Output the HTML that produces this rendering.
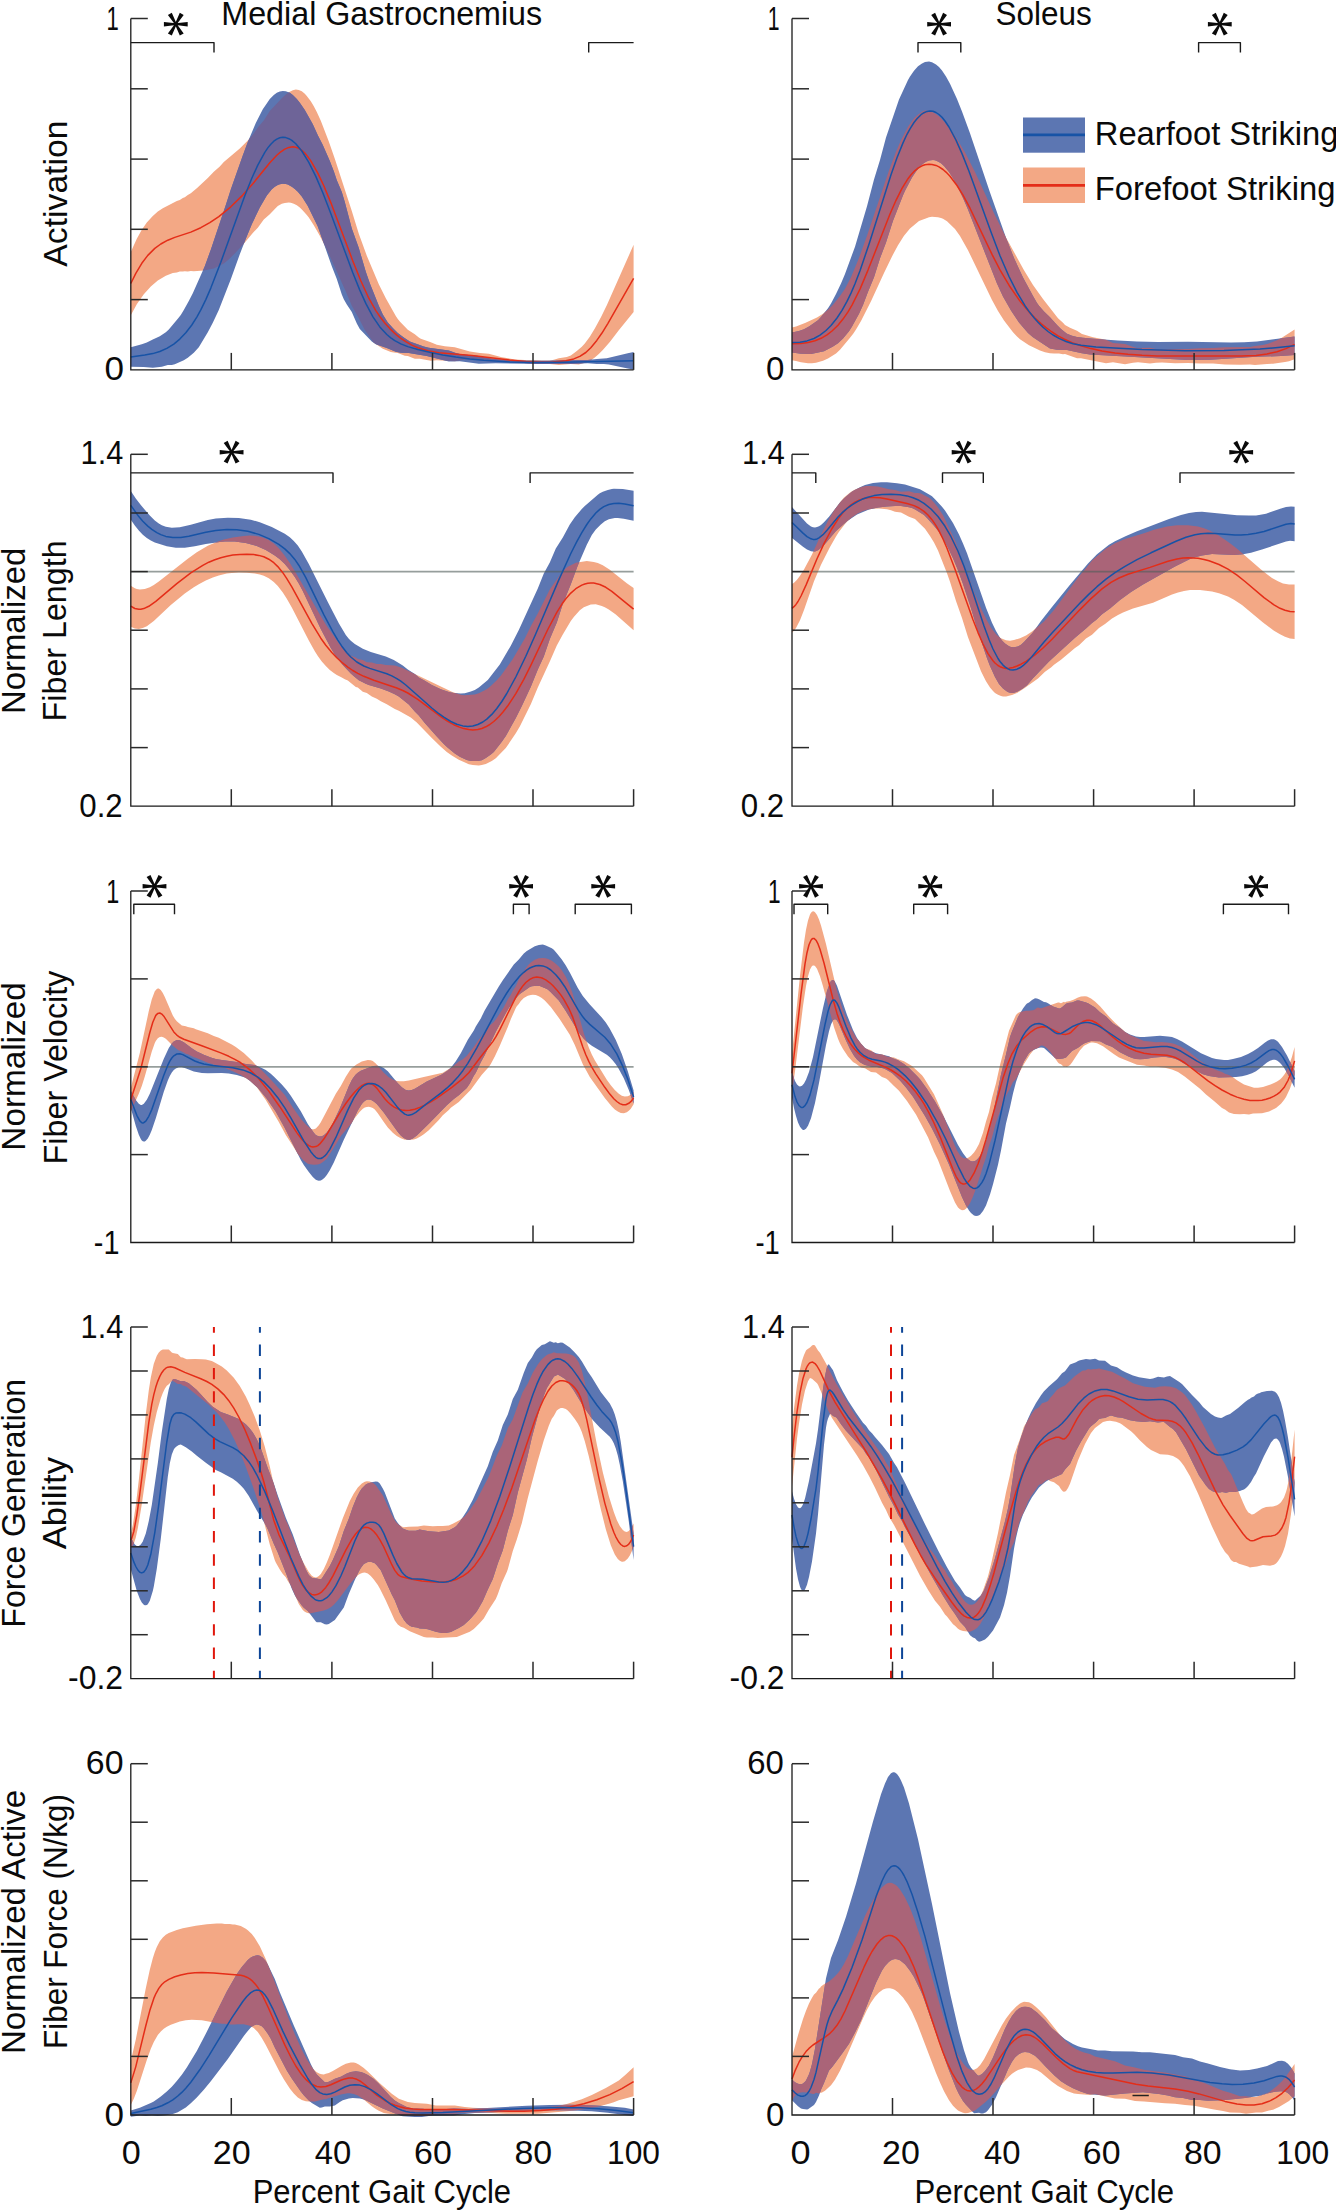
<!DOCTYPE html>
<html><head><meta charset="utf-8"><style>
html,body{margin:0;padding:0;background:#fff;}
svg{display:block;}
text{font-family:"Liberation Sans",sans-serif;fill:#0a0a0a;}
</style></head><body>
<svg width="1336" height="2211" viewBox="0 0 1336 2211">
<defs><clipPath id="c1"><path d="M130.8 251.9L136.8 238.7L141.8 229.8L146.8 222.5L152.8 215.9L157.8 211.6L162.8 208.3L176.8 201.1L179.8 200L182.8 198.1L184.8 197.2L187.8 195L190.8 193.3L196.8 188.2L207.8 178.1L213.8 171.8L219.8 166.4L223.8 162L239.8 148.5L247.8 140.4L252.8 134.7L258.8 126.3L263.8 120.5L269.8 111.1L281.8 98.2L285.8 94.4L288.8 92.2L292.8 90.3L295.8 89.5L298.8 89.9L301.8 91.2L304.8 93.7L306.8 95.9L310.8 101.3L313.8 106.3L316.8 111.9L320.8 120.8L328.8 141.6L334.8 158.8L351.8 210.9L358.8 233.7L366.8 255.7L378.8 284.3L385.8 298.3L395.8 315.9L397.8 319.1L399.8 321.6L407.8 329.8L414.8 334.3L418.8 337.6L420.8 338.8L430.8 342.3L436.8 344.8L444.8 346.2L454.8 347.3L469.8 351.6L479.8 353L488.8 353.8L501.8 357.2L514.8 359.4L524.8 360.1L531.8 360L541.8 360.6L549.8 360.4L553.8 359.7L558.8 358.2L566.8 357L570.8 355.5L576.8 351.1L581.8 346.7L584.8 343.5L589.8 336.7L594.8 328.6L600.8 317.5L606.8 305.2L633.6 244.8L633.6 312L618.8 330.2L609.8 341.9L602.8 349.9L598.8 354L594.8 357.5L589.8 360.9L586.8 362.3L578.8 364.6L570.8 364L558.8 364.9L549.8 363.9L531.8 363.9L519.8 362.4L506.8 361.4L497.8 361.1L488.8 361.4L479.8 360L470.8 359.3L463.8 359.8L454.8 361.3L436.8 360.3L430.8 360.8L419.8 358.7L414.8 358.7L407.8 356.1L404.8 355.8L397.8 352.9L393.8 352.6L390.8 352L382.8 348.8L373.8 342.7L364.8 330L358.8 318.3L351.8 305.7L345.8 291.6L326.8 249.4L319.8 235.7L313.8 225.2L308.8 217.4L306.8 214.9L302.8 210.4L299.8 207.6L296.8 205.3L293.8 203.7L290.8 202.8L288.8 202.6L284.8 202.9L281.8 203.8L277.8 206.1L275.8 207.9L269.8 214.3L263.8 219.6L257.8 227.7L252.8 233L243.8 243.7L234.8 253.5L227.8 260.2L223.8 263.5L213.8 268.4L203.8 270.6L193.8 271.2L190.8 270.9L187.8 271.4L184.8 271.2L182.8 271.6L179.8 271.6L176.8 272.5L172.8 273.1L165.8 275.7L157.8 280.5L150.8 286.4L143.8 294.3L136.8 304.3L130.8 315.2Z"/></clipPath><clipPath id="c2"><path d="M792 327.5L796 326.5L805 323.1L817 317.5L823 313.8L829 308.8L833 304.7L840 296L845 288.8L851 277.2L859 258L867 235.7L889 170.4L896 151.8L901 140.2L908 126.8L914 118.3L917 115.4L922 111.8L924 110.8L926 110.5L929 111L934 112.7L939 116.3L945 122.4L950 128.4L957 139.1L965 152.6L975 172L994 213.2L1006 237.6L1024 270.2L1033 284.9L1043 299L1058 318.2L1063 322.8L1065 325.1L1070 327.8L1077 330.8L1082 333.9L1093 337.2L1106 339.8L1113 342.9L1125 343.9L1132 346.5L1137 347.9L1150 347.8L1156 348.9L1162 349.5L1175 348.9L1188 349L1200 348.2L1213 348L1225 347.2L1250 346.9L1255 345.9L1263 344.9L1268 343.7L1277 340.2L1281 338.3L1294.6 329.6L1294.6 359.3L1289 361.2L1285 362.1L1273 363.8L1267 363.9L1255 365L1250 364.5L1240 364.8L1225 364.5L1213 363.6L1200 363.6L1188 363.1L1175 363.3L1162 362.5L1156 362.8L1150 363.6L1138 362.2L1133 362.7L1125 364.2L1113 362.3L1106 363.3L1081 358.3L1077 358.2L1065 353.9L1063 354.2L1059 353.4L1054 353.5L1050 353.2L1045 352.2L1040 350.6L1029 345.2L1020 339.2L1017 336.5L1013 332.2L1004 320.4L998 311.1L992 299.9L968 250.2L960 236.1L955 229.1L947 221.3L943 218.8L941 217.9L938 217.2L932 216.7L929 217.3L919 220.9L910 228.5L904 235.7L898 245.3L892 256.4L884 273L871 301.3L861 321L856 329.5L853 333.9L849 339.1L840 349.8L836 353.5L828 358.5L823 360.7L816 362.8L812 363.3L808 363.3L801 362.3L796 360.9L792 360.2Z"/></clipPath><clipPath id="c3"><path d="M130.8 585.7L134.8 588.3L136.8 589.1L139.8 589.6L144.8 589.1L149.8 587.2L153.8 585L158.8 581.5L187.8 558.7L196.8 552.3L207.8 545.8L217.8 541.5L223.8 539.5L232.8 537.4L243.8 535.9L249.8 535.6L253.8 535.8L258.8 536.4L262.8 537.5L268.8 540L273.8 543.4L278.8 548.2L284.8 555.7L289.8 563L295.8 572.7L318.8 612.8L326.8 626L340.8 646.1L347.8 653.8L350.8 655.7L355.8 657.6L357.8 659.1L362.8 660L366.8 662.3L371.8 662.5L376.8 664L380.8 664.1L385.8 664.9L394.8 665.6L401.8 667.7L451.8 691.8L456.8 693.6L461.8 694.9L464.8 695.3L474.8 694.6L478.8 693.2L484.8 690.3L487.8 688.5L490.8 686L496.8 680.2L500.8 675.8L512.8 659.1L524.8 638.5L530.8 626.2L537.8 613.5L549.8 589.4L560.8 573.7L564.8 569.2L567.8 566.8L575.8 562.8L586.8 560.9L593.8 561.9L597.8 563L602.8 565.2L609.8 569.7L626.8 583.3L633.6 588.1L633.6 630.3L615.8 614.5L608.8 609.4L604.8 607.2L601.8 605.9L595.8 604.3L590.8 604.5L583.8 607.2L579.8 610.3L573.8 617L570.8 621.1L562.8 634.4L556.8 645.4L549.8 661.5L537.8 687.4L530.8 704.3L519.8 726.6L515.8 733.3L505.8 748.1L495.8 758.3L491.8 761.1L485.8 763.9L481.8 765.1L478.8 765.4L472.8 764.9L468.8 764.2L458.8 759.7L451.8 755.5L446.8 752L440.8 746.8L431.8 738L416.8 722.5L410.8 717.4L398.8 710.8L394.8 709L386.8 704.3L380.8 701.3L376.8 698.7L371.8 696.6L366.8 692.9L362.8 691.7L357.8 687.6L355.8 686.9L347.8 680.4L344.8 679.2L341.8 677.4L336.8 675.1L333.8 673.1L329.8 669.9L325.8 666L321.8 661.4L317.8 656L314.8 651.2L308.8 640.5L291.8 607.4L286.8 598.7L282.8 592.5L277.8 586L273.8 582L268.8 578.3L263.8 575.8L259.8 574.5L254.8 573.6L246.8 572.8L238.8 572.5L231.8 572.9L226.8 573.6L218.8 575.5L212.8 577.6L205.8 580.5L198.8 584.2L193.8 587.2L184.8 593.5L170.8 605.1L153.8 621L146.8 626.2L142.8 628.1L138.8 629L134.8 628.6L130.8 626.7Z"/></clipPath><clipPath id="c4"><path d="M792 584L794 582.7L797 579.8L800 575.8L804 569.4L812 554.5L819 538.9L828 520.7L834 510.4L841 501L844 497.6L847 494.9L851 491.8L855 489.4L862 486.8L866 486.1L870 485.9L878 486.6L889 489.2L895 489.9L901 491.8L909 491.3L915 493L918 493L921 493.4L929 497.7L931 499.3L934 502.5L938 507.5L943 515.3L954 538.6L956 543.1L962 560L968 574.8L974 592.1L982 610.6L986 618.7L991 627.7L996 634.2L998 636.1L1001 638.3L1006 640.3L1010 640.7L1014 640L1020 638.2L1026 635.5L1032 631.6L1044 621.6L1054 609.9L1079 576.2L1086 568.3L1092 560.6L1106 548.4L1115 543.2L1125 539L1144 533.3L1154 529.7L1167 526.6L1177 525.2L1188 525.2L1198 526.6L1204 528.3L1209 530.3L1218 535.1L1225 539.7L1231 544.1L1238 549.6L1261 569.6L1267 574.3L1272 577.9L1278 581.3L1283 583.4L1289 584.6L1294.6 584.5L1294.6 639.1L1290 638.4L1285 636.7L1280 634.3L1274 630.7L1263 622.5L1242 605.1L1234 599.7L1228 596.5L1219 593.2L1212 591.5L1206 590.7L1200 590L1194 589.9L1190 590.1L1184 590.9L1178 592.4L1172 594.5L1153 602.8L1133 608.5L1123 612.6L1118 615L1112 618.6L1105 623.9L1099 628L1092 634.7L1086 638.6L1079 645.2L1075 648L1061 659.7L1054 664.7L1051 667.4L1045 671.7L1038 678.4L1024 688.6L1017 692.9L1012 695.1L1006 696.4L1003 696.4L1001 696L998 694.8L995 692.9L993 691.1L990 687.5L986 681.3L981 671.2L968 637.3L962 618L956 600.9L950 581.7L947 573.2L938 550.6L934 542.6L930 536L925 528.8L915 519.1L909 516.8L901 512.5L895 511.7L891 510.2L887 509.2L879 508.6L873 508.8L868 509.5L863 510.9L858 513.2L852 517.2L848 520.7L845 524.1L839 531.8L836 536.4L830 547L821 564.8L814 581.2L804 610L800 620.2L796 628L794 630.7L792 632.6Z"/></clipPath><clipPath id="c5"><path d="M130.8 1088.1L139.8 1053L148.8 1011.1L151.8 999.3L154.8 991.3L156.8 988.9L157.8 988.5L158.8 988.6L160.8 990.1L162.8 993.1L164.8 997.1L172.8 1015.4L174.8 1018.8L176.8 1021.3L181.8 1025.4L185.8 1026.3L187.8 1027.1L193.8 1028.2L195.8 1029.2L207.8 1033.3L213.8 1036L218.8 1037.8L231.8 1044.6L235.8 1047.1L243.8 1053L251.8 1060.6L255.8 1065L261.8 1070.3L269.8 1078.4L284.8 1095L292.8 1107.5L300.8 1118.7L305.8 1124.6L310.8 1128.7L311.8 1129.2L313.8 1129.2L315.8 1128.4L316.8 1127.6L318.8 1125.3L320.8 1122.3L335.8 1093.8L340.8 1086.1L345.8 1076.7L349.8 1070.6L351.8 1068L356.8 1064.2L361.8 1061.5L367.8 1059.9L370.8 1060.2L372.8 1061.1L375.8 1063.4L383.8 1072.8L388.8 1077.3L393.8 1080L396.8 1080.9L399.8 1081.3L403.8 1081.2L408.8 1080.6L423.8 1076.9L442.8 1072.7L448.8 1069.1L450.8 1068.3L458.8 1061.5L462.8 1059.2L466.8 1055.7L472.8 1048.3L478.8 1039.6L481.8 1036.1L489.8 1025.6L493.8 1021.9L496.8 1018L503.8 1007.3L507.8 999.5L510.8 994.8L512.8 990.8L515.8 986.2L518.8 979.6L522.8 972.8L525.8 968.2L527.8 965.6L530.8 962.6L534.8 959.8L538.8 958.3L542.8 957.9L545.8 958.3L548.8 959.3L551.8 960.8L554.8 962.9L558.8 966.6L561.8 970.3L565.8 976.8L568.8 983.2L572.8 994L575.8 1003.9L583.8 1033.2L588.8 1047.6L591.8 1054.4L594.8 1060.3L606.8 1079.7L610.8 1085.3L614.8 1090.1L618.8 1093.8L621.8 1095.7L624.8 1096.6L627.8 1096.3L630.8 1094.7L633.6 1091.7L633.6 1104.3L630.8 1108.7L628.8 1110.8L626.8 1112.2L623.8 1113.2L620.8 1112.9L617.8 1111.6L614.8 1109.4L611.8 1106.5L604.8 1097.9L589.8 1077.1L582.8 1064.2L574.8 1045.1L569.8 1034.8L559.8 1019.2L550.8 1007L544.8 1000.5L541.8 998L538.8 996.2L535.8 995.1L532.8 994.7L530.8 994.9L527.8 995.7L523.8 998.1L520.8 1000.9L518.8 1004L516.8 1006.3L515.8 1008L510.8 1019.2L507.8 1027.1L499.8 1045.8L494.8 1056.6L490.8 1064L488.8 1066.9L481.8 1074.8L470.8 1089.7L458.8 1102.1L450.8 1107.7L448.8 1110L442.8 1115.2L438.8 1120.1L428.8 1130.2L423.8 1134.3L420.8 1136.3L416.8 1138.4L413.8 1139.4L408.8 1140.1L404.8 1139.7L400.8 1138.3L396.8 1136L392.8 1132.8L387.8 1127.5L383.8 1122.1L377.8 1113.2L374.8 1109.6L372.8 1108.1L370.8 1107.2L368.8 1106.8L366.8 1106.9L364.8 1107.6L362.8 1108.8L359.8 1111.7L354.8 1118.1L351.8 1122.9L340.8 1136L335.8 1144.6L329.8 1154.1L326.8 1158.4L324.8 1160.6L320.8 1163.5L317.8 1164.6L313.8 1164.7L309.8 1164.3L307.8 1163.8L303.8 1160.8L297.8 1153.9L292.8 1145.7L285.8 1135.1L278.8 1121.9L265.8 1100.1L256.8 1087.3L249.8 1080.8L240.8 1074.9L232.8 1071.3L224.8 1068.1L218.8 1066.5L213.8 1064.5L207.8 1062.7L195.8 1057.8L193.8 1057.3L187.8 1054.2L185.8 1053.7L180.8 1050.9L178.8 1050.6L172.8 1045.7L165.8 1038.8L163.8 1037.4L161.8 1036.7L159.8 1036.9L157.8 1038.3L155.8 1041.1L154.8 1043.1L151.8 1051.4L144.8 1076.6L141.8 1086.1L138.8 1093.7L130.8 1111.4Z"/></clipPath><clipPath id="c6"><path d="M792 1054L800 975.8L804 942.5L806 929.8L808 920.4L810 914.6L811 912.8L812 911.8L813 911.3L814 911.5L815 912.2L817 915L819 919.5L821 925.4L826 944.1L836 986.9L839 997.9L843 1010.5L848 1022.7L856 1037.5L865 1047.9L866 1048.4L871 1050.3L876 1053.9L882 1054.3L887 1056.6L894 1057.4L898 1059.2L904 1061.3L912 1065.9L922 1075.2L924 1078L934 1094.2L943 1114.3L950 1132.4L953 1141L957 1150.4L960 1155.3L962 1157.2L964 1158.2L967 1158.2L969 1157.3L971 1155.8L974 1152.5L976 1149.5L979 1143.9L983 1132.8L986 1121.4L989 1111.9L992 1098.1L996 1083.2L1000 1065L1009 1030.7L1016 1014.9L1018 1012.9L1020 1012L1026 1010.8L1029 1010.8L1033 1010.2L1034 1010L1037 1007.8L1038 1007.5L1041 1008.2L1042 1008L1058 1002.6L1059 1002.4L1061 1003.3L1064 1001.8L1065 1002.4L1066 1001.7L1070 1001L1074 999.6L1078 997.4L1081 996.5L1085 996.2L1087 996.4L1091 998.5L1095 1001.6L1100 1006.3L1108 1015.6L1115 1022.8L1125 1031.7L1130 1035L1144 1041L1150 1041.5L1156 1042.3L1162 1042.1L1169 1042.7L1174 1043.8L1177 1044.9L1181 1046.8L1187 1050.5L1193 1055L1200 1060.8L1212 1068.1L1216 1070L1222 1072.1L1225 1073.7L1229 1074.9L1233 1077.2L1237 1080.2L1244 1084.5L1254 1087.8L1258 1087.7L1263 1086.9L1269 1085.1L1274 1083.1L1277 1081.5L1280 1079.5L1282 1077.6L1284 1075.1L1286 1072L1289 1065.5L1292 1056.8L1294.6 1047L1294.6 1074.7L1290 1088.6L1286 1096.9L1284 1100L1281 1103.8L1276 1108.1L1269 1111.6L1262 1113.3L1253 1113.6L1249 1114.4L1244 1114L1240 1114.3L1234 1114L1229 1112.5L1225 1109.6L1222 1108L1214 1101L1206 1094.5L1200 1088.7L1185 1076.8L1178 1072.1L1172 1069.4L1165 1067.8L1156 1066.7L1150 1066.8L1144 1065.4L1137 1064.8L1119 1057.4L1114 1054.2L1103 1046.2L1097 1043.2L1093 1042.5L1091 1042.6L1089 1043.2L1084 1045.8L1080 1050.2L1072 1062.5L1070 1064.9L1067 1067L1066 1067.1L1065 1066.6L1064 1067L1061 1064.3L1059 1063.5L1058 1062.5L1050 1051.6L1047 1048.2L1044 1046.1L1042 1045.4L1041 1045.5L1038 1047.9L1034 1049.5L1030 1054.4L1024 1064.1L1016 1078.9L1013 1082L1009 1090.5L1006 1095.9L1003 1102.9L996 1122.6L992 1137.6L989 1145.9L986 1157.6L983 1166L981 1173.1L975 1191.3L973 1196.6L970 1203.2L967 1207.7L965 1209.5L964 1209.9L962 1210.2L960 1209.2L958 1207.4L955 1202.4L950 1191L938 1160.1L934 1151.7L928 1137.2L916 1114.6L907 1101.1L899 1090.8L894 1086.1L888 1079.9L886 1078.6L882 1076.9L876 1072.5L871 1072L865 1068.2L861 1067.5L856 1063.8L853 1062.1L848 1056.6L843 1049L840 1043.4L838 1038.7L834 1027.3L823 986.2L820 976.2L817 968.8L815 966L814 965.4L813 965.4L812 966.1L810 969.6L808 976.2L806 986L803 1006L795 1071.2L792 1092.7Z"/></clipPath><clipPath id="c7"><path d="M130.8 1533.6L132.8 1525L135.8 1505.4L138.8 1479.9L145.8 1414.2L148.8 1390.2L150.8 1377.4L153.8 1363.8L156.8 1355.8L158.8 1352.6L160.8 1350.6L162.8 1349.6L164.8 1349.4L168.8 1349.4L171.8 1352.4L172.8 1353L177.8 1354.1L180.8 1357.2L182.8 1357.4L184.8 1358.6L186.8 1359.3L194.8 1358.9L201.8 1359.2L205.8 1359.6L211.8 1361.1L213.8 1361.9L221.8 1366.5L226.8 1370.5L233.8 1377.8L239.8 1386.1L245.8 1396.6L249.8 1404.9L254.8 1416.8L259.8 1430.4L264.8 1446.8L269.8 1466.5L272.8 1480.1L277.8 1497.7L285.8 1520.2L287.8 1524.3L290.8 1532.6L299.8 1554.9L303.8 1563.3L308.8 1572.1L311.8 1575.7L313.8 1577.1L315.8 1577.5L316.8 1577.3L318.8 1576.1L320.8 1574L323.8 1569.1L326.8 1562.5L329.8 1555L342.8 1518.2L349.8 1501.1L353.8 1493.5L357.8 1487.6L361.8 1483.6L364.8 1481.8L366.8 1481.3L369.8 1481.5L372.8 1482.8L375.8 1485.2L382.8 1495.3L390.8 1513.1L394.8 1520.5L396.8 1523L398.8 1524.7L402.8 1526.9L403.8 1527.2L408.8 1526.7L417.8 1526.4L423.8 1525.4L432.8 1526.2L437.8 1525.9L442.8 1526.1L448.8 1525.4L452.8 1523.8L459.8 1519.9L464.8 1516.3L469.8 1509.9L476.8 1499.7L488.8 1476.6L496.8 1455.5L501.8 1445.5L507.8 1428.3L512.8 1419.2L521.8 1394.4L522.8 1392.1L527.8 1383.6L532.8 1372.8L537.8 1364.5L541.8 1359.3L546.8 1354.9L548.8 1354L551.8 1353.2L553.8 1352.2L556.8 1353.3L565.8 1353.5L568.8 1353.9L571.8 1354.9L573.8 1356.1L575.8 1357.9L578.8 1362.4L581.8 1370.5L585.8 1386.5L596.8 1444.2L602.8 1472.3L608.8 1495.9L613.8 1512L616.8 1519.9L619.8 1526L622.8 1530.1L624.8 1531.6L626.8 1531.9L628.8 1531L630.8 1528.8L633.6 1523.4L633.6 1546.5L631.8 1551.3L629.8 1555.4L627.8 1558.5L624.8 1561.2L622.8 1561.7L621.8 1561.7L619.8 1560.8L617.8 1559L614.8 1554.4L610.8 1545.2L605.8 1529.2L600.8 1509.3L588.8 1456.3L584.8 1441.3L581.8 1432.1L579.8 1427.2L577.8 1423.4L574.8 1418.9L570.8 1413.7L567.8 1410.6L565.8 1409.1L562.8 1408L560.8 1408.1L558.8 1408.9L556.8 1410.6L553.8 1415.9L551.8 1418.8L548.8 1425.8L543.8 1440.2L537.8 1460.8L527.8 1497.9L521.8 1523.2L516.8 1539.4L512.8 1550.9L507.8 1569.3L506.8 1572L501.8 1583L497.8 1594.2L495.8 1598.9L488.8 1609.7L483.8 1618.6L479.8 1623.1L473.8 1629.1L469.8 1631.7L456.8 1637.1L437.8 1638.1L432.8 1637.5L426.8 1637.4L423.8 1636.9L409.8 1631.2L403.8 1627.8L400.8 1626.8L397.8 1624.6L394.8 1620.4L385.8 1600.4L379.8 1588.4L377.8 1585.1L373.8 1579.4L370.8 1575.9L367.8 1573.6L364.8 1572.6L362.8 1572.7L360.8 1573.4L358.8 1574.5L355.8 1577.2L350.8 1583L337.8 1600.3L333.8 1604.7L330.8 1607.2L327.8 1609.1L323.8 1610.5L310.8 1613.2L308.8 1613.2L306.8 1612.8L304.8 1611.8L302.8 1610L298.8 1604L290.8 1585.6L287.8 1581L285.8 1577.3L282.8 1573.9L279.8 1569.4L275.8 1562.6L274.8 1560.3L269.8 1544.5L261.8 1513.3L252.8 1486.2L244.8 1464.3L239.8 1451.8L234.8 1440.5L228.8 1428.9L224.8 1422.6L219.8 1416L215.8 1411.6L208.8 1404.8L186.8 1387.1L184.8 1386.1L182.8 1385.6L180.8 1384L177.8 1384L174.8 1381.9L172.8 1381.1L171.8 1381.3L170.8 1382L168.8 1384.3L166.8 1385.7L164.8 1388.7L162.8 1392.9L160.8 1398.2L156.8 1412L153.8 1425.5L150.8 1442.2L141.8 1504.3L137.8 1528.3L135.8 1537.4L133.8 1543.7L132.8 1545.6L131.8 1546.5L130.8 1546.4Z"/></clipPath><clipPath id="c8"><path d="M792 1428L794 1408.6L797 1385.4L799 1373.6L802 1360.8L804 1355L806 1350.6L807 1349.4L810 1347.5L812 1345.4L813 1345L814 1344.9L815 1345.6L818 1350.4L820 1352.8L826 1363.6L836 1383.3L850 1407L863 1427.9L883 1456.6L886 1462.4L889 1467.3L905 1503L915 1523.7L924 1539.6L930 1549L935 1555.6L940 1563.9L945 1570.3L948 1575.9L952 1581.6L955 1587.2L962 1597.7L965 1601.5L967 1603.3L969 1604.4L971 1604.8L973 1604.5L975 1603.4L977 1601.5L979 1598.7L981 1595L983 1590.5L988 1576.3L991 1564.6L998 1532.9L1006 1492.3L1010 1474.9L1014 1454.9L1020 1439L1024 1426.4L1032 1413.3L1035 1409.6L1039 1407.3L1042 1403.2L1046 1402L1048 1401L1050 1397.9L1053 1394.7L1057 1389.7L1061 1387.2L1065 1385.6L1075 1376.1L1082 1371.1L1083 1370.6L1085 1370.4L1088 1369.1L1091 1369.6L1094 1368.9L1095 1369.2L1099 1368.4L1112 1371.8L1121 1376.6L1125 1378.5L1133 1383.2L1143 1386.3L1145 1386.8L1155 1387.7L1160 1386.5L1165 1386.3L1171 1386.7L1176 1388.3L1182 1392.3L1185 1395.1L1187 1397.7L1192 1404.8L1196 1411.4L1205 1428L1215 1447.7L1225 1463.9L1228 1470.1L1231 1474L1232 1475.9L1243 1502.5L1246 1508.9L1248 1512L1249 1513L1250 1513.2L1251 1514.2L1252 1514.5L1254 1514L1262 1508.6L1266 1507.1L1273 1506.5L1277 1505.3L1279 1504.1L1281 1502.2L1284 1497.5L1286 1492.1L1287 1488.4L1289 1478.2L1291 1463.5L1294.6 1429.6L1294.6 1483.5L1291 1514L1288 1533.7L1285 1546.3L1283 1552L1281 1556.5L1278 1561.3L1276 1563.4L1274 1564.8L1270 1565.7L1263 1565.1L1257 1566.5L1251 1567.2L1250 1567.6L1248 1566.4L1239 1563.8L1236 1562.1L1234 1562L1233 1561.6L1231 1560L1228 1555.1L1225 1552.1L1221 1545.6L1212 1526.5L1198 1493.6L1190 1476.3L1184 1466.1L1181 1461.9L1179 1459.7L1177 1458.2L1173 1456.1L1168 1454.8L1160 1454.2L1151 1450.1L1147 1447L1140 1440.4L1134 1433.9L1131 1431.2L1122 1424.4L1120 1423.3L1116 1421.7L1110 1420.8L1107 1420.9L1103 1422.1L1095 1428L1092 1431.7L1091 1433L1085 1444.1L1078 1460.5L1070 1483.7L1068 1488.1L1066 1490.9L1065 1491.6L1064 1491.8L1063 1491.4L1061 1489.3L1059 1486L1058 1485.2L1054 1482.2L1050 1480.9L1048 1479.5L1045 1481.2L1042 1484.1L1039 1484.7L1031 1496.3L1028 1501.5L1024 1511.7L1020 1520L1014 1542.1L1010 1550.7L1006 1563.3L999 1580.8L995 1592.3L989 1605.6L984 1617.6L980 1624.5L977 1628L974 1630.1L970 1631.7L963 1631L960 1630L958 1628.7L955 1625.8L953 1624.3L947 1616.4L945 1614.5L940 1606.7L935 1600.8L928 1589.7L920 1575.8L899 1534.5L894 1525L889 1516.7L886 1510.1L882 1502.8L875 1487.8L869 1475.9L863 1465.3L857 1455.6L832 1417.9L828 1410L822 1394.1L818 1384.8L817 1383.2L812 1378.7L810 1378L808 1381.3L805 1390.4L802 1404.4L799 1423.4L797 1438.6L792 1486.5Z"/></clipPath><clipPath id="c9"><path d="M130.8 2061L135.8 2039.4L145.8 1988.2L149.8 1969.7L152.8 1958.2L154.8 1952.1L156.8 1947L159.8 1941.3L162.8 1937.4L165.8 1934.8L168.8 1933.1L176.8 1930L182.8 1928.2L195.8 1925.7L206.8 1924.3L216.8 1923.5L221.8 1923.6L224.8 1924L229.8 1923.9L232.8 1924.5L234.8 1924.6L240.8 1926.1L245.8 1928.7L247.8 1930.2L251.8 1934.1L254.8 1938L259.8 1946.3L265.8 1959.2L271.8 1974.2L289.8 2021.8L294.8 2034.2L301.8 2049.7L306.8 2059.4L311.8 2067.1L313.8 2069.5L316.8 2072.2L319.8 2073.8L321.8 2074.3L323.8 2074.4L325.8 2073.7L328.8 2073.1L332.8 2071.1L341.8 2065.7L345.8 2063.7L350.8 2062.5L353.8 2062.6L355.8 2063.1L358.8 2064.5L363.8 2068L368.8 2072.5L379.8 2083.3L391.8 2093.8L398.8 2098.7L407.8 2101.9L414.8 2103.1L426.8 2103.7L435.8 2105.6L454.8 2105.5L464.8 2107.1L472.8 2107.8L494.8 2108.7L524.8 2108.9L549.8 2107L557.8 2106L566.8 2104L581.8 2099.3L591.8 2095L605.8 2088.1L618.8 2080.4L625.8 2074.6L633.6 2067.2L633.6 2096.2L618.8 2100.2L613.8 2102.3L609.8 2103.5L598.8 2106.5L587.8 2108.5L572.8 2110.7L537.8 2113.8L506.8 2113.8L486.8 2112.8L468.8 2112.4L462.8 2112.7L454.8 2113.7L436.8 2113.5L425.8 2115.8L418.8 2115.7L407.8 2115L405.8 2115.2L398.8 2114.3L394.8 2114.6L386.8 2113.6L383.8 2112.9L378.8 2110.8L375.8 2109.1L371.8 2106.2L362.8 2098.8L357.8 2095.5L353.8 2094L349.8 2093.3L347.8 2093.3L341.8 2094.2L328.8 2098L325.8 2099.2L323.8 2099.3L314.8 2101.4L308.8 2101.5L305.8 2101.2L301.8 2099.9L297.8 2097.4L293.8 2093.5L289.8 2088.4L283.8 2079.3L279.8 2072.3L265.8 2045L261.8 2037.9L257.8 2032.1L253.8 2028.1L249.8 2025.8L243.8 2024.3L237.8 2024.2L234.8 2024.6L232.8 2024.4L229.8 2024.6L224.8 2023.8L221.8 2023.7L216.8 2023.1L201.8 2020.2L191.8 2019.7L185.8 2020.2L179.8 2021.4L170.8 2024.7L166.8 2026.7L163.8 2028.7L160.8 2031.5L157.8 2035.1L153.8 2041.9L150.8 2048.8L146.8 2060.1L136.8 2091L133.8 2098.8L130.8 2104.9Z"/></clipPath><clipPath id="c10"><path d="M792 2057.1L798 2035.2L803 2018.9L806 2010.7L809 2003.6L812 1997.7L814 1994.5L816 1992.8L819 1988.4L820 1987.9L821 1986.6L824 1984.3L829 1981.4L834 1977.2L838 1973.1L841 1969L844 1964L848 1956.1L865 1916.1L870 1905.7L873 1900.3L878 1892.2L882 1887.2L886 1883.9L888 1883.1L890 1882.7L892 1883L895 1884.4L897 1886L900 1889.4L905 1897.4L910 1908L915 1921L921 1939.1L941 2008.8L945 2021.7L950 2036L955 2048.5L958 2054.8L961 2060.2L963 2063.2L966 2066.7L968 2068.5L970 2069.5L972 2070L974 2069.7L977 2068.2L980 2065.2L984 2059.3L1002 2024.9L1006 2018.5L1011 2012L1016 2006.7L1020 2003.5L1022 2002.5L1024 2001.8L1029 2002.3L1032 2003.8L1036 2006.9L1040 2010.7L1046 2017.3L1060 2034.9L1065 2040.5L1071 2045.8L1075 2048.4L1080 2051L1084 2052.4L1090 2054L1095 2056.6L1115 2061.3L1125 2065.6L1135 2067.4L1145 2069.9L1165 2072.6L1185 2076.3L1205 2083.2L1223 2090.7L1230 2092.7L1240 2096.2L1246 2096.3L1252 2097L1256 2097L1266 2093.5L1269 2092.2L1277 2086.1L1282 2081.2L1286 2076.4L1294.6 2064L1294.6 2096.1L1289 2101.1L1279 2107L1273 2109.8L1269 2110.5L1262 2112.6L1256 2112.6L1246 2113.8L1240 2112.7L1230 2112.4L1223 2110.9L1214 2109.6L1194 2105.8L1185 2105.1L1175 2103.7L1165 2103.3L1144 2101.4L1135 2100.9L1125 2098.7L1115 2098.6L1095 2094.3L1090 2094.9L1078 2094L1074 2093.4L1067 2090.9L1058 2085.9L1052 2081.7L1041 2072.6L1037 2070.1L1032 2068.2L1030 2067.7L1026 2067.5L1018 2070L1015 2071.7L1012 2073.8L1009 2076.6L999 2087.2L995 2092.3L988 2099.8L985 2102.5L975 2110.4L971 2112.1L968 2112.9L965 2113.2L963 2112.7L960 2111.6L958 2110.4L956 2108.8L953 2105.7L949 2100.3L944 2091.3L940 2082.6L936 2072.9L917 2023.2L912 2012.1L908 2004.7L903 1997.4L898 1992.2L895 1990.1L893 1989.1L890 1988.2L888 1988.2L886 1988.5L883 1989.6L879 1992.4L875 1996.8L871 2002.6L867 2009.8L863 2018.3L845 2060L840 2070.8L835 2079.7L831 2085.2L825 2090.8L822 2092.5L821 2092.8L820 2092.7L819 2093.5L816 2092.8L814 2093.9L813 2093.9L807 2092.5L803 2092.2L799 2092.8L797 2093.9L795 2095.7L794 2096.9L792 2100.7Z"/></clipPath></defs>
<path d="M130.8 251.9L136.8 238.7L141.8 229.8L146.8 222.5L152.8 215.9L157.8 211.6L162.8 208.3L176.8 201.1L179.8 200L182.8 198.1L184.8 197.2L187.8 195L190.8 193.3L196.8 188.2L207.8 178.1L213.8 171.8L219.8 166.4L223.8 162L239.8 148.5L247.8 140.4L252.8 134.7L258.8 126.3L263.8 120.5L269.8 111.1L281.8 98.2L285.8 94.4L288.8 92.2L292.8 90.3L295.8 89.5L298.8 89.9L301.8 91.2L304.8 93.7L306.8 95.9L310.8 101.3L313.8 106.3L316.8 111.9L320.8 120.8L328.8 141.6L334.8 158.8L351.8 210.9L358.8 233.7L366.8 255.7L378.8 284.3L385.8 298.3L395.8 315.9L397.8 319.1L399.8 321.6L407.8 329.8L414.8 334.3L418.8 337.6L420.8 338.8L430.8 342.3L436.8 344.8L444.8 346.2L454.8 347.3L469.8 351.6L479.8 353L488.8 353.8L501.8 357.2L514.8 359.4L524.8 360.1L531.8 360L541.8 360.6L549.8 360.4L553.8 359.7L558.8 358.2L566.8 357L570.8 355.5L576.8 351.1L581.8 346.7L584.8 343.5L589.8 336.7L594.8 328.6L600.8 317.5L606.8 305.2L633.6 244.8L633.6 312L618.8 330.2L609.8 341.9L602.8 349.9L598.8 354L594.8 357.5L589.8 360.9L586.8 362.3L578.8 364.6L570.8 364L558.8 364.9L549.8 363.9L531.8 363.9L519.8 362.4L506.8 361.4L497.8 361.1L488.8 361.4L479.8 360L470.8 359.3L463.8 359.8L454.8 361.3L436.8 360.3L430.8 360.8L419.8 358.7L414.8 358.7L407.8 356.1L404.8 355.8L397.8 352.9L393.8 352.6L390.8 352L382.8 348.8L373.8 342.7L364.8 330L358.8 318.3L351.8 305.7L345.8 291.6L326.8 249.4L319.8 235.7L313.8 225.2L308.8 217.4L306.8 214.9L302.8 210.4L299.8 207.6L296.8 205.3L293.8 203.7L290.8 202.8L288.8 202.6L284.8 202.9L281.8 203.8L277.8 206.1L275.8 207.9L269.8 214.3L263.8 219.6L257.8 227.7L252.8 233L243.8 243.7L234.8 253.5L227.8 260.2L223.8 263.5L213.8 268.4L203.8 270.6L193.8 271.2L190.8 270.9L187.8 271.4L184.8 271.2L182.8 271.6L179.8 271.6L176.8 272.5L172.8 273.1L165.8 275.7L157.8 280.5L150.8 286.4L143.8 294.3L136.8 304.3L130.8 315.2Z" fill="#f3a885"/>
<path d="M130.8 347.3L141.8 344.3L146.8 342.6L152.8 339.4L159.8 336.3L165.8 332.3L168.8 329.6L177.8 318.8L180.8 314.9L183.8 310L188.8 301.1L192.8 293.3L204.8 266.2L210.8 249.7L225.8 205.1L230.8 189.4L242.8 155.4L247.8 142.1L255.8 123L262.8 109.3L269.8 99.1L273.8 94.9L276.8 92.7L279.8 91.5L282.8 91L285.8 91.2L289.8 92.7L292.8 94.9L296.8 98.9L299.8 102.7L304.8 110.1L312.8 124.3L317.8 135.2L322.8 145.1L329.8 161L333.8 171.3L336.8 180.2L341.8 192.1L344.8 201.9L351.8 228.4L358.8 248L365.8 271.8L369.8 283.3L378.8 305.7L382.8 314.4L387.8 322.6L393.8 329.1L397.8 332.9L403.8 337.6L409.8 341.4L423.8 346.4L428.8 347.8L448.8 350.5L455.8 352.9L460.8 354.2L478.8 355.9L490.8 358.4L504.8 359.9L524.8 360.7L547.8 360.8L587.8 360L596.8 358.9L606.8 358.2L627.8 353.2L633.6 352.1L633.6 369.4L627.8 368.5L608.8 364.5L603.8 364L596.8 364L587.8 363.3L568.8 363.9L537.8 364L495.8 363.2L478.8 363.7L459.8 361.3L448.8 361.5L426.8 356L408.8 352.9L400.8 352.7L395.8 351.7L386.8 347.9L375.8 344.3L371.8 341.5L359.8 329L356.8 323.6L351.8 312.1L346.8 304.6L343.8 299.3L341.8 294.6L336.8 279.1L331.8 266.2L317.8 226.6L307.8 205.9L301.8 196.5L297.8 191.8L294.8 188.9L291.8 186.7L287.8 184.6L285.8 184L282.8 183.7L279.8 184.2L277.8 184.9L274.8 186.7L271.8 189.3L266.8 195.4L259.8 207.4L251.8 224.2L245.8 238.8L239.8 254.2L230.8 279.3L218.8 309.9L212.8 322.7L207.8 332.3L198.8 347.3L193.8 352.8L187.8 357.8L183.8 360.2L174.8 364.3L171.8 365L167.8 365.1L161.8 366.7L152.8 367.7L143.8 366.9L130.8 366.8Z" fill="#5c76b2"/>
<path d="M130.8 347.3L141.8 344.3L146.8 342.6L152.8 339.4L159.8 336.3L165.8 332.3L168.8 329.6L177.8 318.8L180.8 314.9L183.8 310L188.8 301.1L192.8 293.3L204.8 266.2L210.8 249.7L225.8 205.1L230.8 189.4L242.8 155.4L247.8 142.1L255.8 123L262.8 109.3L269.8 99.1L273.8 94.9L276.8 92.7L279.8 91.5L282.8 91L285.8 91.2L289.8 92.7L292.8 94.9L296.8 98.9L299.8 102.7L304.8 110.1L312.8 124.3L317.8 135.2L322.8 145.1L329.8 161L333.8 171.3L336.8 180.2L341.8 192.1L344.8 201.9L351.8 228.4L358.8 248L365.8 271.8L369.8 283.3L378.8 305.7L382.8 314.4L387.8 322.6L393.8 329.1L397.8 332.9L403.8 337.6L409.8 341.4L423.8 346.4L428.8 347.8L448.8 350.5L455.8 352.9L460.8 354.2L478.8 355.9L490.8 358.4L504.8 359.9L524.8 360.7L547.8 360.8L587.8 360L596.8 358.9L606.8 358.2L627.8 353.2L633.6 352.1L633.6 369.4L627.8 368.5L608.8 364.5L603.8 364L596.8 364L587.8 363.3L568.8 363.9L537.8 364L495.8 363.2L478.8 363.7L459.8 361.3L448.8 361.5L426.8 356L408.8 352.9L400.8 352.7L395.8 351.7L386.8 347.9L375.8 344.3L371.8 341.5L359.8 329L356.8 323.6L351.8 312.1L346.8 304.6L343.8 299.3L341.8 294.6L336.8 279.1L331.8 266.2L317.8 226.6L307.8 205.9L301.8 196.5L297.8 191.8L294.8 188.9L291.8 186.7L287.8 184.6L285.8 184L282.8 183.7L279.8 184.2L277.8 184.9L274.8 186.7L271.8 189.3L266.8 195.4L259.8 207.4L251.8 224.2L245.8 238.8L239.8 254.2L230.8 279.3L218.8 309.9L212.8 322.7L207.8 332.3L198.8 347.3L193.8 352.8L187.8 357.8L183.8 360.2L174.8 364.3L171.8 365L167.8 365.1L161.8 366.7L152.8 367.7L143.8 366.9L130.8 366.8Z" fill="#6e6498" clip-path="url(#c1)"/>
<path d="M130.8 283.5L135.8 273.4L141.8 263.3L147.8 255.4L154.8 248.4L160.8 244L167.8 240.2L174.8 237.4L190.8 232.1L200.8 227.7L209.8 222.7L218.8 216.6L230.8 206.8L242.8 195.1L252.8 183.8L269.8 162.7L276.8 155.2L280.8 151.8L284.8 149.1L288.8 147.4L292.8 146.8L295.8 147.2L298.8 148.3L301.8 150.3L304.8 153.1L307.8 156.7L310.8 160.9L317.8 173.1L323.8 185.8L330.8 202.6L352.8 260.9L360.8 280.8L368.8 298.2L375.8 310.6L379.8 316.5L384.8 323L389.8 328.6L394.8 333.4L399.8 337.6L405.8 341.7L411.8 345.1L417.8 347.7L427.8 350.8L438.8 352.8L471.8 355.6L509.8 360.1L525.8 361.6L539.8 362.2L552.8 362L565.8 360.7L573.8 358.9L579.8 356.4L585.8 352.5L590.8 347.7L596.8 340.4L601.8 333.3L607.8 323.6L633.6 278.4" fill="none" stroke="#e42d18" stroke-width="1.5" stroke-linejoin="round"/>
<path d="M130.8 357.1L144.8 355.1L152.8 353.6L159.8 351.5L166.8 348.4L173.8 344.1L179.8 339.1L185.8 332.8L191.8 325L196.8 317.1L200.8 309.9L205.8 299.6L210.8 288.1L220.8 262.2L244.8 195.7L251.8 178.3L257.8 165.1L264.8 152.3L267.8 147.9L270.8 144.2L273.8 141.2L276.8 139.1L279.8 137.8L282.8 137.3L285.8 137.6L288.8 138.7L291.8 140.4L295.8 143.8L301.8 151L308.8 162.3L315.8 176.4L322.8 192.8L330.8 213.4L352.8 272.8L359.8 290.1L365.8 303.4L372.8 316.6L379.8 326.9L386.8 334.5L390.8 337.9L394.8 340.7L400.8 343.9L407.8 346.6L417.8 349.5L429.8 352.3L442.8 354.9L455.8 357.1L469.8 358.9L483.8 360.3L509.8 361.9L537.8 362.4L563.8 362.2L633.6 360.8" fill="none" stroke="#1753a6" stroke-width="1.5" stroke-linejoin="round"/>
<path d="M130.8 18.5 L130.8 369.9 L633.6 369.9" fill="none" stroke="#1a1a1a" stroke-width="1.3"/>
<line x1="130.8" y1="18.5" x2="147.8" y2="18.5" stroke="#2a2a2a" stroke-width="1.5" />
<line x1="130.8" y1="88.8" x2="147.8" y2="88.8" stroke="#2a2a2a" stroke-width="1.5" />
<line x1="130.8" y1="159.1" x2="147.8" y2="159.1" stroke="#2a2a2a" stroke-width="1.5" />
<line x1="130.8" y1="229.3" x2="147.8" y2="229.3" stroke="#2a2a2a" stroke-width="1.5" />
<line x1="130.8" y1="299.6" x2="147.8" y2="299.6" stroke="#2a2a2a" stroke-width="1.5" />
<line x1="231.3" y1="369.9" x2="231.3" y2="352.9" stroke="#2a2a2a" stroke-width="1.5" />
<line x1="331.9" y1="369.9" x2="331.9" y2="352.9" stroke="#2a2a2a" stroke-width="1.5" />
<line x1="432.5" y1="369.9" x2="432.5" y2="352.9" stroke="#2a2a2a" stroke-width="1.5" />
<line x1="533" y1="369.9" x2="533" y2="352.9" stroke="#2a2a2a" stroke-width="1.5" />
<line x1="633.6" y1="369.9" x2="633.6" y2="352.9" stroke="#2a2a2a" stroke-width="1.5" />
<path d="M792 327.5L796 326.5L805 323.1L817 317.5L823 313.8L829 308.8L833 304.7L840 296L845 288.8L851 277.2L859 258L867 235.7L889 170.4L896 151.8L901 140.2L908 126.8L914 118.3L917 115.4L922 111.8L924 110.8L926 110.5L929 111L934 112.7L939 116.3L945 122.4L950 128.4L957 139.1L965 152.6L975 172L994 213.2L1006 237.6L1024 270.2L1033 284.9L1043 299L1058 318.2L1063 322.8L1065 325.1L1070 327.8L1077 330.8L1082 333.9L1093 337.2L1106 339.8L1113 342.9L1125 343.9L1132 346.5L1137 347.9L1150 347.8L1156 348.9L1162 349.5L1175 348.9L1188 349L1200 348.2L1213 348L1225 347.2L1250 346.9L1255 345.9L1263 344.9L1268 343.7L1277 340.2L1281 338.3L1294.6 329.6L1294.6 359.3L1289 361.2L1285 362.1L1273 363.8L1267 363.9L1255 365L1250 364.5L1240 364.8L1225 364.5L1213 363.6L1200 363.6L1188 363.1L1175 363.3L1162 362.5L1156 362.8L1150 363.6L1138 362.2L1133 362.7L1125 364.2L1113 362.3L1106 363.3L1081 358.3L1077 358.2L1065 353.9L1063 354.2L1059 353.4L1054 353.5L1050 353.2L1045 352.2L1040 350.6L1029 345.2L1020 339.2L1017 336.5L1013 332.2L1004 320.4L998 311.1L992 299.9L968 250.2L960 236.1L955 229.1L947 221.3L943 218.8L941 217.9L938 217.2L932 216.7L929 217.3L919 220.9L910 228.5L904 235.7L898 245.3L892 256.4L884 273L871 301.3L861 321L856 329.5L853 333.9L849 339.1L840 349.8L836 353.5L828 358.5L823 360.7L816 362.8L812 363.3L808 363.3L801 362.3L796 360.9L792 360.2Z" fill="#f3a885"/>
<path d="M792 332.4L799 330.9L804 329.2L809 326.5L818 320.3L821 317L828 308.2L831 303.5L836 294.1L841 283.5L845 274.1L855 246.7L867 206.3L874 179.4L880 160L886 137.6L899 99.5L908 80.1L910 76.5L914 70.7L918 66.3L922 63.4L925 62.1L929 61.5L932 62.2L936 64.4L939 66.9L942 70.6L946 76.6L950 83.7L957 98.9L962 111.4L970 133.2L990 192.6L1006 237.7L1014 258.1L1023 277.6L1033 296.1L1037 302.9L1039 305.7L1044 311.6L1050 317.3L1057 325L1061 328.9L1065 332.2L1067 333.7L1072 335.7L1077 336.9L1083 337.7L1097 339.1L1118 340.5L1137 341.5L1158 342L1188 341.8L1231 342.4L1244 342.2L1257 341.6L1294.6 336.6L1294.6 355L1281 356.1L1256 356.8L1210 359.7L1188 359.9L1090 354.4L1082 353.3L1067 350L1057 349.7L1050 348.6L1033 337.2L1028 333L1019 322.5L1011 310.6L1003 296.4L997 283.6L968 209.6L963 197.9L956 183.6L953 178.2L949 172.1L944 165.9L941 163.3L938 161.5L935 160.3L933 160L929 160.6L926 161.8L923 163.7L920 166.5L916 171.4L912 177.5L905 190.7L903 195.2L893 220.8L886 242.5L880 258.3L874 277.3L868 291.8L863 305.1L859 313.8L852 326.5L849 331.3L843 338.4L838 343.2L833 346.6L824 351.2L811 354.1L801 353.8L792 352.6Z" fill="#5c76b2"/>
<path d="M792 332.4L799 330.9L804 329.2L809 326.5L818 320.3L821 317L828 308.2L831 303.5L836 294.1L841 283.5L845 274.1L855 246.7L867 206.3L874 179.4L880 160L886 137.6L899 99.5L908 80.1L910 76.5L914 70.7L918 66.3L922 63.4L925 62.1L929 61.5L932 62.2L936 64.4L939 66.9L942 70.6L946 76.6L950 83.7L957 98.9L962 111.4L970 133.2L990 192.6L1006 237.7L1014 258.1L1023 277.6L1033 296.1L1037 302.9L1039 305.7L1044 311.6L1050 317.3L1057 325L1061 328.9L1065 332.2L1067 333.7L1072 335.7L1077 336.9L1083 337.7L1097 339.1L1118 340.5L1137 341.5L1158 342L1188 341.8L1231 342.4L1244 342.2L1257 341.6L1294.6 336.6L1294.6 355L1281 356.1L1256 356.8L1210 359.7L1188 359.9L1090 354.4L1082 353.3L1067 350L1057 349.7L1050 348.6L1033 337.2L1028 333L1019 322.5L1011 310.6L1003 296.4L997 283.6L968 209.6L963 197.9L956 183.6L953 178.2L949 172.1L944 165.9L941 163.3L938 161.5L935 160.3L933 160L929 160.6L926 161.8L923 163.7L920 166.5L916 171.4L912 177.5L905 190.7L903 195.2L893 220.8L886 242.5L880 258.3L874 277.3L868 291.8L863 305.1L859 313.8L852 326.5L849 331.3L843 338.4L838 343.2L833 346.6L824 351.2L811 354.1L801 353.8L792 352.6Z" fill="#aa6478" clip-path="url(#c2)"/>
<path d="M792 343.8L801 343.4L808 342.5L815 340.7L821 338.3L827 334.8L832 331L838 325.2L843 319.1L848 311.9L852 305.1L860 289.1L868 270.1L890 214L896 200.3L902 188.4L908 178.7L911 174.8L915 170.6L918 168.2L922 165.8L925 164.7L929 164.2L932 164.4L936 165.4L939 166.9L943 169.5L946 172.1L950 176.3L957 185.5L963 195.2L970 208.2L992 254.4L1000 269.9L1010 286.8L1020 301.1L1030 313L1035 318.1L1041 323.6L1046 327.7L1052 332L1058 335.8L1064 339L1072 342.6L1081 345.8L1091 348.6L1102 350.9L1115 352.9L1128 354.3L1142 355.3L1157 355.9L1241 355.9L1256 355.4L1267 354L1277 351.7L1286 348.6L1294.6 344.4" fill="none" stroke="#e42d18" stroke-width="1.5" stroke-linejoin="round"/>
<path d="M792 342.5L800 342.2L807 340.9L814 338.5L820 335.1L826 330.5L831 325.5L837 318L842 310.4L847 301.4L851 293.1L855 283.8L860 270.7L869 244.2L891 174.8L897 157.8L903 142.9L907 134.3L910 128.8L914 122.5L917 118.7L921 114.7L924 112.7L927 111.4L930 111L933 111.3L936 112.5L939 114.5L942 117.3L945 121L949 127L956 140.1L962 153.6L969 171.3L991 232.1L1000 255.7L1009 276.5L1017 292.3L1025 305.7L1029 311.4L1034 317.8L1038 322.3L1043 327.3L1048 331.5L1053 335L1059 338.4L1066 341.5L1073 343.7L1081 345.3L1096 346.9L1142 349.5L1185 350.8L1224 350.6L1260 349L1278 347.5L1294.6 345.8" fill="none" stroke="#1753a6" stroke-width="1.5" stroke-linejoin="round"/>
<path d="M792 18.5 L792 369.9 L1294.6 369.9" fill="none" stroke="#1a1a1a" stroke-width="1.3"/>
<line x1="792" y1="18.5" x2="809" y2="18.5" stroke="#2a2a2a" stroke-width="1.5" />
<line x1="792" y1="88.8" x2="809" y2="88.8" stroke="#2a2a2a" stroke-width="1.5" />
<line x1="792" y1="159.1" x2="809" y2="159.1" stroke="#2a2a2a" stroke-width="1.5" />
<line x1="792" y1="229.3" x2="809" y2="229.3" stroke="#2a2a2a" stroke-width="1.5" />
<line x1="792" y1="299.6" x2="809" y2="299.6" stroke="#2a2a2a" stroke-width="1.5" />
<line x1="892.5" y1="369.9" x2="892.5" y2="352.9" stroke="#2a2a2a" stroke-width="1.5" />
<line x1="993" y1="369.9" x2="993" y2="352.9" stroke="#2a2a2a" stroke-width="1.5" />
<line x1="1093.6" y1="369.9" x2="1093.6" y2="352.9" stroke="#2a2a2a" stroke-width="1.5" />
<line x1="1194.1" y1="369.9" x2="1194.1" y2="352.9" stroke="#2a2a2a" stroke-width="1.5" />
<line x1="1294.6" y1="369.9" x2="1294.6" y2="352.9" stroke="#2a2a2a" stroke-width="1.5" />
<path d="M130.8 585.7L134.8 588.3L136.8 589.1L139.8 589.6L144.8 589.1L149.8 587.2L153.8 585L158.8 581.5L187.8 558.7L196.8 552.3L207.8 545.8L217.8 541.5L223.8 539.5L232.8 537.4L243.8 535.9L249.8 535.6L253.8 535.8L258.8 536.4L262.8 537.5L268.8 540L273.8 543.4L278.8 548.2L284.8 555.7L289.8 563L295.8 572.7L318.8 612.8L326.8 626L340.8 646.1L347.8 653.8L350.8 655.7L355.8 657.6L357.8 659.1L362.8 660L366.8 662.3L371.8 662.5L376.8 664L380.8 664.1L385.8 664.9L394.8 665.6L401.8 667.7L451.8 691.8L456.8 693.6L461.8 694.9L464.8 695.3L474.8 694.6L478.8 693.2L484.8 690.3L487.8 688.5L490.8 686L496.8 680.2L500.8 675.8L512.8 659.1L524.8 638.5L530.8 626.2L537.8 613.5L549.8 589.4L560.8 573.7L564.8 569.2L567.8 566.8L575.8 562.8L586.8 560.9L593.8 561.9L597.8 563L602.8 565.2L609.8 569.7L626.8 583.3L633.6 588.1L633.6 630.3L615.8 614.5L608.8 609.4L604.8 607.2L601.8 605.9L595.8 604.3L590.8 604.5L583.8 607.2L579.8 610.3L573.8 617L570.8 621.1L562.8 634.4L556.8 645.4L549.8 661.5L537.8 687.4L530.8 704.3L519.8 726.6L515.8 733.3L505.8 748.1L495.8 758.3L491.8 761.1L485.8 763.9L481.8 765.1L478.8 765.4L472.8 764.9L468.8 764.2L458.8 759.7L451.8 755.5L446.8 752L440.8 746.8L431.8 738L416.8 722.5L410.8 717.4L398.8 710.8L394.8 709L386.8 704.3L380.8 701.3L376.8 698.7L371.8 696.6L366.8 692.9L362.8 691.7L357.8 687.6L355.8 686.9L347.8 680.4L344.8 679.2L341.8 677.4L336.8 675.1L333.8 673.1L329.8 669.9L325.8 666L321.8 661.4L317.8 656L314.8 651.2L308.8 640.5L291.8 607.4L286.8 598.7L282.8 592.5L277.8 586L273.8 582L268.8 578.3L263.8 575.8L259.8 574.5L254.8 573.6L246.8 572.8L238.8 572.5L231.8 572.9L226.8 573.6L218.8 575.5L212.8 577.6L205.8 580.5L198.8 584.2L193.8 587.2L184.8 593.5L170.8 605.1L153.8 621L146.8 626.2L142.8 628.1L138.8 629L134.8 628.6L130.8 626.7Z" fill="#f3a885"/>
<path d="M130.8 491L135.8 498.4L140.8 505.1L149.8 515.6L154.8 520.4L158.8 523.5L161.8 525.2L165.8 526.8L171.8 527.7L179.8 527.2L190.8 524.8L207.8 520.1L215.8 518.5L227.8 517.7L238.8 518.1L250.8 519.7L259.8 522.3L271.8 527L284.8 533.7L289.8 537.2L293.8 540.9L297.8 545.5L301.8 551.4L308.8 563.9L327.8 602.1L338.8 623.2L345.8 634.9L348.8 638.8L350.8 640.7L354.8 644L362.8 648.8L370.8 651.9L385.8 656.4L393.8 660.1L402.8 665.4L407.8 669.6L414.8 674.1L418.8 677.4L424.8 680.7L431.8 685.1L440.8 689.3L448.8 692.1L453.8 693.1L460.8 693.6L464.8 693.2L470.8 691.6L474.8 690L478.8 687.4L487.8 680L499.8 664.5L510.8 645.7L518.8 629.9L537.8 588.4L543.8 573.5L549.8 562.5L555.8 548.4L562.8 537.5L569.8 524.5L574.8 517.2L581.8 509.1L584.8 506.1L597.8 494.8L599.8 493.3L602.8 491.8L607.8 489.9L611.8 488.9L613.8 488.8L622.8 489L633.6 490.8L633.6 520.8L623.8 518.7L617.8 517.9L614.8 518L608.8 519.3L604.8 521.3L600.8 524.5L595.8 529.6L591.8 535.1L586.8 544.7L577.8 565.6L570.8 584.2L562.8 604.1L556.8 622.4L549.8 639.1L543.8 656.4L537.8 669.6L530.8 686.7L521.8 706L515.8 718L505.8 735.9L501.8 741.7L493.8 752L490.8 754.5L485.8 757.9L481.8 760.2L477.8 760.9L472.8 761.1L469.8 760.7L466.8 759.9L459.8 756.7L454.8 753.6L447.8 747.8L443.8 744.1L436.8 736.6L424.8 723L418.8 715.4L414.8 711.5L408.8 704.6L398.8 696.6L394.8 694.2L388.8 691.4L380.8 688.6L368.8 685L365.8 683.8L358.8 680.2L354.8 677.1L350.8 673.4L342.8 664.9L338.8 660.1L334.8 654.6L330.8 648.1L320.8 629.1L302.8 591L298.8 583.5L294.8 576.9L289.8 569.9L284.8 564.1L279.8 559.3L274.8 555.4L265.8 550L256.8 546.1L245.8 542.9L234.8 541.4L224.8 541.5L219.8 542L205.8 544L194.8 546.3L184.8 547.8L175.8 547.8L166.8 546.3L154.8 542.5L150.8 540.6L146.8 538.1L142.8 534.8L138.8 530.6L134.8 525.6L130.8 519.8Z" fill="#5c76b2"/>
<path d="M130.8 491L135.8 498.4L140.8 505.1L149.8 515.6L154.8 520.4L158.8 523.5L161.8 525.2L165.8 526.8L171.8 527.7L179.8 527.2L190.8 524.8L207.8 520.1L215.8 518.5L227.8 517.7L238.8 518.1L250.8 519.7L259.8 522.3L271.8 527L284.8 533.7L289.8 537.2L293.8 540.9L297.8 545.5L301.8 551.4L308.8 563.9L327.8 602.1L338.8 623.2L345.8 634.9L348.8 638.8L350.8 640.7L354.8 644L362.8 648.8L370.8 651.9L385.8 656.4L393.8 660.1L402.8 665.4L407.8 669.6L414.8 674.1L418.8 677.4L424.8 680.7L431.8 685.1L440.8 689.3L448.8 692.1L453.8 693.1L460.8 693.6L464.8 693.2L470.8 691.6L474.8 690L478.8 687.4L487.8 680L499.8 664.5L510.8 645.7L518.8 629.9L537.8 588.4L543.8 573.5L549.8 562.5L555.8 548.4L562.8 537.5L569.8 524.5L574.8 517.2L581.8 509.1L584.8 506.1L597.8 494.8L599.8 493.3L602.8 491.8L607.8 489.9L611.8 488.9L613.8 488.8L622.8 489L633.6 490.8L633.6 520.8L623.8 518.7L617.8 517.9L614.8 518L608.8 519.3L604.8 521.3L600.8 524.5L595.8 529.6L591.8 535.1L586.8 544.7L577.8 565.6L570.8 584.2L562.8 604.1L556.8 622.4L549.8 639.1L543.8 656.4L537.8 669.6L530.8 686.7L521.8 706L515.8 718L505.8 735.9L501.8 741.7L493.8 752L490.8 754.5L485.8 757.9L481.8 760.2L477.8 760.9L472.8 761.1L469.8 760.7L466.8 759.9L459.8 756.7L454.8 753.6L447.8 747.8L443.8 744.1L436.8 736.6L424.8 723L418.8 715.4L414.8 711.5L408.8 704.6L398.8 696.6L394.8 694.2L388.8 691.4L380.8 688.6L368.8 685L365.8 683.8L358.8 680.2L354.8 677.1L350.8 673.4L342.8 664.9L338.8 660.1L334.8 654.6L330.8 648.1L320.8 629.1L302.8 591L298.8 583.5L294.8 576.9L289.8 569.9L284.8 564.1L279.8 559.3L274.8 555.4L265.8 550L256.8 546.1L245.8 542.9L234.8 541.4L224.8 541.5L219.8 542L205.8 544L194.8 546.3L184.8 547.8L175.8 547.8L166.8 546.3L154.8 542.5L150.8 540.6L146.8 538.1L142.8 534.8L138.8 530.6L134.8 525.6L130.8 519.8Z" fill="#aa6478" clip-path="url(#c3)"/>
<line x1="130.8" y1="571.6" x2="633.6" y2="571.6" stroke="#505d5a" stroke-width="1.8" stroke-opacity="0.6"/>
<path d="M130.8 606.2L134.8 608.5L138.8 609.3L140.8 609.2L143.8 608.6L148.8 606.3L155.8 601.4L176.8 583.6L190.8 572.9L202.8 565.3L208.8 562.2L214.8 559.7L220.8 557.7L226.8 556.2L232.8 555.1L239.8 554.4L246.8 554.3L253.8 554.6L258.8 555.4L263.8 556.8L268.8 559.2L273.8 562.7L277.8 566.6L282.8 572.7L286.8 578.6L291.8 586.8L311.8 623.3L320.8 638.2L325.8 645.2L331.8 652.5L336.8 657.8L342.8 663.2L347.8 667.1L352.8 670.5L357.8 673.3L363.8 676.3L373.8 680.3L396.8 688L402.8 690.5L407.8 693L417.8 699.4L441.8 717.4L447.8 721.3L453.8 724.7L458.8 726.9L463.8 728.6L468.8 729.6L472.8 729.9L477.8 729.5L481.8 728.5L485.8 726.8L489.8 724.5L493.8 721.5L498.8 716.8L502.8 712.3L507.8 705.8L515.8 693.6L523.8 679.3L530.8 665.3L547.8 629.5L556.8 612.4L561.8 604.3L565.8 598.8L570.8 593.1L575.8 588.7L581.8 585.1L584.8 584L587.8 583.3L590.8 583L593.8 583.1L599.8 584.5L605.8 587.3L611.8 591.3L633.6 609.2" fill="none" stroke="#e42d18" stroke-width="1.5" stroke-linejoin="round"/>
<path d="M130.8 505.4L138.8 516.6L142.8 521.2L147.8 526.1L151.8 529.4L156.8 532.6L160.8 534.6L165.8 536.4L172.8 537.6L180.8 537.5L188.8 536.3L205.8 532.3L215.8 530.6L226.8 529.6L236.8 529.8L247.8 531.3L258.8 534.4L268.8 538.6L278.8 544.4L284.8 548.9L289.8 553.6L294.8 559.4L298.8 565.2L305.8 577.7L323.8 614.6L332.8 631.7L337.8 640.1L341.8 646.2L346.8 652.7L350.8 657L356.8 662L363.8 666L369.8 668.4L386.8 673.7L391.8 675.9L396.8 678.6L400.8 681.2L405.8 685L431.8 708L437.8 712.8L443.8 717.2L450.8 721.5L456.8 724.2L462.8 725.9L467.8 726.4L472.8 726L477.8 724.5L482.8 722L486.8 719.1L491.8 714.4L496.8 708.5L501.8 701.5L506.8 693.5L515.8 677L525.8 656.2L535.8 633.7L558.8 579.9L570.8 553.5L576.8 541.6L581.8 532.6L586.8 524.5L590.8 518.9L595.8 513L599.8 509.4L603.8 506.6L608.8 504.5L613.8 503.5L618.8 503.3L624.8 504L633.6 505.8" fill="none" stroke="#1753a6" stroke-width="1.5" stroke-linejoin="round"/>
<path d="M130.8 454.3 L130.8 806.2 L633.6 806.2" fill="none" stroke="#1a1a1a" stroke-width="1.3"/>
<line x1="130.8" y1="454.3" x2="147.8" y2="454.3" stroke="#2a2a2a" stroke-width="1.5" />
<line x1="130.8" y1="513" x2="147.8" y2="513" stroke="#2a2a2a" stroke-width="1.5" />
<line x1="130.8" y1="571.6" x2="147.8" y2="571.6" stroke="#2a2a2a" stroke-width="1.5" />
<line x1="130.8" y1="630.2" x2="147.8" y2="630.2" stroke="#2a2a2a" stroke-width="1.5" />
<line x1="130.8" y1="688.9" x2="147.8" y2="688.9" stroke="#2a2a2a" stroke-width="1.5" />
<line x1="130.8" y1="747.6" x2="147.8" y2="747.6" stroke="#2a2a2a" stroke-width="1.5" />
<line x1="231.3" y1="806.2" x2="231.3" y2="789.2" stroke="#2a2a2a" stroke-width="1.5" />
<line x1="331.9" y1="806.2" x2="331.9" y2="789.2" stroke="#2a2a2a" stroke-width="1.5" />
<line x1="432.5" y1="806.2" x2="432.5" y2="789.2" stroke="#2a2a2a" stroke-width="1.5" />
<line x1="533" y1="806.2" x2="533" y2="789.2" stroke="#2a2a2a" stroke-width="1.5" />
<line x1="633.6" y1="806.2" x2="633.6" y2="789.2" stroke="#2a2a2a" stroke-width="1.5" />
<path d="M792 584L794 582.7L797 579.8L800 575.8L804 569.4L812 554.5L819 538.9L828 520.7L834 510.4L841 501L844 497.6L847 494.9L851 491.8L855 489.4L862 486.8L866 486.1L870 485.9L878 486.6L889 489.2L895 489.9L901 491.8L909 491.3L915 493L918 493L921 493.4L929 497.7L931 499.3L934 502.5L938 507.5L943 515.3L954 538.6L956 543.1L962 560L968 574.8L974 592.1L982 610.6L986 618.7L991 627.7L996 634.2L998 636.1L1001 638.3L1006 640.3L1010 640.7L1014 640L1020 638.2L1026 635.5L1032 631.6L1044 621.6L1054 609.9L1079 576.2L1086 568.3L1092 560.6L1106 548.4L1115 543.2L1125 539L1144 533.3L1154 529.7L1167 526.6L1177 525.2L1188 525.2L1198 526.6L1204 528.3L1209 530.3L1218 535.1L1225 539.7L1231 544.1L1238 549.6L1261 569.6L1267 574.3L1272 577.9L1278 581.3L1283 583.4L1289 584.6L1294.6 584.5L1294.6 639.1L1290 638.4L1285 636.7L1280 634.3L1274 630.7L1263 622.5L1242 605.1L1234 599.7L1228 596.5L1219 593.2L1212 591.5L1206 590.7L1200 590L1194 589.9L1190 590.1L1184 590.9L1178 592.4L1172 594.5L1153 602.8L1133 608.5L1123 612.6L1118 615L1112 618.6L1105 623.9L1099 628L1092 634.7L1086 638.6L1079 645.2L1075 648L1061 659.7L1054 664.7L1051 667.4L1045 671.7L1038 678.4L1024 688.6L1017 692.9L1012 695.1L1006 696.4L1003 696.4L1001 696L998 694.8L995 692.9L993 691.1L990 687.5L986 681.3L981 671.2L968 637.3L962 618L956 600.9L950 581.7L947 573.2L938 550.6L934 542.6L930 536L925 528.8L915 519.1L909 516.8L901 512.5L895 511.7L891 510.2L887 509.2L879 508.6L873 508.8L868 509.5L863 510.9L858 513.2L852 517.2L848 520.7L845 524.1L839 531.8L836 536.4L830 547L821 564.8L814 581.2L804 610L800 620.2L796 628L794 630.7L792 632.6Z" fill="#f3a885"/>
<path d="M792 507.1L807 523.5L811 526.4L813 527.2L815 527.5L817 527.1L819 526.3L821 525L824 522.3L829 516.7L840 502.6L844 498.4L850 493.2L853 491.1L860 487.2L865 485.1L873 483L881 482.2L887 482.2L897 483.2L905 484.4L920 489.2L930 494.9L932 496.3L935 499.3L942 506.8L945 510.5L953 523L959 534.6L963 543.4L967 553.2L986 607.7L992 622.8L996 631.1L1000 637.7L1002 640.4L1005 643.5L1009 646.2L1011 646.9L1014 647.2L1018 646.4L1021 644.7L1024 642L1031 634.5L1033 632.2L1041 620.9L1052 607.1L1070 584.8L1088 563.4L1097 554.3L1109 544.8L1115 541.3L1126 536L1137 531.3L1169 518.9L1181 514.9L1189 513.1L1196 512.1L1202 511.8L1237 515.3L1249 515.6L1256 515.4L1259 515.1L1266 513.7L1281 508.4L1286 507L1291 506.4L1294.6 506.7L1294.6 541.2L1290 540.8L1286 541.4L1262 549.6L1251 552.7L1243 554.3L1234 554.9L1212 553.9L1202 555.4L1196 556.9L1190 559.1L1175 566.4L1143 584.4L1131 592L1120 600L1110 608.4L1102 614.3L1096 620.1L1092 623.1L1086 628.6L1075 637.8L1049 661.5L1033 678.3L1027 685.2L1022 689L1017 691.8L1014 692.8L1012 693L1009 692.4L1007 691.6L1003 688.6L999 683.9L995 677.1L990 666.1L987 658.2L978 631.6L971 608.3L963 583.9L958 570.2L953 558.2L947 545.8L939 532L934 525.7L927 517.9L924 515.1L916 509.9L912 507.9L909 507.2L901 506L895 505.9L887 506.4L878 507.5L869 509.6L857 514.6L847 521.2L836 530.9L825 544L822 547.1L818 550.2L815 551.4L813 551.6L811 551.3L807 549.6L803 546.8L792 537.9Z" fill="#5c76b2"/>
<path d="M792 507.1L807 523.5L811 526.4L813 527.2L815 527.5L817 527.1L819 526.3L821 525L824 522.3L829 516.7L840 502.6L844 498.4L850 493.2L853 491.1L860 487.2L865 485.1L873 483L881 482.2L887 482.2L897 483.2L905 484.4L920 489.2L930 494.9L932 496.3L935 499.3L942 506.8L945 510.5L953 523L959 534.6L963 543.4L967 553.2L986 607.7L992 622.8L996 631.1L1000 637.7L1002 640.4L1005 643.5L1009 646.2L1011 646.9L1014 647.2L1018 646.4L1021 644.7L1024 642L1031 634.5L1033 632.2L1041 620.9L1052 607.1L1070 584.8L1088 563.4L1097 554.3L1109 544.8L1115 541.3L1126 536L1137 531.3L1169 518.9L1181 514.9L1189 513.1L1196 512.1L1202 511.8L1237 515.3L1249 515.6L1256 515.4L1259 515.1L1266 513.7L1281 508.4L1286 507L1291 506.4L1294.6 506.7L1294.6 541.2L1290 540.8L1286 541.4L1262 549.6L1251 552.7L1243 554.3L1234 554.9L1212 553.9L1202 555.4L1196 556.9L1190 559.1L1175 566.4L1143 584.4L1131 592L1120 600L1110 608.4L1102 614.3L1096 620.1L1092 623.1L1086 628.6L1075 637.8L1049 661.5L1033 678.3L1027 685.2L1022 689L1017 691.8L1014 692.8L1012 693L1009 692.4L1007 691.6L1003 688.6L999 683.9L995 677.1L990 666.1L987 658.2L978 631.6L971 608.3L963 583.9L958 570.2L953 558.2L947 545.8L939 532L934 525.7L927 517.9L924 515.1L916 509.9L912 507.9L909 507.2L901 506L895 505.9L887 506.4L878 507.5L869 509.6L857 514.6L847 521.2L836 530.9L825 544L822 547.1L818 550.2L815 551.4L813 551.6L811 551.3L807 549.6L803 546.8L792 537.9Z" fill="#aa6478" clip-path="url(#c4)"/>
<line x1="792" y1="571.6" x2="1294.6" y2="571.6" stroke="#505d5a" stroke-width="1.8" stroke-opacity="0.6"/>
<path d="M792 608.3L794 606.7L796 604.4L798 601.5L801 596L806 585.1L817 558.7L824 543.6L832 528.5L839 517.7L843 512.6L847 508.4L851 504.9L855 502.2L859 500.2L864 498.5L869 497.6L874 497.4L880 497.8L887 499L907 503.5L914 505.6L919 508L924 511.4L928 515L932 519.7L936 525.6L939 530.9L943 539L947 548.3L955 569.2L973 619.8L978 632.6L983 644L988 653.6L993 660.8L995 663L998 665.5L1000 666.7L1003 667.8L1006 668.4L1009 668.3L1013 667.5L1017 666L1021 664.2L1026 661.3L1035 654.9L1043 648L1052 639.3L1080 609.6L1091 598.6L1102 588.9L1111 582.4L1119 578L1128 574.3L1150 567.4L1168 561.3L1177 559L1183 558.1L1188 557.8L1198 558.3L1204 559.4L1209 560.7L1219 564.5L1228 569.2L1237 575.2L1245 581.5L1264 597.6L1274 604.9L1280 608.3L1285 610.3L1290 611.5L1294.6 611.8" fill="none" stroke="#e42d18" stroke-width="1.5" stroke-linejoin="round"/>
<path d="M792 522.5L803 533.1L807 536.6L811 538.8L813 539.4L815 539.4L817 538.9L819 537.9L823 534.7L827 530.3L838 517L842 512.9L847 508.5L852 504.8L857 501.8L862 499.3L867 497.5L874 495.6L882 494.5L891 494.3L900 494.8L907 495.9L913 497.7L919 500.3L924 503.3L931 509L938 516.5L945 526.3L951 536.7L958 551.3L964 566.3L970 583.4L984 625.9L989 639.5L993 649L998 658.5L1000 661.5L1003 665.1L1005 666.9L1008 668.9L1010 669.7L1013 670.1L1016 669.6L1020 667.8L1023 665.7L1027 662L1032 656.5L1044 641.9L1052 632.9L1081 602.1L1089 594.1L1097 586.7L1106 579.2L1115 572.7L1125 566.4L1137 559.7L1151 552.8L1176 541.2L1186 537.3L1195 534.7L1201 533.7L1208 533.3L1215 533.5L1235 535L1241 535L1248 534.5L1256 533.3L1264 531.5L1286 524.2L1291 523.6L1294.6 524" fill="none" stroke="#1753a6" stroke-width="1.5" stroke-linejoin="round"/>
<path d="M792 454.3 L792 806.2 L1294.6 806.2" fill="none" stroke="#1a1a1a" stroke-width="1.3"/>
<line x1="792" y1="454.3" x2="809" y2="454.3" stroke="#2a2a2a" stroke-width="1.5" />
<line x1="792" y1="513" x2="809" y2="513" stroke="#2a2a2a" stroke-width="1.5" />
<line x1="792" y1="571.6" x2="809" y2="571.6" stroke="#2a2a2a" stroke-width="1.5" />
<line x1="792" y1="630.2" x2="809" y2="630.2" stroke="#2a2a2a" stroke-width="1.5" />
<line x1="792" y1="688.9" x2="809" y2="688.9" stroke="#2a2a2a" stroke-width="1.5" />
<line x1="792" y1="747.6" x2="809" y2="747.6" stroke="#2a2a2a" stroke-width="1.5" />
<line x1="892.5" y1="806.2" x2="892.5" y2="789.2" stroke="#2a2a2a" stroke-width="1.5" />
<line x1="993" y1="806.2" x2="993" y2="789.2" stroke="#2a2a2a" stroke-width="1.5" />
<line x1="1093.6" y1="806.2" x2="1093.6" y2="789.2" stroke="#2a2a2a" stroke-width="1.5" />
<line x1="1194.1" y1="806.2" x2="1194.1" y2="789.2" stroke="#2a2a2a" stroke-width="1.5" />
<line x1="1294.6" y1="806.2" x2="1294.6" y2="789.2" stroke="#2a2a2a" stroke-width="1.5" />
<path d="M130.8 1088.1L139.8 1053L148.8 1011.1L151.8 999.3L154.8 991.3L156.8 988.9L157.8 988.5L158.8 988.6L160.8 990.1L162.8 993.1L164.8 997.1L172.8 1015.4L174.8 1018.8L176.8 1021.3L181.8 1025.4L185.8 1026.3L187.8 1027.1L193.8 1028.2L195.8 1029.2L207.8 1033.3L213.8 1036L218.8 1037.8L231.8 1044.6L235.8 1047.1L243.8 1053L251.8 1060.6L255.8 1065L261.8 1070.3L269.8 1078.4L284.8 1095L292.8 1107.5L300.8 1118.7L305.8 1124.6L310.8 1128.7L311.8 1129.2L313.8 1129.2L315.8 1128.4L316.8 1127.6L318.8 1125.3L320.8 1122.3L335.8 1093.8L340.8 1086.1L345.8 1076.7L349.8 1070.6L351.8 1068L356.8 1064.2L361.8 1061.5L367.8 1059.9L370.8 1060.2L372.8 1061.1L375.8 1063.4L383.8 1072.8L388.8 1077.3L393.8 1080L396.8 1080.9L399.8 1081.3L403.8 1081.2L408.8 1080.6L423.8 1076.9L442.8 1072.7L448.8 1069.1L450.8 1068.3L458.8 1061.5L462.8 1059.2L466.8 1055.7L472.8 1048.3L478.8 1039.6L481.8 1036.1L489.8 1025.6L493.8 1021.9L496.8 1018L503.8 1007.3L507.8 999.5L510.8 994.8L512.8 990.8L515.8 986.2L518.8 979.6L522.8 972.8L525.8 968.2L527.8 965.6L530.8 962.6L534.8 959.8L538.8 958.3L542.8 957.9L545.8 958.3L548.8 959.3L551.8 960.8L554.8 962.9L558.8 966.6L561.8 970.3L565.8 976.8L568.8 983.2L572.8 994L575.8 1003.9L583.8 1033.2L588.8 1047.6L591.8 1054.4L594.8 1060.3L606.8 1079.7L610.8 1085.3L614.8 1090.1L618.8 1093.8L621.8 1095.7L624.8 1096.6L627.8 1096.3L630.8 1094.7L633.6 1091.7L633.6 1104.3L630.8 1108.7L628.8 1110.8L626.8 1112.2L623.8 1113.2L620.8 1112.9L617.8 1111.6L614.8 1109.4L611.8 1106.5L604.8 1097.9L589.8 1077.1L582.8 1064.2L574.8 1045.1L569.8 1034.8L559.8 1019.2L550.8 1007L544.8 1000.5L541.8 998L538.8 996.2L535.8 995.1L532.8 994.7L530.8 994.9L527.8 995.7L523.8 998.1L520.8 1000.9L518.8 1004L516.8 1006.3L515.8 1008L510.8 1019.2L507.8 1027.1L499.8 1045.8L494.8 1056.6L490.8 1064L488.8 1066.9L481.8 1074.8L470.8 1089.7L458.8 1102.1L450.8 1107.7L448.8 1110L442.8 1115.2L438.8 1120.1L428.8 1130.2L423.8 1134.3L420.8 1136.3L416.8 1138.4L413.8 1139.4L408.8 1140.1L404.8 1139.7L400.8 1138.3L396.8 1136L392.8 1132.8L387.8 1127.5L383.8 1122.1L377.8 1113.2L374.8 1109.6L372.8 1108.1L370.8 1107.2L368.8 1106.8L366.8 1106.9L364.8 1107.6L362.8 1108.8L359.8 1111.7L354.8 1118.1L351.8 1122.9L340.8 1136L335.8 1144.6L329.8 1154.1L326.8 1158.4L324.8 1160.6L320.8 1163.5L317.8 1164.6L313.8 1164.7L309.8 1164.3L307.8 1163.8L303.8 1160.8L297.8 1153.9L292.8 1145.7L285.8 1135.1L278.8 1121.9L265.8 1100.1L256.8 1087.3L249.8 1080.8L240.8 1074.9L232.8 1071.3L224.8 1068.1L218.8 1066.5L213.8 1064.5L207.8 1062.7L195.8 1057.8L193.8 1057.3L187.8 1054.2L185.8 1053.7L180.8 1050.9L178.8 1050.6L172.8 1045.7L165.8 1038.8L163.8 1037.4L161.8 1036.7L159.8 1036.9L157.8 1038.3L155.8 1041.1L154.8 1043.1L151.8 1051.4L144.8 1076.6L141.8 1086.1L138.8 1093.7L130.8 1111.4Z" fill="#f3a885"/>
<path d="M130.8 1091L135.8 1100L138.8 1103.8L140.8 1105L141.8 1105L143.8 1103.8L146.8 1099.8L149.8 1093.8L163.8 1058.7L168.8 1048L171.8 1043.5L173.8 1041.5L176.8 1040.1L179.8 1040.3L183.8 1042.2L191.8 1048.2L196.8 1051.4L203.8 1054.8L210.8 1057.4L215.8 1058.9L221.8 1060L236.8 1061.9L245.8 1064.1L254.8 1065.1L261.8 1067.9L265.8 1070.1L270.8 1073.7L273.8 1076.4L281.8 1084.5L286.8 1090.3L290.8 1095.8L300.8 1111.2L307.8 1123.9L313.8 1132.8L315.8 1134.9L317.8 1136.1L319.8 1136.6L321.8 1136.3L323.8 1135.3L326.8 1132.4L329.8 1128.3L332.8 1123.2L339.8 1108.5L348.8 1086.2L351.8 1080L353.8 1076.9L355.8 1074.5L357.8 1072.7L360.8 1070.8L369.8 1067.2L373.8 1066L377.8 1065.7L380.8 1066.4L383.8 1067.9L387.8 1071.3L397.8 1083.2L401.8 1087.3L405.8 1089.9L408.8 1090.5L411.8 1090.1L414.8 1088.8L426.8 1081.6L441.8 1074.5L447.8 1070.4L451.8 1066.5L455.8 1061.3L460.8 1053.2L467.8 1039.8L473.8 1030.5L475.8 1026.4L480.8 1018.4L484.8 1010.3L498.8 986.6L502.8 980.2L513.8 964.5L518.8 959.4L523.8 953.5L526.8 951L534.8 946.2L538.8 945L542.8 944.5L545.8 945.4L551.8 948.3L553.8 949.7L556.8 953.3L561.8 959.6L565.8 965.5L569.8 972.5L577.8 987.9L582.8 996L589.8 1004.6L601.8 1017.4L605.8 1022.6L609.8 1028.7L615.8 1040L621.8 1054.1L627.8 1071.2L633.6 1090.6L633.6 1103.7L628.8 1089.9L623.8 1078.2L618.8 1068.9L615.8 1064.3L612.8 1060.4L609.8 1057.2L606.8 1054.7L591.8 1045.7L587.8 1042.7L583.8 1038.8L578.8 1032.4L565.8 1011L558.8 1000.4L550.8 992.2L547.8 989.4L545.8 988.4L539.8 986.1L536.8 985.8L531.8 986.3L529.8 987L519.8 993.9L517.8 996.1L508.8 1008.1L505.8 1013.2L495.8 1031.8L484.8 1055L480.8 1062.2L475.8 1072.8L473.8 1075.8L469.8 1083.5L466.8 1088L458.8 1095.3L453.8 1099L446.8 1105.2L429.8 1122.8L416.8 1135.6L412.8 1138.6L409.8 1139.8L406.8 1139.6L403.8 1138.1L400.8 1135.4L397.8 1132L383.8 1112.4L376.8 1104.1L373.8 1101.5L370.8 1099.8L367.8 1099.5L365.8 1100.2L363.8 1101.7L361.8 1104L357.8 1110.5L343.8 1139.7L333.8 1162.5L329.8 1170.3L326.8 1175L324.8 1177.4L322.8 1179.2L320.8 1180.4L318.8 1180.7L317.8 1180.6L315.8 1179.7L312.8 1177L308.8 1172L303.8 1164.9L300.8 1159.9L284.8 1128L275.8 1111.7L266.8 1098.7L257.8 1087.8L249.8 1080.7L245.8 1077.8L236.8 1075L228.8 1073.5L221.8 1073L207.8 1073.3L201.8 1073L193.8 1071.4L184.8 1068.1L181.8 1067.3L178.8 1067.3L175.8 1068.5L173.8 1070.1L171.8 1072.6L169.8 1076.1L167.8 1080.5L163.8 1091.8L155.8 1118.2L151.8 1129.9L149.8 1134.7L147.8 1138.4L145.8 1140.8L144.8 1141.4L143.8 1141.5L142.8 1141.2L141.8 1140.4L140.8 1139L138.8 1134.8L135.8 1125.9L130.8 1107.9Z" fill="#5c76b2"/>
<path d="M130.8 1091L135.8 1100L138.8 1103.8L140.8 1105L141.8 1105L143.8 1103.8L146.8 1099.8L149.8 1093.8L163.8 1058.7L168.8 1048L171.8 1043.5L173.8 1041.5L176.8 1040.1L179.8 1040.3L183.8 1042.2L191.8 1048.2L196.8 1051.4L203.8 1054.8L210.8 1057.4L215.8 1058.9L221.8 1060L236.8 1061.9L245.8 1064.1L254.8 1065.1L261.8 1067.9L265.8 1070.1L270.8 1073.7L273.8 1076.4L281.8 1084.5L286.8 1090.3L290.8 1095.8L300.8 1111.2L307.8 1123.9L313.8 1132.8L315.8 1134.9L317.8 1136.1L319.8 1136.6L321.8 1136.3L323.8 1135.3L326.8 1132.4L329.8 1128.3L332.8 1123.2L339.8 1108.5L348.8 1086.2L351.8 1080L353.8 1076.9L355.8 1074.5L357.8 1072.7L360.8 1070.8L369.8 1067.2L373.8 1066L377.8 1065.7L380.8 1066.4L383.8 1067.9L387.8 1071.3L397.8 1083.2L401.8 1087.3L405.8 1089.9L408.8 1090.5L411.8 1090.1L414.8 1088.8L426.8 1081.6L441.8 1074.5L447.8 1070.4L451.8 1066.5L455.8 1061.3L460.8 1053.2L467.8 1039.8L473.8 1030.5L475.8 1026.4L480.8 1018.4L484.8 1010.3L498.8 986.6L502.8 980.2L513.8 964.5L518.8 959.4L523.8 953.5L526.8 951L534.8 946.2L538.8 945L542.8 944.5L545.8 945.4L551.8 948.3L553.8 949.7L556.8 953.3L561.8 959.6L565.8 965.5L569.8 972.5L577.8 987.9L582.8 996L589.8 1004.6L601.8 1017.4L605.8 1022.6L609.8 1028.7L615.8 1040L621.8 1054.1L627.8 1071.2L633.6 1090.6L633.6 1103.7L628.8 1089.9L623.8 1078.2L618.8 1068.9L615.8 1064.3L612.8 1060.4L609.8 1057.2L606.8 1054.7L591.8 1045.7L587.8 1042.7L583.8 1038.8L578.8 1032.4L565.8 1011L558.8 1000.4L550.8 992.2L547.8 989.4L545.8 988.4L539.8 986.1L536.8 985.8L531.8 986.3L529.8 987L519.8 993.9L517.8 996.1L508.8 1008.1L505.8 1013.2L495.8 1031.8L484.8 1055L480.8 1062.2L475.8 1072.8L473.8 1075.8L469.8 1083.5L466.8 1088L458.8 1095.3L453.8 1099L446.8 1105.2L429.8 1122.8L416.8 1135.6L412.8 1138.6L409.8 1139.8L406.8 1139.6L403.8 1138.1L400.8 1135.4L397.8 1132L383.8 1112.4L376.8 1104.1L373.8 1101.5L370.8 1099.8L367.8 1099.5L365.8 1100.2L363.8 1101.7L361.8 1104L357.8 1110.5L343.8 1139.7L333.8 1162.5L329.8 1170.3L326.8 1175L324.8 1177.4L322.8 1179.2L320.8 1180.4L318.8 1180.7L317.8 1180.6L315.8 1179.7L312.8 1177L308.8 1172L303.8 1164.9L300.8 1159.9L284.8 1128L275.8 1111.7L266.8 1098.7L257.8 1087.8L249.8 1080.7L245.8 1077.8L236.8 1075L228.8 1073.5L221.8 1073L207.8 1073.3L201.8 1073L193.8 1071.4L184.8 1068.1L181.8 1067.3L178.8 1067.3L175.8 1068.5L173.8 1070.1L171.8 1072.6L169.8 1076.1L167.8 1080.5L163.8 1091.8L155.8 1118.2L151.8 1129.9L149.8 1134.7L147.8 1138.4L145.8 1140.8L144.8 1141.4L143.8 1141.5L142.8 1141.2L141.8 1140.4L140.8 1139L138.8 1134.8L135.8 1125.9L130.8 1107.9Z" fill="#aa6478" clip-path="url(#c5)"/>
<line x1="130.8" y1="1066.8" x2="633.6" y2="1066.8" stroke="#505d5a" stroke-width="1.8" stroke-opacity="0.6"/>
<path d="M130.8 1099.7L140.8 1068.8L149.8 1032.5L152.8 1022.2L155.8 1015.4L157.8 1013.4L159.8 1013L161.8 1014.1L163.8 1016.2L173.8 1031.9L176.8 1035.1L179.8 1037.3L183.8 1039.2L201.8 1045.7L220.8 1052.9L228.8 1056.3L234.8 1059.3L239.8 1062.2L248.8 1068.9L253.8 1073.5L258.8 1078.8L268.8 1091.1L279.8 1106.7L296.8 1132.6L301.8 1139.3L305.8 1143.4L308.8 1145.6L310.8 1146.5L312.8 1147L315.8 1146.6L317.8 1145.6L319.8 1143.9L323.8 1139.1L327.8 1132.9L340.8 1111.1L345.8 1103.5L350.8 1096.7L354.8 1092L358.8 1088L361.8 1085.7L364.8 1084.1L366.8 1083.5L368.8 1083.3L370.8 1083.7L372.8 1084.6L374.8 1086.1L376.8 1088.1L384.8 1098.7L387.8 1102L390.8 1104.7L393.8 1106.9L397.8 1108.9L401.8 1110L405.8 1110.5L409.8 1110.2L414.8 1109.2L419.8 1107.4L424.8 1105.1L430.8 1101.8L436.8 1098.1L451.8 1087.3L462.8 1078.6L468.8 1072.7L480.8 1056.7L492.8 1041.6L495.8 1036.9L499.8 1029.7L515.8 997.1L519.8 990.2L522.8 985.9L525.8 982.5L529.8 979.3L532.8 977.8L536.8 977.1L539.8 977.4L542.8 978.3L545.8 979.9L549.8 982.8L552.8 985.5L556.8 989.9L560.8 994.9L563.8 999.3L568.8 1008.3L572.8 1017.4L582.8 1047L585.8 1054.8L588.8 1061.4L591.8 1067.1L595.8 1073.8L604.8 1087.3L609.8 1094.1L613.8 1098.7L616.8 1101.5L619.8 1103.6L622.8 1104.7L625.8 1104.7L628.8 1103.3L630.8 1101.7L633.6 1098" fill="none" stroke="#e42d18" stroke-width="1.5" stroke-linejoin="round"/>
<path d="M130.8 1099.4L136.8 1115.3L139.8 1120.9L141.8 1122.7L142.8 1122.9L143.8 1122.7L145.8 1121.1L148.8 1116.3L151.8 1109.6L163.8 1075.2L167.8 1065.2L169.8 1061.2L171.8 1058L173.8 1055.8L176.8 1054L179.8 1053.7L182.8 1054.6L194.8 1061L198.8 1062.5L203.8 1064L212.8 1065.6L232.8 1067.7L242.8 1069.9L250.8 1073L257.8 1077.1L263.8 1081.9L270.8 1089L277.8 1097.7L284.8 1107.9L290.8 1117.8L303.8 1140.8L310.8 1151.7L313.8 1155.4L315.8 1157.3L317.8 1158.4L318.8 1158.6L320.8 1158.5L322.8 1157.5L324.8 1155.9L326.8 1153.7L329.8 1149.3L335.8 1137.7L347.8 1110.1L353.8 1097.9L358.8 1090.3L361.8 1087.2L364.8 1085L367.8 1083.7L371.8 1083.4L374.8 1084L378.8 1086L381.8 1088.3L385.8 1092.3L396.8 1106.4L400.8 1110.9L404.8 1114.1L406.8 1114.9L408.8 1115.2L411.8 1114.6L415.8 1112.4L425.8 1104.4L440.8 1093.2L446.8 1088.2L452.8 1082.6L457.8 1077.1L462.8 1070.7L467.8 1063.3L476.8 1047.8L499.8 1004.6L506.8 993L512.8 984.4L519.8 976L523.8 972.3L526.8 969.9L529.8 968L532.8 966.7L535.8 965.8L538.8 965.5L542.8 965.9L546.8 967.4L550.8 970L555.8 974.7L559.8 979.5L564.8 986.7L577.8 1009.4L582.8 1016.8L585.8 1020.4L589.8 1024.4L604.8 1037.3L610.8 1044.3L616.8 1053.9L622.8 1066.4L627.8 1079.2L633.6 1097.1" fill="none" stroke="#1753a6" stroke-width="1.5" stroke-linejoin="round"/>
<path d="M130.8 891 L130.8 1242.5 L633.6 1242.5" fill="none" stroke="#1a1a1a" stroke-width="1.3"/>
<line x1="130.8" y1="891" x2="147.8" y2="891" stroke="#2a2a2a" stroke-width="1.5" />
<line x1="130.8" y1="978.9" x2="147.8" y2="978.9" stroke="#2a2a2a" stroke-width="1.5" />
<line x1="130.8" y1="1066.8" x2="147.8" y2="1066.8" stroke="#2a2a2a" stroke-width="1.5" />
<line x1="130.8" y1="1154.6" x2="147.8" y2="1154.6" stroke="#2a2a2a" stroke-width="1.5" />
<line x1="231.3" y1="1242.5" x2="231.3" y2="1225.5" stroke="#2a2a2a" stroke-width="1.5" />
<line x1="331.9" y1="1242.5" x2="331.9" y2="1225.5" stroke="#2a2a2a" stroke-width="1.5" />
<line x1="432.5" y1="1242.5" x2="432.5" y2="1225.5" stroke="#2a2a2a" stroke-width="1.5" />
<line x1="533" y1="1242.5" x2="533" y2="1225.5" stroke="#2a2a2a" stroke-width="1.5" />
<line x1="633.6" y1="1242.5" x2="633.6" y2="1225.5" stroke="#2a2a2a" stroke-width="1.5" />
<path d="M792 1054L800 975.8L804 942.5L806 929.8L808 920.4L810 914.6L811 912.8L812 911.8L813 911.3L814 911.5L815 912.2L817 915L819 919.5L821 925.4L826 944.1L836 986.9L839 997.9L843 1010.5L848 1022.7L856 1037.5L865 1047.9L866 1048.4L871 1050.3L876 1053.9L882 1054.3L887 1056.6L894 1057.4L898 1059.2L904 1061.3L912 1065.9L922 1075.2L924 1078L934 1094.2L943 1114.3L950 1132.4L953 1141L957 1150.4L960 1155.3L962 1157.2L964 1158.2L967 1158.2L969 1157.3L971 1155.8L974 1152.5L976 1149.5L979 1143.9L983 1132.8L986 1121.4L989 1111.9L992 1098.1L996 1083.2L1000 1065L1009 1030.7L1016 1014.9L1018 1012.9L1020 1012L1026 1010.8L1029 1010.8L1033 1010.2L1034 1010L1037 1007.8L1038 1007.5L1041 1008.2L1042 1008L1058 1002.6L1059 1002.4L1061 1003.3L1064 1001.8L1065 1002.4L1066 1001.7L1070 1001L1074 999.6L1078 997.4L1081 996.5L1085 996.2L1087 996.4L1091 998.5L1095 1001.6L1100 1006.3L1108 1015.6L1115 1022.8L1125 1031.7L1130 1035L1144 1041L1150 1041.5L1156 1042.3L1162 1042.1L1169 1042.7L1174 1043.8L1177 1044.9L1181 1046.8L1187 1050.5L1193 1055L1200 1060.8L1212 1068.1L1216 1070L1222 1072.1L1225 1073.7L1229 1074.9L1233 1077.2L1237 1080.2L1244 1084.5L1254 1087.8L1258 1087.7L1263 1086.9L1269 1085.1L1274 1083.1L1277 1081.5L1280 1079.5L1282 1077.6L1284 1075.1L1286 1072L1289 1065.5L1292 1056.8L1294.6 1047L1294.6 1074.7L1290 1088.6L1286 1096.9L1284 1100L1281 1103.8L1276 1108.1L1269 1111.6L1262 1113.3L1253 1113.6L1249 1114.4L1244 1114L1240 1114.3L1234 1114L1229 1112.5L1225 1109.6L1222 1108L1214 1101L1206 1094.5L1200 1088.7L1185 1076.8L1178 1072.1L1172 1069.4L1165 1067.8L1156 1066.7L1150 1066.8L1144 1065.4L1137 1064.8L1119 1057.4L1114 1054.2L1103 1046.2L1097 1043.2L1093 1042.5L1091 1042.6L1089 1043.2L1084 1045.8L1080 1050.2L1072 1062.5L1070 1064.9L1067 1067L1066 1067.1L1065 1066.6L1064 1067L1061 1064.3L1059 1063.5L1058 1062.5L1050 1051.6L1047 1048.2L1044 1046.1L1042 1045.4L1041 1045.5L1038 1047.9L1034 1049.5L1030 1054.4L1024 1064.1L1016 1078.9L1013 1082L1009 1090.5L1006 1095.9L1003 1102.9L996 1122.6L992 1137.6L989 1145.9L986 1157.6L983 1166L981 1173.1L975 1191.3L973 1196.6L970 1203.2L967 1207.7L965 1209.5L964 1209.9L962 1210.2L960 1209.2L958 1207.4L955 1202.4L950 1191L938 1160.1L934 1151.7L928 1137.2L916 1114.6L907 1101.1L899 1090.8L894 1086.1L888 1079.9L886 1078.6L882 1076.9L876 1072.5L871 1072L865 1068.2L861 1067.5L856 1063.8L853 1062.1L848 1056.6L843 1049L840 1043.4L838 1038.7L834 1027.3L823 986.2L820 976.2L817 968.8L815 966L814 965.4L813 965.4L812 966.1L810 969.6L808 976.2L806 986L803 1006L795 1071.2L792 1092.7Z" fill="#f3a885"/>
<path d="M792 1071.9L795 1080.9L797 1084.5L799 1086.2L800 1086.5L802 1085.7L804 1083.5L806 1079.8L809 1071.9L813 1057L823 1007.9L827 990.9L830 982.6L831 981.1L832 980.2L833 980L834 980.6L835 981.8L837 985.7L847 1014.9L853 1030L857 1037.9L861 1043.8L865 1047.9L869 1050.6L876 1053.2L889 1056.2L892 1057.9L898 1060.3L904 1064.1L909 1068L917 1076L920 1079.3L927 1089L935 1101.4L944 1117.3L958 1145L963 1153.2L967 1158.5L970 1160.8L972 1161.5L974 1161.3L976 1160.4L978 1158.6L980 1155.9L983 1150.1L987 1138.7L992 1118.9L1001 1074.5L1006 1054.6L1010 1037.1L1012 1031.6L1018 1017.1L1023 1008.6L1026 1004.5L1027 1003.6L1029 1002.4L1032 999.9L1035 998.3L1037 998.6L1039 999.3L1044 1001.9L1046 1002.3L1048 1003.2L1053 1006.5L1059 1008.5L1060 1008.5L1062 1007.3L1066 1003.7L1068 1003L1072 1002.5L1077 1000.6L1079 1000.5L1086 1002.5L1088 1003.3L1095 1007.4L1100 1012.2L1106 1016.5L1113 1023.5L1120 1028.1L1125 1031.9L1130 1034.4L1136 1036.4L1140 1037L1144 1037L1160 1035.8L1168 1036.4L1172 1037.1L1177 1038.9L1182 1041.4L1201 1053.3L1212 1058.1L1216 1059.1L1224 1060.1L1228 1060L1233 1059.1L1241 1056.9L1248 1054L1253 1051.2L1258 1047.9L1265 1042.4L1268 1040.5L1271 1039.3L1274 1039.3L1276 1040.2L1278 1041.8L1282 1046.9L1287 1055.6L1294.6 1071.1L1294.6 1087.7L1289 1076.3L1284 1067.7L1281 1063.9L1279 1061.9L1277 1060.5L1275 1059.8L1273 1059.8L1270 1060.7L1267 1062.6L1259 1069.1L1256 1071.2L1252 1073.2L1247 1075L1242 1076.2L1236 1077L1219 1077.6L1209 1076.1L1203 1074.3L1194 1069.8L1187 1065.2L1179 1060.6L1175 1058.8L1171 1057.7L1166 1056.9L1161 1056.9L1154 1057.5L1145 1058.9L1140 1059.2L1136 1058.9L1133 1058.2L1129 1056.7L1120 1052.3L1112 1046.7L1106 1044.4L1100 1041.2L1091 1041.1L1085 1043L1082 1044.7L1078 1047.7L1072 1051.1L1066 1057.5L1063 1058.4L1059 1059L1057 1058.9L1055 1058L1044 1048.1L1043 1047.7L1041 1047.5L1038 1048.1L1032 1050.8L1029 1053.1L1024 1061.2L1020 1070.4L1016 1082.1L1013 1093.5L1010 1107.2L1006 1123.5L1001 1150.4L998 1164.7L993 1184.2L990 1194.5L986 1205.5L983 1211.1L980 1214.7L978 1215.8L976 1216.1L974 1215.6L971 1213.1L969 1210.5L966 1205.4L962 1197.1L949 1164.5L940 1144.4L932 1128.6L925 1115.9L913 1096.8L906 1087.5L900 1080.4L892 1072.9L886 1069.5L883 1068.2L877 1067L872 1066.7L865 1064.9L863 1064L860 1062.2L857 1059.4L854 1055.7L850 1049L846 1040.5L839 1023.9L837 1020.6L836 1019.6L835 1019.2L834 1019.4L833 1020.3L831 1024.4L829 1031.2L826 1044.9L819 1083.1L815 1103L811 1118.3L808 1125.8L806 1128.8L804 1129.9L803 1129.9L802 1129.3L800 1126.8L798 1122.4L796 1116.1L794 1107.9L792 1097.8Z" fill="#5c76b2"/>
<path d="M792 1071.9L795 1080.9L797 1084.5L799 1086.2L800 1086.5L802 1085.7L804 1083.5L806 1079.8L809 1071.9L813 1057L823 1007.9L827 990.9L830 982.6L831 981.1L832 980.2L833 980L834 980.6L835 981.8L837 985.7L847 1014.9L853 1030L857 1037.9L861 1043.8L865 1047.9L869 1050.6L876 1053.2L889 1056.2L892 1057.9L898 1060.3L904 1064.1L909 1068L917 1076L920 1079.3L927 1089L935 1101.4L944 1117.3L958 1145L963 1153.2L967 1158.5L970 1160.8L972 1161.5L974 1161.3L976 1160.4L978 1158.6L980 1155.9L983 1150.1L987 1138.7L992 1118.9L1001 1074.5L1006 1054.6L1010 1037.1L1012 1031.6L1018 1017.1L1023 1008.6L1026 1004.5L1027 1003.6L1029 1002.4L1032 999.9L1035 998.3L1037 998.6L1039 999.3L1044 1001.9L1046 1002.3L1048 1003.2L1053 1006.5L1059 1008.5L1060 1008.5L1062 1007.3L1066 1003.7L1068 1003L1072 1002.5L1077 1000.6L1079 1000.5L1086 1002.5L1088 1003.3L1095 1007.4L1100 1012.2L1106 1016.5L1113 1023.5L1120 1028.1L1125 1031.9L1130 1034.4L1136 1036.4L1140 1037L1144 1037L1160 1035.8L1168 1036.4L1172 1037.1L1177 1038.9L1182 1041.4L1201 1053.3L1212 1058.1L1216 1059.1L1224 1060.1L1228 1060L1233 1059.1L1241 1056.9L1248 1054L1253 1051.2L1258 1047.9L1265 1042.4L1268 1040.5L1271 1039.3L1274 1039.3L1276 1040.2L1278 1041.8L1282 1046.9L1287 1055.6L1294.6 1071.1L1294.6 1087.7L1289 1076.3L1284 1067.7L1281 1063.9L1279 1061.9L1277 1060.5L1275 1059.8L1273 1059.8L1270 1060.7L1267 1062.6L1259 1069.1L1256 1071.2L1252 1073.2L1247 1075L1242 1076.2L1236 1077L1219 1077.6L1209 1076.1L1203 1074.3L1194 1069.8L1187 1065.2L1179 1060.6L1175 1058.8L1171 1057.7L1166 1056.9L1161 1056.9L1154 1057.5L1145 1058.9L1140 1059.2L1136 1058.9L1133 1058.2L1129 1056.7L1120 1052.3L1112 1046.7L1106 1044.4L1100 1041.2L1091 1041.1L1085 1043L1082 1044.7L1078 1047.7L1072 1051.1L1066 1057.5L1063 1058.4L1059 1059L1057 1058.9L1055 1058L1044 1048.1L1043 1047.7L1041 1047.5L1038 1048.1L1032 1050.8L1029 1053.1L1024 1061.2L1020 1070.4L1016 1082.1L1013 1093.5L1010 1107.2L1006 1123.5L1001 1150.4L998 1164.7L993 1184.2L990 1194.5L986 1205.5L983 1211.1L980 1214.7L978 1215.8L976 1216.1L974 1215.6L971 1213.1L969 1210.5L966 1205.4L962 1197.1L949 1164.5L940 1144.4L932 1128.6L925 1115.9L913 1096.8L906 1087.5L900 1080.4L892 1072.9L886 1069.5L883 1068.2L877 1067L872 1066.7L865 1064.9L863 1064L860 1062.2L857 1059.4L854 1055.7L850 1049L846 1040.5L839 1023.9L837 1020.6L836 1019.6L835 1019.2L834 1019.4L833 1020.3L831 1024.4L829 1031.2L826 1044.9L819 1083.1L815 1103L811 1118.3L808 1125.8L806 1128.8L804 1129.9L803 1129.9L802 1129.3L800 1126.8L798 1122.4L796 1116.1L794 1107.9L792 1097.8Z" fill="#aa6478" clip-path="url(#c6)"/>
<line x1="792" y1="1066.8" x2="1294.6" y2="1066.8" stroke="#505d5a" stroke-width="1.8" stroke-opacity="0.6"/>
<path d="M792 1073.4L801 994.2L805 963.9L807 952.7L809 944.8L811 940.2L812 939L813 938.4L814 938.4L816 940.2L818 943.9L820 949.2L824 963L833 999.3L837 1013.4L840 1022.3L843 1029.7L846 1036L849 1041.3L852 1045.8L855 1049.5L858 1052.6L862 1056L869 1060.2L886 1067.4L891 1070L896 1073.1L901 1076.7L906 1081L911 1086.2L915 1090.9L920 1097.7L924 1103.9L929 1112.8L933 1120.8L941 1138.9L953 1169.5L956 1176.3L959 1181.2L961 1183.1L963 1184L964 1184.1L966 1183.5L968 1182.1L970 1179.9L974 1173.2L978 1164L982 1152.6L986 1139.5L1003 1078.1L1008 1063.2L1012 1053.8L1017 1045.5L1022 1039.6L1031 1031.8L1035 1029.2L1038 1027.7L1042 1026.7L1046 1027L1050 1028.4L1060 1033.4L1063 1034.3L1066 1034.4L1069 1033.5L1071 1032.3L1079 1024.3L1083 1021.5L1087 1020.2L1089 1020.2L1092 1020.8L1096 1022.7L1100 1025.5L1113 1037.2L1118 1041.2L1123 1044.6L1129 1048L1136 1051L1144 1053.2L1151 1054.2L1167 1055.3L1172 1056.4L1176 1057.8L1180 1059.8L1185 1063L1208 1080.9L1215 1085.7L1222 1090L1230 1094.2L1237 1097.1L1244 1099.2L1250 1100.4L1258 1100.6L1262 1100.2L1266 1099.3L1270 1098L1274 1096.1L1277 1094.4L1280 1092.1L1284 1087.6L1288 1080.5L1291 1073L1294.6 1060.9" fill="none" stroke="#e42d18" stroke-width="1.5" stroke-linejoin="round"/>
<path d="M792 1084.8L795 1096.6L797 1102L799 1105.5L801 1107.3L802 1107.5L803 1107.3L805 1105.7L807 1102.5L810 1094.9L814 1079.9L825 1024.5L828 1011.5L830 1005L832 1001.1L833 1000.1L834 1000L835 1000.5L837 1003.1L839 1007.4L846 1026.3L851 1038.1L855 1045.6L857 1048.7L860 1052.3L864 1055.7L868 1057.9L872 1059.2L881 1061L885 1062.1L889 1063.8L894 1066.6L899 1070.2L905 1075.6L911 1082L917 1089.5L927 1104.2L938 1123.5L946 1139.5L959 1168.2L964 1178.1L967 1182.8L970 1186.3L973 1188.2L975 1188.5L977 1187.9L979 1186.4L982 1182.4L984 1178.6L986 1173.7L989 1164.6L995 1140.5L1009 1076.2L1013 1061.3L1017 1049.2L1021 1039.7L1023 1035.9L1026 1031.2L1030 1026.8L1032 1025.4L1035 1024L1039 1023.6L1043 1024.6L1047 1026.7L1055 1032.6L1057 1033.5L1059 1033.7L1061 1033.4L1063 1032.5L1072 1026.8L1078 1024.1L1082 1023L1085 1022.6L1088 1022.6L1091 1023.1L1096 1024.7L1101 1027.3L1122 1041.5L1127 1044.4L1132 1046.5L1136 1047.7L1140 1048.1L1144 1048L1161 1046.4L1167 1046.6L1172 1047.5L1176 1048.9L1181 1051.3L1197 1061.2L1203 1064.3L1211 1067.1L1219 1068.5L1225 1068.8L1232 1068.3L1239 1067.1L1246 1065.1L1251 1063L1256 1060.2L1266 1052.6L1269 1050.6L1272 1049.5L1274 1049.5L1276 1050.1L1278 1051.5L1280 1053.4L1283 1057.4L1288 1066L1294.6 1079.4" fill="none" stroke="#1753a6" stroke-width="1.5" stroke-linejoin="round"/>
<path d="M792 891 L792 1242.5 L1294.6 1242.5" fill="none" stroke="#1a1a1a" stroke-width="1.3"/>
<line x1="792" y1="891" x2="809" y2="891" stroke="#2a2a2a" stroke-width="1.5" />
<line x1="792" y1="978.9" x2="809" y2="978.9" stroke="#2a2a2a" stroke-width="1.5" />
<line x1="792" y1="1066.8" x2="809" y2="1066.8" stroke="#2a2a2a" stroke-width="1.5" />
<line x1="792" y1="1154.6" x2="809" y2="1154.6" stroke="#2a2a2a" stroke-width="1.5" />
<line x1="892.5" y1="1242.5" x2="892.5" y2="1225.5" stroke="#2a2a2a" stroke-width="1.5" />
<line x1="993" y1="1242.5" x2="993" y2="1225.5" stroke="#2a2a2a" stroke-width="1.5" />
<line x1="1093.6" y1="1242.5" x2="1093.6" y2="1225.5" stroke="#2a2a2a" stroke-width="1.5" />
<line x1="1194.1" y1="1242.5" x2="1194.1" y2="1225.5" stroke="#2a2a2a" stroke-width="1.5" />
<line x1="1294.6" y1="1242.5" x2="1294.6" y2="1225.5" stroke="#2a2a2a" stroke-width="1.5" />
<path d="M130.8 1533.6L132.8 1525L135.8 1505.4L138.8 1479.9L145.8 1414.2L148.8 1390.2L150.8 1377.4L153.8 1363.8L156.8 1355.8L158.8 1352.6L160.8 1350.6L162.8 1349.6L164.8 1349.4L168.8 1349.4L171.8 1352.4L172.8 1353L177.8 1354.1L180.8 1357.2L182.8 1357.4L184.8 1358.6L186.8 1359.3L194.8 1358.9L201.8 1359.2L205.8 1359.6L211.8 1361.1L213.8 1361.9L221.8 1366.5L226.8 1370.5L233.8 1377.8L239.8 1386.1L245.8 1396.6L249.8 1404.9L254.8 1416.8L259.8 1430.4L264.8 1446.8L269.8 1466.5L272.8 1480.1L277.8 1497.7L285.8 1520.2L287.8 1524.3L290.8 1532.6L299.8 1554.9L303.8 1563.3L308.8 1572.1L311.8 1575.7L313.8 1577.1L315.8 1577.5L316.8 1577.3L318.8 1576.1L320.8 1574L323.8 1569.1L326.8 1562.5L329.8 1555L342.8 1518.2L349.8 1501.1L353.8 1493.5L357.8 1487.6L361.8 1483.6L364.8 1481.8L366.8 1481.3L369.8 1481.5L372.8 1482.8L375.8 1485.2L382.8 1495.3L390.8 1513.1L394.8 1520.5L396.8 1523L398.8 1524.7L402.8 1526.9L403.8 1527.2L408.8 1526.7L417.8 1526.4L423.8 1525.4L432.8 1526.2L437.8 1525.9L442.8 1526.1L448.8 1525.4L452.8 1523.8L459.8 1519.9L464.8 1516.3L469.8 1509.9L476.8 1499.7L488.8 1476.6L496.8 1455.5L501.8 1445.5L507.8 1428.3L512.8 1419.2L521.8 1394.4L522.8 1392.1L527.8 1383.6L532.8 1372.8L537.8 1364.5L541.8 1359.3L546.8 1354.9L548.8 1354L551.8 1353.2L553.8 1352.2L556.8 1353.3L565.8 1353.5L568.8 1353.9L571.8 1354.9L573.8 1356.1L575.8 1357.9L578.8 1362.4L581.8 1370.5L585.8 1386.5L596.8 1444.2L602.8 1472.3L608.8 1495.9L613.8 1512L616.8 1519.9L619.8 1526L622.8 1530.1L624.8 1531.6L626.8 1531.9L628.8 1531L630.8 1528.8L633.6 1523.4L633.6 1546.5L631.8 1551.3L629.8 1555.4L627.8 1558.5L624.8 1561.2L622.8 1561.7L621.8 1561.7L619.8 1560.8L617.8 1559L614.8 1554.4L610.8 1545.2L605.8 1529.2L600.8 1509.3L588.8 1456.3L584.8 1441.3L581.8 1432.1L579.8 1427.2L577.8 1423.4L574.8 1418.9L570.8 1413.7L567.8 1410.6L565.8 1409.1L562.8 1408L560.8 1408.1L558.8 1408.9L556.8 1410.6L553.8 1415.9L551.8 1418.8L548.8 1425.8L543.8 1440.2L537.8 1460.8L527.8 1497.9L521.8 1523.2L516.8 1539.4L512.8 1550.9L507.8 1569.3L506.8 1572L501.8 1583L497.8 1594.2L495.8 1598.9L488.8 1609.7L483.8 1618.6L479.8 1623.1L473.8 1629.1L469.8 1631.7L456.8 1637.1L437.8 1638.1L432.8 1637.5L426.8 1637.4L423.8 1636.9L409.8 1631.2L403.8 1627.8L400.8 1626.8L397.8 1624.6L394.8 1620.4L385.8 1600.4L379.8 1588.4L377.8 1585.1L373.8 1579.4L370.8 1575.9L367.8 1573.6L364.8 1572.6L362.8 1572.7L360.8 1573.4L358.8 1574.5L355.8 1577.2L350.8 1583L337.8 1600.3L333.8 1604.7L330.8 1607.2L327.8 1609.1L323.8 1610.5L310.8 1613.2L308.8 1613.2L306.8 1612.8L304.8 1611.8L302.8 1610L298.8 1604L290.8 1585.6L287.8 1581L285.8 1577.3L282.8 1573.9L279.8 1569.4L275.8 1562.6L274.8 1560.3L269.8 1544.5L261.8 1513.3L252.8 1486.2L244.8 1464.3L239.8 1451.8L234.8 1440.5L228.8 1428.9L224.8 1422.6L219.8 1416L215.8 1411.6L208.8 1404.8L186.8 1387.1L184.8 1386.1L182.8 1385.6L180.8 1384L177.8 1384L174.8 1381.9L172.8 1381.1L171.8 1381.3L170.8 1382L168.8 1384.3L166.8 1385.7L164.8 1388.7L162.8 1392.9L160.8 1398.2L156.8 1412L153.8 1425.5L150.8 1442.2L141.8 1504.3L137.8 1528.3L135.8 1537.4L133.8 1543.7L132.8 1545.6L131.8 1546.5L130.8 1546.4Z" fill="#f3a885"/>
<path d="M130.8 1537L132.8 1541.3L134.8 1544.5L136.8 1545.9L138.8 1546L140.8 1544.6L142.8 1541.5L145.8 1533.6L148.8 1521.1L151.8 1504.9L157.8 1463.2L161.8 1431.9L166.8 1398.9L168.8 1389.1L170.8 1382.5L172.8 1379.5L173.8 1379L174.8 1378.9L180.8 1381.2L183.8 1381L188.8 1383.3L196.8 1389.9L207.8 1402.1L212.8 1406.8L220.8 1411.9L227.8 1414.4L238.8 1419.1L245.8 1424.2L249.8 1428.5L252.8 1432.4L256.8 1439.2L260.8 1448.3L267.8 1468.2L273.8 1483.5L277.8 1495.6L285.8 1517.7L292.8 1534.6L299.8 1554.4L305.8 1569.5L308.8 1574.9L311.8 1577.7L313.8 1578.3L316.8 1578.4L318.8 1579.1L320.8 1579.2L321.8 1578.4L322.8 1577L329.8 1566L332.8 1560.1L338.8 1546.3L343.8 1530.9L348.8 1518.7L352.8 1506.9L356.8 1497.3L359.8 1491.4L361.8 1488.5L365.8 1484.4L367.8 1483.4L372.8 1482L375.8 1481.5L377.8 1481.7L379.8 1483.6L382.8 1488.4L384.8 1492.4L394.8 1518.4L397.8 1523L401.8 1527.7L402.8 1528.5L405.8 1529.8L408.8 1530.7L415.8 1530.7L419.8 1529.6L420.8 1529.7L428.8 1531.2L438.8 1532L448.8 1530.6L454.8 1527.3L456.8 1525.5L459.8 1521.8L466.8 1511.1L472.8 1499.7L487.8 1466.3L492.8 1451.8L497.8 1440.5L502.8 1425.1L507.8 1414.5L512.8 1399.1L517.8 1389.7L523.8 1372.8L527.8 1363.1L531.8 1357.6L534.8 1352.1L536.8 1349.2L541.8 1345.1L544.8 1344.2L549.8 1341.3L550.8 1341.4L553.8 1342.7L555.8 1342.2L557.8 1343.2L560.8 1342.6L562.8 1342.8L569.8 1347.4L574.8 1352.5L578.8 1357.1L581.8 1361.3L587.8 1371.4L591.8 1377.2L600.8 1391.9L609.8 1403.6L612.8 1409.2L614.8 1414.5L616.8 1421.5L618.8 1430.6L620.8 1441.9L633.6 1533.4L633.6 1559.9L628.8 1521.6L622.8 1481.2L619.8 1464.7L617.8 1455.6L615.8 1448.5L613.8 1443.2L611.8 1439.4L609.8 1436.7L599.8 1427.6L592.8 1420L582.8 1405.5L573.8 1390.5L566.8 1380.7L564.8 1378.7L557.8 1374.4L555.8 1375.8L554.8 1375.9L553.8 1376.7L546.8 1388.3L543.8 1395.7L538.8 1412L531.8 1437.7L526.8 1459.7L517.8 1492.5L512.8 1514.9L507.8 1530.7L502.8 1550.2L497.8 1563.5L492.8 1579.1L487.8 1589.5L482.8 1600.9L477.8 1609.7L475.8 1612.7L469.8 1619.6L463.8 1624.9L458.8 1627.9L450.8 1631.9L445.8 1633L441.8 1633L435.8 1631.7L427.8 1629.3L424.8 1628.8L419.8 1628.5L416.8 1627.5L411.8 1626.7L409.8 1625.8L406.8 1623.4L403.8 1619.7L399.8 1612.7L394.8 1600.2L391.8 1594.4L380.8 1570.2L376.8 1565.2L374.8 1563.3L370.8 1561.7L367.8 1562.1L363.8 1563.9L360.8 1568L358.8 1571.4L354.8 1580L348.8 1594.1L343.8 1607.4L334.8 1620L328.8 1623.9L326.8 1624.5L324.8 1624.3L320.8 1622.2L316.8 1622.2L315.8 1621.5L307.8 1611L303.8 1607.7L301.8 1605.4L296.8 1598.5L294.8 1595.2L291.8 1588.8L286.8 1575.2L277.8 1552.5L273.8 1543.7L267.8 1529.2L265.8 1525.3L256.8 1510.4L248.8 1495.9L243.8 1488.8L240.8 1485.4L236.8 1481.7L232.8 1478.7L220.8 1472.2L215.8 1469.9L205.8 1462.8L196.8 1455.8L191.8 1451.4L185.8 1447.3L180.8 1444.6L178.8 1445.1L176.8 1446.3L174.8 1448.1L173.8 1449.5L171.8 1454.4L169.8 1463.3L167.8 1476.8L160.8 1538.7L156.8 1568.7L153.8 1586.5L152.8 1591.1L149.8 1600.8L147.8 1604.2L146.8 1605L145.8 1605.3L144.8 1605.3L143.8 1604.8L141.8 1602.5L139.8 1598.8L136.8 1590.9L130.8 1569.3Z" fill="#5c76b2"/>
<path d="M130.8 1537L132.8 1541.3L134.8 1544.5L136.8 1545.9L138.8 1546L140.8 1544.6L142.8 1541.5L145.8 1533.6L148.8 1521.1L151.8 1504.9L157.8 1463.2L161.8 1431.9L166.8 1398.9L168.8 1389.1L170.8 1382.5L172.8 1379.5L173.8 1379L174.8 1378.9L180.8 1381.2L183.8 1381L188.8 1383.3L196.8 1389.9L207.8 1402.1L212.8 1406.8L220.8 1411.9L227.8 1414.4L238.8 1419.1L245.8 1424.2L249.8 1428.5L252.8 1432.4L256.8 1439.2L260.8 1448.3L267.8 1468.2L273.8 1483.5L277.8 1495.6L285.8 1517.7L292.8 1534.6L299.8 1554.4L305.8 1569.5L308.8 1574.9L311.8 1577.7L313.8 1578.3L316.8 1578.4L318.8 1579.1L320.8 1579.2L321.8 1578.4L322.8 1577L329.8 1566L332.8 1560.1L338.8 1546.3L343.8 1530.9L348.8 1518.7L352.8 1506.9L356.8 1497.3L359.8 1491.4L361.8 1488.5L365.8 1484.4L367.8 1483.4L372.8 1482L375.8 1481.5L377.8 1481.7L379.8 1483.6L382.8 1488.4L384.8 1492.4L394.8 1518.4L397.8 1523L401.8 1527.7L402.8 1528.5L405.8 1529.8L408.8 1530.7L415.8 1530.7L419.8 1529.6L420.8 1529.7L428.8 1531.2L438.8 1532L448.8 1530.6L454.8 1527.3L456.8 1525.5L459.8 1521.8L466.8 1511.1L472.8 1499.7L487.8 1466.3L492.8 1451.8L497.8 1440.5L502.8 1425.1L507.8 1414.5L512.8 1399.1L517.8 1389.7L523.8 1372.8L527.8 1363.1L531.8 1357.6L534.8 1352.1L536.8 1349.2L541.8 1345.1L544.8 1344.2L549.8 1341.3L550.8 1341.4L553.8 1342.7L555.8 1342.2L557.8 1343.2L560.8 1342.6L562.8 1342.8L569.8 1347.4L574.8 1352.5L578.8 1357.1L581.8 1361.3L587.8 1371.4L591.8 1377.2L600.8 1391.9L609.8 1403.6L612.8 1409.2L614.8 1414.5L616.8 1421.5L618.8 1430.6L620.8 1441.9L633.6 1533.4L633.6 1559.9L628.8 1521.6L622.8 1481.2L619.8 1464.7L617.8 1455.6L615.8 1448.5L613.8 1443.2L611.8 1439.4L609.8 1436.7L599.8 1427.6L592.8 1420L582.8 1405.5L573.8 1390.5L566.8 1380.7L564.8 1378.7L557.8 1374.4L555.8 1375.8L554.8 1375.9L553.8 1376.7L546.8 1388.3L543.8 1395.7L538.8 1412L531.8 1437.7L526.8 1459.7L517.8 1492.5L512.8 1514.9L507.8 1530.7L502.8 1550.2L497.8 1563.5L492.8 1579.1L487.8 1589.5L482.8 1600.9L477.8 1609.7L475.8 1612.7L469.8 1619.6L463.8 1624.9L458.8 1627.9L450.8 1631.9L445.8 1633L441.8 1633L435.8 1631.7L427.8 1629.3L424.8 1628.8L419.8 1628.5L416.8 1627.5L411.8 1626.7L409.8 1625.8L406.8 1623.4L403.8 1619.7L399.8 1612.7L394.8 1600.2L391.8 1594.4L380.8 1570.2L376.8 1565.2L374.8 1563.3L370.8 1561.7L367.8 1562.1L363.8 1563.9L360.8 1568L358.8 1571.4L354.8 1580L348.8 1594.1L343.8 1607.4L334.8 1620L328.8 1623.9L326.8 1624.5L324.8 1624.3L320.8 1622.2L316.8 1622.2L315.8 1621.5L307.8 1611L303.8 1607.7L301.8 1605.4L296.8 1598.5L294.8 1595.2L291.8 1588.8L286.8 1575.2L277.8 1552.5L273.8 1543.7L267.8 1529.2L265.8 1525.3L256.8 1510.4L248.8 1495.9L243.8 1488.8L240.8 1485.4L236.8 1481.7L232.8 1478.7L220.8 1472.2L215.8 1469.9L205.8 1462.8L196.8 1455.8L191.8 1451.4L185.8 1447.3L180.8 1444.6L178.8 1445.1L176.8 1446.3L174.8 1448.1L173.8 1449.5L171.8 1454.4L169.8 1463.3L167.8 1476.8L160.8 1538.7L156.8 1568.7L153.8 1586.5L152.8 1591.1L149.8 1600.8L147.8 1604.2L146.8 1605L145.8 1605.3L144.8 1605.3L143.8 1604.8L141.8 1602.5L139.8 1598.8L136.8 1590.9L130.8 1569.3Z" fill="#aa6478" clip-path="url(#c7)"/>
<path d="M130.8 1540L131.8 1538.1L133.8 1531.5L136.8 1515.3L139.8 1493.9L148.8 1422.7L151.8 1404.2L153.8 1394.6L155.8 1387.1L157.8 1381.1L159.8 1376.4L161.8 1372.7L163.8 1370L165.8 1368.2L167.8 1367.2L170.8 1366.7L174.8 1367.7L184.8 1372.4L200.8 1378.7L206.8 1381.5L211.8 1384.4L217.8 1388.9L223.8 1394.6L228.8 1400.7L233.8 1408.1L238.8 1417L244.8 1429.5L250.8 1443.9L256.8 1459.9L260.8 1471.7L263.8 1481.8L273.8 1520.3L278.8 1534.3L289.8 1556.9L297.8 1575.8L300.8 1582.1L302.8 1585.6L305.8 1589.8L308.8 1592.7L311.8 1594.4L314.8 1594.9L316.8 1594.6L318.8 1593.8L321.8 1591.8L325.8 1587.4L328.8 1583L332.8 1576.1L345.8 1550.1L351.8 1539.4L355.8 1533.8L358.8 1530.5L361.8 1528.3L364.8 1527.2L367.8 1527.4L370.8 1528.9L373.8 1531.5L376.8 1535.1L379.8 1539.6L383.8 1547L391.8 1564.7L394.8 1570.4L397.8 1574.3L399.8 1575.8L401.8 1576.8L410.8 1579.1L421.8 1580.9L433.8 1581.9L443.8 1581.9L450.8 1581L456.8 1579.2L462.8 1576.2L467.8 1572.6L471.8 1568.8L474.8 1565.4L481.8 1555.6L488.8 1543.1L496.8 1526.2L503.8 1509.2L511.8 1487.9L534.8 1420.6L539.8 1407.7L543.8 1398.8L547.8 1391.5L551.8 1386L555.8 1382.5L559.8 1380.8L562.8 1380.7L565.8 1381.3L568.8 1382.7L571.8 1384.9L574.8 1387.9L576.8 1390.5L578.8 1393.8L580.8 1398.4L583.8 1407.9L586.8 1419.9L598.8 1477.3L604.8 1503.1L610.8 1524L613.8 1532.3L615.8 1536.8L618.8 1542.1L620.8 1544.5L622.8 1545.9L624.8 1546.4L626.8 1545.8L628.8 1544.1L630.8 1541.2L633.6 1535" fill="none" stroke="#e42d18" stroke-width="1.5" stroke-linejoin="round"/>
<path d="M130.8 1553.1L133.8 1561.9L135.8 1566.5L137.8 1570L139.8 1572.2L141.8 1572.9L143.8 1572L145.8 1569.4L147.8 1565L150.8 1554.3L154.8 1532.6L158.8 1504.4L166.8 1442L169.8 1424.3L171.8 1417.5L173.8 1414.3L175.8 1413.1L179.8 1412.8L181.8 1413.1L184.8 1414.1L190.8 1417.7L195.8 1421.9L208.8 1434.1L214.8 1438.7L219.8 1441.6L232.8 1447.6L237.8 1450.6L243.8 1455.7L248.8 1461.7L252.8 1467.7L256.8 1474.8L264.8 1491.6L272.8 1511L290.8 1558L298.8 1576.4L302.8 1584.3L306.8 1590.8L310.8 1595.9L314.8 1599.3L316.8 1600.3L318.8 1600.7L320.8 1600.7L322.8 1600.2L326.8 1597.7L328.8 1595.8L331.8 1592.1L335.8 1585.9L340.8 1576L344.8 1566.7L354.8 1541L358.8 1532.4L361.8 1527.5L363.8 1525.2L366.8 1523.1L369.8 1522.3L372.8 1522.2L375.8 1522.8L378.8 1525L380.8 1527.7L383.8 1533.4L392.8 1554.9L396.8 1563.5L401.8 1572L403.8 1574.3L405.8 1576.1L408.8 1577.8L411.8 1578.7L422.8 1579.3L438.8 1582.1L442.8 1582.3L445.8 1582.1L448.8 1581.4L451.8 1580.2L454.8 1578.6L458.8 1575.5L462.8 1571.6L466.8 1566.8L473.8 1556.3L481.8 1541.2L490.8 1520.6L499.8 1496.4L509.8 1466.4L528.8 1406.4L532.8 1394.8L536.8 1384.4L539.8 1377.6L542.8 1371.8L547.8 1364.6L550.8 1361.6L552.8 1360.2L555.8 1359L557.8 1358.8L560.8 1359.3L564.8 1361.5L567.8 1364L571.8 1368.4L577.8 1376.6L590.8 1396.5L596.8 1405L601.8 1411.4L609.8 1420.1L611.8 1423.2L613.8 1427.4L615.8 1433.1L617.8 1440.7L621.8 1461.8L625.8 1488.6L633.6 1546.7" fill="none" stroke="#1753a6" stroke-width="1.5" stroke-linejoin="round"/>
<line x1="213.9" y1="1327.0" x2="213.9" y2="1678.7" stroke="#e0170c" stroke-width="2" stroke-dasharray="11.4 11.9" stroke-dashoffset="5.7"/>
<line x1="259.9" y1="1327.0" x2="259.9" y2="1678.7" stroke="#0d4597" stroke-width="2" stroke-dasharray="11.4 11.9" stroke-dashoffset="5.7"/>
<path d="M130.8 1327 L130.8 1678.7 L633.6 1678.7" fill="none" stroke="#1a1a1a" stroke-width="1.3"/>
<line x1="130.8" y1="1327" x2="147.8" y2="1327" stroke="#2a2a2a" stroke-width="1.5" />
<line x1="130.8" y1="1371" x2="147.8" y2="1371" stroke="#2a2a2a" stroke-width="1.5" />
<line x1="130.8" y1="1414.9" x2="147.8" y2="1414.9" stroke="#2a2a2a" stroke-width="1.5" />
<line x1="130.8" y1="1458.9" x2="147.8" y2="1458.9" stroke="#2a2a2a" stroke-width="1.5" />
<line x1="130.8" y1="1502.8" x2="147.8" y2="1502.8" stroke="#2a2a2a" stroke-width="1.5" />
<line x1="130.8" y1="1546.8" x2="147.8" y2="1546.8" stroke="#2a2a2a" stroke-width="1.5" />
<line x1="130.8" y1="1590.8" x2="147.8" y2="1590.8" stroke="#2a2a2a" stroke-width="1.5" />
<line x1="130.8" y1="1634.7" x2="147.8" y2="1634.7" stroke="#2a2a2a" stroke-width="1.5" />
<line x1="231.3" y1="1678.7" x2="231.3" y2="1661.7" stroke="#2a2a2a" stroke-width="1.5" />
<line x1="331.9" y1="1678.7" x2="331.9" y2="1661.7" stroke="#2a2a2a" stroke-width="1.5" />
<line x1="432.5" y1="1678.7" x2="432.5" y2="1661.7" stroke="#2a2a2a" stroke-width="1.5" />
<line x1="533" y1="1678.7" x2="533" y2="1661.7" stroke="#2a2a2a" stroke-width="1.5" />
<line x1="633.6" y1="1678.7" x2="633.6" y2="1661.7" stroke="#2a2a2a" stroke-width="1.5" />
<path d="M792 1428L794 1408.6L797 1385.4L799 1373.6L802 1360.8L804 1355L806 1350.6L807 1349.4L810 1347.5L812 1345.4L813 1345L814 1344.9L815 1345.6L818 1350.4L820 1352.8L826 1363.6L836 1383.3L850 1407L863 1427.9L883 1456.6L886 1462.4L889 1467.3L905 1503L915 1523.7L924 1539.6L930 1549L935 1555.6L940 1563.9L945 1570.3L948 1575.9L952 1581.6L955 1587.2L962 1597.7L965 1601.5L967 1603.3L969 1604.4L971 1604.8L973 1604.5L975 1603.4L977 1601.5L979 1598.7L981 1595L983 1590.5L988 1576.3L991 1564.6L998 1532.9L1006 1492.3L1010 1474.9L1014 1454.9L1020 1439L1024 1426.4L1032 1413.3L1035 1409.6L1039 1407.3L1042 1403.2L1046 1402L1048 1401L1050 1397.9L1053 1394.7L1057 1389.7L1061 1387.2L1065 1385.6L1075 1376.1L1082 1371.1L1083 1370.6L1085 1370.4L1088 1369.1L1091 1369.6L1094 1368.9L1095 1369.2L1099 1368.4L1112 1371.8L1121 1376.6L1125 1378.5L1133 1383.2L1143 1386.3L1145 1386.8L1155 1387.7L1160 1386.5L1165 1386.3L1171 1386.7L1176 1388.3L1182 1392.3L1185 1395.1L1187 1397.7L1192 1404.8L1196 1411.4L1205 1428L1215 1447.7L1225 1463.9L1228 1470.1L1231 1474L1232 1475.9L1243 1502.5L1246 1508.9L1248 1512L1249 1513L1250 1513.2L1251 1514.2L1252 1514.5L1254 1514L1262 1508.6L1266 1507.1L1273 1506.5L1277 1505.3L1279 1504.1L1281 1502.2L1284 1497.5L1286 1492.1L1287 1488.4L1289 1478.2L1291 1463.5L1294.6 1429.6L1294.6 1483.5L1291 1514L1288 1533.7L1285 1546.3L1283 1552L1281 1556.5L1278 1561.3L1276 1563.4L1274 1564.8L1270 1565.7L1263 1565.1L1257 1566.5L1251 1567.2L1250 1567.6L1248 1566.4L1239 1563.8L1236 1562.1L1234 1562L1233 1561.6L1231 1560L1228 1555.1L1225 1552.1L1221 1545.6L1212 1526.5L1198 1493.6L1190 1476.3L1184 1466.1L1181 1461.9L1179 1459.7L1177 1458.2L1173 1456.1L1168 1454.8L1160 1454.2L1151 1450.1L1147 1447L1140 1440.4L1134 1433.9L1131 1431.2L1122 1424.4L1120 1423.3L1116 1421.7L1110 1420.8L1107 1420.9L1103 1422.1L1095 1428L1092 1431.7L1091 1433L1085 1444.1L1078 1460.5L1070 1483.7L1068 1488.1L1066 1490.9L1065 1491.6L1064 1491.8L1063 1491.4L1061 1489.3L1059 1486L1058 1485.2L1054 1482.2L1050 1480.9L1048 1479.5L1045 1481.2L1042 1484.1L1039 1484.7L1031 1496.3L1028 1501.5L1024 1511.7L1020 1520L1014 1542.1L1010 1550.7L1006 1563.3L999 1580.8L995 1592.3L989 1605.6L984 1617.6L980 1624.5L977 1628L974 1630.1L970 1631.7L963 1631L960 1630L958 1628.7L955 1625.8L953 1624.3L947 1616.4L945 1614.5L940 1606.7L935 1600.8L928 1589.7L920 1575.8L899 1534.5L894 1525L889 1516.7L886 1510.1L882 1502.8L875 1487.8L869 1475.9L863 1465.3L857 1455.6L832 1417.9L828 1410L822 1394.1L818 1384.8L817 1383.2L812 1378.7L810 1378L808 1381.3L805 1390.4L802 1404.4L799 1423.4L797 1438.6L792 1486.5Z" fill="#f3a885"/>
<path d="M792 1491.3L794 1498.7L796 1504.2L798 1507.4L799 1508.1L800 1508.2L801 1507.6L802 1506.3L803 1504.3L805 1498.4L809 1481L816 1443.3L818 1429.6L823 1388.9L825 1375.9L827 1366.7L828 1364.5L829 1364.5L833 1370.2L837 1380.3L843 1391.8L848 1400.4L856 1412.8L863 1422.7L866 1425.8L869 1430.3L872 1433.2L875 1437.1L882 1444.9L889 1454L894 1462.7L897 1467.2L905 1482.7L925 1524.3L938 1550.3L947 1567.2L955 1581.1L960 1587.6L965 1595.1L967 1596.5L970 1597.7L973 1600L975 1600.8L981 1595.3L984 1590.4L989 1577.4L995 1558.2L1005 1521.3L1008 1508.3L1010 1497.4L1015 1463.6L1018 1447.8L1021 1437.5L1025 1426.4L1028 1418.7L1031 1412.3L1036 1402.9L1041 1395.3L1044 1391.3L1049 1386.2L1057 1379.2L1062 1373.2L1065 1371.2L1070 1364.5L1076 1362.3L1078 1361L1080 1360.3L1086 1359L1090 1359.5L1095 1358.8L1096 1358.9L1099 1360.5L1105 1360.8L1111 1365.4L1117 1367.3L1122 1370.6L1126 1372.5L1133 1375.4L1139 1377.3L1150 1379.1L1153 1378.4L1158 1376.7L1164 1377.4L1167 1376.5L1170 1376.1L1179 1381.7L1182 1384.1L1192 1395.1L1199 1401.9L1203 1407.1L1211 1414.1L1215 1416.4L1218 1417.5L1221 1417.9L1222 1417.7L1226 1415.6L1230 1413.9L1238 1408.1L1245 1401.9L1248 1399.7L1250 1398.7L1251 1397.7L1254 1396.5L1256 1394.6L1258 1393.4L1260 1393L1261 1392.3L1267 1390.9L1272 1390.7L1275 1391.7L1277 1393.7L1279 1397.2L1281 1402.8L1283 1410.6L1285 1420.4L1288 1437.8L1294.6 1482.3L1294.6 1516.4L1288 1477L1284 1456.7L1282 1448.9L1280 1443.1L1279 1441.1L1277 1438.8L1276 1438.4L1274 1439.1L1271 1442.6L1264 1456L1256 1473.4L1254 1476.4L1251 1482.1L1248 1486.1L1246 1488.1L1244 1489.6L1241 1490.5L1240 1491.1L1238 1491.2L1235 1491.9L1230 1491.8L1226 1492.7L1222 1492.1L1220 1492.4L1216 1492.2L1213 1491.4L1209 1488.9L1206 1485.5L1199 1475.4L1186 1449.2L1176 1432.2L1173 1429.1L1170 1427L1164 1422L1162 1421.9L1158 1422.4L1150 1421.2L1144 1422.1L1136 1421.2L1130 1420.2L1122 1417.8L1117 1417.3L1111 1415.4L1108 1416.4L1105 1418L1102 1418.3L1099 1419L1096 1422.2L1091 1426.2L1089 1428.5L1081 1441.5L1076 1450.8L1070 1464L1065 1469.5L1062 1473.9L1049 1479.7L1046 1481.6L1042 1484.8L1039 1487.6L1037 1490.2L1032 1497.2L1029 1502.6L1023 1514.6L1020 1522.7L1018 1529.6L1016 1538L1014 1548.8L1010 1576L1007 1592.8L1004 1605.2L1000 1617.6L993 1630.5L988 1636.8L985 1639.4L981 1641.2L979 1641.7L977 1640.5L975 1638.3L973 1637.4L970 1635.2L965 1627.1L960 1621.7L955 1613.9L950 1607L943 1595.8L931 1574.9L910 1535.9L905 1527.2L902 1521.1L898 1514.4L894 1506L889 1496.8L876 1470.1L869 1457.5L866 1453.8L863 1449.1L846 1430.7L841 1424.3L837 1418.2L836 1417.3L833 1416L831 1413.9L830 1414L828 1418.6L827 1422L826 1427.5L824 1444.8L818 1514.4L816 1533.6L812 1561.6L809 1577.1L807 1584.7L805 1589.4L804 1590.7L803 1591.1L802 1590.5L801 1589.1L800 1586.7L798 1579.3L796 1568.6L792 1538.7Z" fill="#5c76b2"/>
<path d="M792 1491.3L794 1498.7L796 1504.2L798 1507.4L799 1508.1L800 1508.2L801 1507.6L802 1506.3L803 1504.3L805 1498.4L809 1481L816 1443.3L818 1429.6L823 1388.9L825 1375.9L827 1366.7L828 1364.5L829 1364.5L833 1370.2L837 1380.3L843 1391.8L848 1400.4L856 1412.8L863 1422.7L866 1425.8L869 1430.3L872 1433.2L875 1437.1L882 1444.9L889 1454L894 1462.7L897 1467.2L905 1482.7L925 1524.3L938 1550.3L947 1567.2L955 1581.1L960 1587.6L965 1595.1L967 1596.5L970 1597.7L973 1600L975 1600.8L981 1595.3L984 1590.4L989 1577.4L995 1558.2L1005 1521.3L1008 1508.3L1010 1497.4L1015 1463.6L1018 1447.8L1021 1437.5L1025 1426.4L1028 1418.7L1031 1412.3L1036 1402.9L1041 1395.3L1044 1391.3L1049 1386.2L1057 1379.2L1062 1373.2L1065 1371.2L1070 1364.5L1076 1362.3L1078 1361L1080 1360.3L1086 1359L1090 1359.5L1095 1358.8L1096 1358.9L1099 1360.5L1105 1360.8L1111 1365.4L1117 1367.3L1122 1370.6L1126 1372.5L1133 1375.4L1139 1377.3L1150 1379.1L1153 1378.4L1158 1376.7L1164 1377.4L1167 1376.5L1170 1376.1L1179 1381.7L1182 1384.1L1192 1395.1L1199 1401.9L1203 1407.1L1211 1414.1L1215 1416.4L1218 1417.5L1221 1417.9L1222 1417.7L1226 1415.6L1230 1413.9L1238 1408.1L1245 1401.9L1248 1399.7L1250 1398.7L1251 1397.7L1254 1396.5L1256 1394.6L1258 1393.4L1260 1393L1261 1392.3L1267 1390.9L1272 1390.7L1275 1391.7L1277 1393.7L1279 1397.2L1281 1402.8L1283 1410.6L1285 1420.4L1288 1437.8L1294.6 1482.3L1294.6 1516.4L1288 1477L1284 1456.7L1282 1448.9L1280 1443.1L1279 1441.1L1277 1438.8L1276 1438.4L1274 1439.1L1271 1442.6L1264 1456L1256 1473.4L1254 1476.4L1251 1482.1L1248 1486.1L1246 1488.1L1244 1489.6L1241 1490.5L1240 1491.1L1238 1491.2L1235 1491.9L1230 1491.8L1226 1492.7L1222 1492.1L1220 1492.4L1216 1492.2L1213 1491.4L1209 1488.9L1206 1485.5L1199 1475.4L1186 1449.2L1176 1432.2L1173 1429.1L1170 1427L1164 1422L1162 1421.9L1158 1422.4L1150 1421.2L1144 1422.1L1136 1421.2L1130 1420.2L1122 1417.8L1117 1417.3L1111 1415.4L1108 1416.4L1105 1418L1102 1418.3L1099 1419L1096 1422.2L1091 1426.2L1089 1428.5L1081 1441.5L1076 1450.8L1070 1464L1065 1469.5L1062 1473.9L1049 1479.7L1046 1481.6L1042 1484.8L1039 1487.6L1037 1490.2L1032 1497.2L1029 1502.6L1023 1514.6L1020 1522.7L1018 1529.6L1016 1538L1014 1548.8L1010 1576L1007 1592.8L1004 1605.2L1000 1617.6L993 1630.5L988 1636.8L985 1639.4L981 1641.2L979 1641.7L977 1640.5L975 1638.3L973 1637.4L970 1635.2L965 1627.1L960 1621.7L955 1613.9L950 1607L943 1595.8L931 1574.9L910 1535.9L905 1527.2L902 1521.1L898 1514.4L894 1506L889 1496.8L876 1470.1L869 1457.5L866 1453.8L863 1449.1L846 1430.7L841 1424.3L837 1418.2L836 1417.3L833 1416L831 1413.9L830 1414L828 1418.6L827 1422L826 1427.5L824 1444.8L818 1514.4L816 1533.6L812 1561.6L809 1577.1L807 1584.7L805 1589.4L804 1590.7L803 1591.1L802 1590.5L801 1589.1L800 1586.7L798 1579.3L796 1568.6L792 1538.7Z" fill="#aa6478" clip-path="url(#c8)"/>
<path d="M792 1457.3L794 1437.1L797 1412L800 1392.6L803 1378.4L806 1368.9L807 1366.7L809 1363.7L810 1362.7L812 1362.1L813 1362.3L815 1363.6L817 1366L820 1371.2L829 1390.9L835 1402.1L866 1451.4L882 1478.9L892 1497.9L915 1544.7L921 1556L926 1564.6L935 1578.2L952 1602.5L957 1609L961 1613.3L964 1615.8L967 1617.4L970 1618.1L972 1617.9L974 1617.1L976 1615.7L978 1613.6L980 1610.7L982 1607.1L986 1597.7L990 1586.1L994 1572.7L1010 1512.8L1016 1491.8L1020 1479.5L1023 1471.5L1026 1464.6L1029 1458.9L1032 1454.1L1036 1449L1040 1445.2L1045 1441.8L1050 1439.4L1056 1437.3L1059 1437.3L1063 1439L1064 1439L1066 1437.8L1069 1434L1077 1418.9L1083 1409.7L1089 1403L1092 1400.5L1096 1398.1L1100 1396.5L1105 1395.6L1109 1395.8L1114 1397L1118 1398.7L1123 1401.4L1141 1413.5L1149 1417.9L1153 1419.3L1156 1420L1168 1420.6L1172 1421.3L1176 1422.9L1180 1425.8L1183 1428.9L1186 1432.8L1192 1442.6L1198 1454.3L1215 1490.1L1223 1504.8L1230 1515.5L1243 1533.7L1247 1538.4L1250 1540.4L1252 1540.8L1254 1540.5L1263 1536.7L1272 1535.9L1275 1535.1L1277 1533.9L1279 1532L1282 1527.7L1284 1523.4L1286 1517.4L1289 1503.1L1291 1488.8L1294.6 1456.6" fill="none" stroke="#e42d18" stroke-width="1.5" stroke-linejoin="round"/>
<path d="M792 1515L794 1526.8L796 1536.4L798 1543.3L799 1545.7L800 1547.4L801 1548.3L802 1548.4L803 1547.7L804 1546.1L806 1541L808 1533.6L811 1519L816 1488.5L818 1472L823 1422.3L826 1399.1L827 1394.4L828 1391.6L829 1390.2L830 1390.1L832 1391.8L834 1394.5L843 1409.3L848 1416.7L865 1438.5L871 1446.7L877 1455.6L884 1466.9L892 1480.7L901 1497.3L937 1566.9L945 1581.3L952 1592.9L959 1603.3L966 1612.3L971 1617.3L973 1618.7L975 1619.6L978 1619.7L980 1619L983 1616.3L986 1612.1L989 1606.5L992 1599.9L999 1581.4L1004 1565.2L1008 1548L1010 1536.7L1015 1503.3L1018 1488.7L1020 1481.7L1023 1473.3L1027 1463.8L1031 1455.6L1037 1445.7L1040 1441.7L1044 1437.2L1048 1433.7L1058 1427L1062 1423.5L1067 1418L1078 1404.1L1084 1397.9L1089 1394L1095 1390.9L1101 1389.4L1107 1389.6L1113 1390.9L1129 1396.8L1138 1399.2L1147 1400.1L1159 1399.5L1163 1399.6L1167 1400.4L1170 1401.6L1173 1403.5L1175 1405.1L1181 1411.9L1186 1418.8L1199 1438.6L1206 1447.6L1209 1450.5L1212 1452.8L1215 1454.2L1218 1454.9L1223 1454.8L1229 1453.2L1237 1450.1L1243 1446.8L1247 1443.8L1251 1439.9L1264 1423.8L1269 1418.4L1271 1416.6L1273 1415.4L1275 1415.1L1276 1415.5L1278 1417.4L1280 1421.4L1282 1427.7L1284 1436L1288 1457.4L1294.6 1499.3" fill="none" stroke="#1753a6" stroke-width="1.5" stroke-linejoin="round"/>
<line x1="891.0" y1="1327.0" x2="891.0" y2="1678.7" stroke="#e0170c" stroke-width="2" stroke-dasharray="11.4 11.9" stroke-dashoffset="5.7"/>
<line x1="902.1" y1="1327.0" x2="902.1" y2="1678.7" stroke="#0d4597" stroke-width="2" stroke-dasharray="11.4 11.9" stroke-dashoffset="5.7"/>
<path d="M792 1327 L792 1678.7 L1294.6 1678.7" fill="none" stroke="#1a1a1a" stroke-width="1.3"/>
<line x1="792" y1="1327" x2="809" y2="1327" stroke="#2a2a2a" stroke-width="1.5" />
<line x1="792" y1="1371" x2="809" y2="1371" stroke="#2a2a2a" stroke-width="1.5" />
<line x1="792" y1="1414.9" x2="809" y2="1414.9" stroke="#2a2a2a" stroke-width="1.5" />
<line x1="792" y1="1458.9" x2="809" y2="1458.9" stroke="#2a2a2a" stroke-width="1.5" />
<line x1="792" y1="1502.8" x2="809" y2="1502.8" stroke="#2a2a2a" stroke-width="1.5" />
<line x1="792" y1="1546.8" x2="809" y2="1546.8" stroke="#2a2a2a" stroke-width="1.5" />
<line x1="792" y1="1590.8" x2="809" y2="1590.8" stroke="#2a2a2a" stroke-width="1.5" />
<line x1="792" y1="1634.7" x2="809" y2="1634.7" stroke="#2a2a2a" stroke-width="1.5" />
<line x1="892.5" y1="1678.7" x2="892.5" y2="1661.7" stroke="#2a2a2a" stroke-width="1.5" />
<line x1="993" y1="1678.7" x2="993" y2="1661.7" stroke="#2a2a2a" stroke-width="1.5" />
<line x1="1093.6" y1="1678.7" x2="1093.6" y2="1661.7" stroke="#2a2a2a" stroke-width="1.5" />
<line x1="1194.1" y1="1678.7" x2="1194.1" y2="1661.7" stroke="#2a2a2a" stroke-width="1.5" />
<line x1="1294.6" y1="1678.7" x2="1294.6" y2="1661.7" stroke="#2a2a2a" stroke-width="1.5" />
<path d="M130.8 2061L135.8 2039.4L145.8 1988.2L149.8 1969.7L152.8 1958.2L154.8 1952.1L156.8 1947L159.8 1941.3L162.8 1937.4L165.8 1934.8L168.8 1933.1L176.8 1930L182.8 1928.2L195.8 1925.7L206.8 1924.3L216.8 1923.5L221.8 1923.6L224.8 1924L229.8 1923.9L232.8 1924.5L234.8 1924.6L240.8 1926.1L245.8 1928.7L247.8 1930.2L251.8 1934.1L254.8 1938L259.8 1946.3L265.8 1959.2L271.8 1974.2L289.8 2021.8L294.8 2034.2L301.8 2049.7L306.8 2059.4L311.8 2067.1L313.8 2069.5L316.8 2072.2L319.8 2073.8L321.8 2074.3L323.8 2074.4L325.8 2073.7L328.8 2073.1L332.8 2071.1L341.8 2065.7L345.8 2063.7L350.8 2062.5L353.8 2062.6L355.8 2063.1L358.8 2064.5L363.8 2068L368.8 2072.5L379.8 2083.3L391.8 2093.8L398.8 2098.7L407.8 2101.9L414.8 2103.1L426.8 2103.7L435.8 2105.6L454.8 2105.5L464.8 2107.1L472.8 2107.8L494.8 2108.7L524.8 2108.9L549.8 2107L557.8 2106L566.8 2104L581.8 2099.3L591.8 2095L605.8 2088.1L618.8 2080.4L625.8 2074.6L633.6 2067.2L633.6 2096.2L618.8 2100.2L613.8 2102.3L609.8 2103.5L598.8 2106.5L587.8 2108.5L572.8 2110.7L537.8 2113.8L506.8 2113.8L486.8 2112.8L468.8 2112.4L462.8 2112.7L454.8 2113.7L436.8 2113.5L425.8 2115.8L418.8 2115.7L407.8 2115L405.8 2115.2L398.8 2114.3L394.8 2114.6L386.8 2113.6L383.8 2112.9L378.8 2110.8L375.8 2109.1L371.8 2106.2L362.8 2098.8L357.8 2095.5L353.8 2094L349.8 2093.3L347.8 2093.3L341.8 2094.2L328.8 2098L325.8 2099.2L323.8 2099.3L314.8 2101.4L308.8 2101.5L305.8 2101.2L301.8 2099.9L297.8 2097.4L293.8 2093.5L289.8 2088.4L283.8 2079.3L279.8 2072.3L265.8 2045L261.8 2037.9L257.8 2032.1L253.8 2028.1L249.8 2025.8L243.8 2024.3L237.8 2024.2L234.8 2024.6L232.8 2024.4L229.8 2024.6L224.8 2023.8L221.8 2023.7L216.8 2023.1L201.8 2020.2L191.8 2019.7L185.8 2020.2L179.8 2021.4L170.8 2024.7L166.8 2026.7L163.8 2028.7L160.8 2031.5L157.8 2035.1L153.8 2041.9L150.8 2048.8L146.8 2060.1L136.8 2091L133.8 2098.8L130.8 2104.9Z" fill="#f3a885"/>
<path d="M130.8 2110.4L139.8 2107.8L150.8 2103.1L153.8 2101.4L160.8 2096.4L166.8 2091.5L171.8 2086.7L176.8 2081.1L181.8 2074.8L186.8 2067.6L196.8 2050.9L205.8 2033.8L226.8 1991.6L236.8 1974.1L241.8 1966.9L247.8 1960L250.8 1957.6L252.8 1956.6L255.8 1955.5L257.8 1955.3L259.8 1955.8L262.8 1957.8L265.8 1961.1L267.8 1964.5L274.8 1978.9L279.8 1992.2L293.8 2025.4L310.8 2064L313.8 2070L316.8 2074.5L324.8 2082.2L326.8 2082.2L328.8 2081.7L334.8 2078.7L340.8 2076.7L346.8 2073.4L350.8 2072.1L355.8 2071.2L360.8 2072L363.8 2073L367.8 2074.9L373.8 2079.1L378.8 2083.8L390.8 2096.9L394.8 2100.5L398.8 2103L406.8 2107L409.8 2107.8L413.8 2108.4L422.8 2108.8L428.8 2109.7L438.8 2109.5L453.8 2108.4L468.8 2109L526.8 2105.7L549.8 2104.9L569.8 2104.7L590.8 2105.2L607.8 2106.2L624.8 2107.7L633.6 2109.5L633.6 2115.9L624.8 2115L607.8 2112.7L591.8 2111.3L571.8 2110.5L551.8 2110.3L520.8 2111L474.8 2113.1L464.8 2113.9L453.8 2115.6L433.8 2115.8L428.8 2116L421.8 2117.1L414.8 2117.1L402.8 2116.3L400.8 2115.8L382.8 2108.5L364.8 2099.8L359.8 2098.6L352.8 2098L348.8 2098.4L342.8 2100.3L339.8 2101.9L334.8 2105.5L333.8 2105.8L329.8 2106.6L324.8 2106.5L321.8 2107.6L319.8 2107.8L311.8 2102.9L308.8 2100.5L303.8 2095.3L300.8 2091.5L291.8 2078.6L286.8 2070.5L274.8 2047.5L270.8 2038.7L267.8 2033.8L263.8 2028.2L261.8 2026.3L259.8 2025.2L256.8 2024.6L254.8 2025L252.8 2026L250.8 2027.6L247.8 2030.9L243.8 2035.9L227.8 2059.1L210.8 2081.3L203.8 2089.7L196.8 2097.5L190.8 2103.3L185.8 2107.4L177.8 2112.2L172.8 2113.9L167.8 2115L163.8 2115.6L157.8 2115.9L151.8 2115.4L145.8 2115.9L139.8 2115.6L130.8 2116.8Z" fill="#5c76b2"/>
<path d="M130.8 2110.4L139.8 2107.8L150.8 2103.1L153.8 2101.4L160.8 2096.4L166.8 2091.5L171.8 2086.7L176.8 2081.1L181.8 2074.8L186.8 2067.6L196.8 2050.9L205.8 2033.8L226.8 1991.6L236.8 1974.1L241.8 1966.9L247.8 1960L250.8 1957.6L252.8 1956.6L255.8 1955.5L257.8 1955.3L259.8 1955.8L262.8 1957.8L265.8 1961.1L267.8 1964.5L274.8 1978.9L279.8 1992.2L293.8 2025.4L310.8 2064L313.8 2070L316.8 2074.5L324.8 2082.2L326.8 2082.2L328.8 2081.7L334.8 2078.7L340.8 2076.7L346.8 2073.4L350.8 2072.1L355.8 2071.2L360.8 2072L363.8 2073L367.8 2074.9L373.8 2079.1L378.8 2083.8L390.8 2096.9L394.8 2100.5L398.8 2103L406.8 2107L409.8 2107.8L413.8 2108.4L422.8 2108.8L428.8 2109.7L438.8 2109.5L453.8 2108.4L468.8 2109L526.8 2105.7L549.8 2104.9L569.8 2104.7L590.8 2105.2L607.8 2106.2L624.8 2107.7L633.6 2109.5L633.6 2115.9L624.8 2115L607.8 2112.7L591.8 2111.3L571.8 2110.5L551.8 2110.3L520.8 2111L474.8 2113.1L464.8 2113.9L453.8 2115.6L433.8 2115.8L428.8 2116L421.8 2117.1L414.8 2117.1L402.8 2116.3L400.8 2115.8L382.8 2108.5L364.8 2099.8L359.8 2098.6L352.8 2098L348.8 2098.4L342.8 2100.3L339.8 2101.9L334.8 2105.5L333.8 2105.8L329.8 2106.6L324.8 2106.5L321.8 2107.6L319.8 2107.8L311.8 2102.9L308.8 2100.5L303.8 2095.3L300.8 2091.5L291.8 2078.6L286.8 2070.5L274.8 2047.5L270.8 2038.7L267.8 2033.8L263.8 2028.2L261.8 2026.3L259.8 2025.2L256.8 2024.6L254.8 2025L252.8 2026L250.8 2027.6L247.8 2030.9L243.8 2035.9L227.8 2059.1L210.8 2081.3L203.8 2089.7L196.8 2097.5L190.8 2103.3L185.8 2107.4L177.8 2112.2L172.8 2113.9L167.8 2115L163.8 2115.6L157.8 2115.9L151.8 2115.4L145.8 2115.9L139.8 2115.6L130.8 2116.8Z" fill="#aa6478" clip-path="url(#c9)"/>
<path d="M130.8 2082.9L135.8 2066.6L145.8 2025.7L149.8 2010.6L153.8 1998.4L155.8 1993.8L158.8 1988.4L161.8 1984.5L164.8 1981.8L168.8 1979.4L174.8 1976.8L180.8 1975L187.8 1973.6L194.8 1972.8L201.8 1972.6L213.8 1973.1L240.8 1975.2L243.8 1976L246.8 1977.2L249.8 1978.9L252.8 1981.4L255.8 1984.7L257.8 1987.4L262.8 1996L267.8 2006.5L284.8 2044.9L290.8 2057L295.8 2066L301.8 2074.8L306.8 2080.4L311.8 2084.3L316.8 2086.5L320.8 2087.1L325.8 2086.5L330.8 2084.8L340.8 2080.3L344.8 2078.9L348.8 2078.1L352.8 2078.1L356.8 2079.3L360.8 2081.5L364.8 2084.6L376.8 2095.1L384.8 2100.5L389.8 2103.1L394.8 2105.2L399.8 2106.8L404.8 2108L412.8 2109.1L420.8 2109.6L453.8 2109.6L502.8 2111.1L523.8 2111.3L540.8 2110.6L555.8 2109.2L569.8 2107L583.8 2103.8L596.8 2099.8L609.8 2094.6L621.8 2088.7L633.6 2081.7" fill="none" stroke="#e42d18" stroke-width="1.5" stroke-linejoin="round"/>
<path d="M130.8 2113.6L150.8 2109.3L156.8 2107.5L161.8 2105.7L167.8 2102.8L172.8 2099.8L177.8 2096L181.8 2092.4L185.8 2088.2L190.8 2082.3L199.8 2069.8L208.8 2055.8L231.8 2017.9L242.8 2001.5L246.8 1996.5L250.8 1992.6L253.8 1990.8L256.8 1990L259.8 1990.5L261.8 1991.6L264.8 1994.7L267.8 1999.1L272.8 2008.8L282.8 2031.1L289.8 2045.6L299.8 2064.6L307.8 2078.5L311.8 2084.5L315.8 2089.3L319.8 2092.6L322.8 2093.9L326.8 2094.4L330.8 2093.7L334.8 2092.1L344.8 2087L349.8 2085.3L354.8 2084.7L359.8 2085.1L364.8 2086.6L370.8 2089.7L376.8 2093.7L390.8 2104.3L397.8 2108.6L401.8 2110.3L405.8 2111.5L409.8 2112.3L414.8 2112.8L422.8 2112.9L442.8 2112.4L523.8 2108.4L560.8 2107.5L580.8 2107.8L598.8 2108.7L616.8 2110.4L633.6 2112.7" fill="none" stroke="#1753a6" stroke-width="1.5" stroke-linejoin="round"/>
<path d="M130.8 1763.7 L130.8 2115 L633.6 2115" fill="none" stroke="#1a1a1a" stroke-width="1.3"/>
<line x1="130.8" y1="1763.7" x2="147.8" y2="1763.7" stroke="#2a2a2a" stroke-width="1.5" />
<line x1="130.8" y1="1822.2" x2="147.8" y2="1822.2" stroke="#2a2a2a" stroke-width="1.5" />
<line x1="130.8" y1="1880.8" x2="147.8" y2="1880.8" stroke="#2a2a2a" stroke-width="1.5" />
<line x1="130.8" y1="1939.3" x2="147.8" y2="1939.3" stroke="#2a2a2a" stroke-width="1.5" />
<line x1="130.8" y1="1997.9" x2="147.8" y2="1997.9" stroke="#2a2a2a" stroke-width="1.5" />
<line x1="130.8" y1="2056.4" x2="147.8" y2="2056.4" stroke="#2a2a2a" stroke-width="1.5" />
<line x1="231.3" y1="2115" x2="231.3" y2="2098" stroke="#2a2a2a" stroke-width="1.5" />
<line x1="331.9" y1="2115" x2="331.9" y2="2098" stroke="#2a2a2a" stroke-width="1.5" />
<line x1="432.5" y1="2115" x2="432.5" y2="2098" stroke="#2a2a2a" stroke-width="1.5" />
<line x1="533" y1="2115" x2="533" y2="2098" stroke="#2a2a2a" stroke-width="1.5" />
<line x1="633.6" y1="2115" x2="633.6" y2="2098" stroke="#2a2a2a" stroke-width="1.5" />
<path d="M792 2057.1L798 2035.2L803 2018.9L806 2010.7L809 2003.6L812 1997.7L814 1994.5L816 1992.8L819 1988.4L820 1987.9L821 1986.6L824 1984.3L829 1981.4L834 1977.2L838 1973.1L841 1969L844 1964L848 1956.1L865 1916.1L870 1905.7L873 1900.3L878 1892.2L882 1887.2L886 1883.9L888 1883.1L890 1882.7L892 1883L895 1884.4L897 1886L900 1889.4L905 1897.4L910 1908L915 1921L921 1939.1L941 2008.8L945 2021.7L950 2036L955 2048.5L958 2054.8L961 2060.2L963 2063.2L966 2066.7L968 2068.5L970 2069.5L972 2070L974 2069.7L977 2068.2L980 2065.2L984 2059.3L1002 2024.9L1006 2018.5L1011 2012L1016 2006.7L1020 2003.5L1022 2002.5L1024 2001.8L1029 2002.3L1032 2003.8L1036 2006.9L1040 2010.7L1046 2017.3L1060 2034.9L1065 2040.5L1071 2045.8L1075 2048.4L1080 2051L1084 2052.4L1090 2054L1095 2056.6L1115 2061.3L1125 2065.6L1135 2067.4L1145 2069.9L1165 2072.6L1185 2076.3L1205 2083.2L1223 2090.7L1230 2092.7L1240 2096.2L1246 2096.3L1252 2097L1256 2097L1266 2093.5L1269 2092.2L1277 2086.1L1282 2081.2L1286 2076.4L1294.6 2064L1294.6 2096.1L1289 2101.1L1279 2107L1273 2109.8L1269 2110.5L1262 2112.6L1256 2112.6L1246 2113.8L1240 2112.7L1230 2112.4L1223 2110.9L1214 2109.6L1194 2105.8L1185 2105.1L1175 2103.7L1165 2103.3L1144 2101.4L1135 2100.9L1125 2098.7L1115 2098.6L1095 2094.3L1090 2094.9L1078 2094L1074 2093.4L1067 2090.9L1058 2085.9L1052 2081.7L1041 2072.6L1037 2070.1L1032 2068.2L1030 2067.7L1026 2067.5L1018 2070L1015 2071.7L1012 2073.8L1009 2076.6L999 2087.2L995 2092.3L988 2099.8L985 2102.5L975 2110.4L971 2112.1L968 2112.9L965 2113.2L963 2112.7L960 2111.6L958 2110.4L956 2108.8L953 2105.7L949 2100.3L944 2091.3L940 2082.6L936 2072.9L917 2023.2L912 2012.1L908 2004.7L903 1997.4L898 1992.2L895 1990.1L893 1989.1L890 1988.2L888 1988.2L886 1988.5L883 1989.6L879 1992.4L875 1996.8L871 2002.6L867 2009.8L863 2018.3L845 2060L840 2070.8L835 2079.7L831 2085.2L825 2090.8L822 2092.5L821 2092.8L820 2092.7L819 2093.5L816 2092.8L814 2093.9L813 2093.9L807 2092.5L803 2092.2L799 2092.8L797 2093.9L795 2095.7L794 2096.9L792 2100.7Z" fill="#f3a885"/>
<path d="M792 2079.6L795 2082.2L798 2083.8L800 2084.2L802 2084L803 2083.5L805 2081.8L806 2080.5L809 2074.2L810 2071.3L812 2063.9L815 2048.7L826 1978.2L831 1958.1L838 1940.2L846 1916.8L856 1883.5L873 1821.4L881 1794.2L885 1783.4L888 1777.1L891 1773.3L893 1772.3L894 1772.3L895 1772.6L897 1774.1L899 1776.7L901 1780.4L904 1787.6L909 1803.4L918 1839.3L932 1904.1L950 1993L959 2031.9L964 2050.3L968 2062.2L969 2064.6L971 2067.8L977 2074.8L978 2075.5L979 2075.8L982 2074L985 2071L989 2065.5L993 2057.5L1005 2028.7L1009 2020.9L1012 2016.1L1016 2011.1L1019 2008.5L1022 2007.1L1025 2006.7L1028 2006.9L1031 2008L1037 2012.5L1045 2020.3L1050 2026.2L1053 2029.2L1065 2039.3L1073 2044.1L1078 2046.2L1082 2047.4L1098 2050.5L1105 2050.6L1112 2051.3L1133 2051.4L1142 2052.2L1150 2052.3L1175 2055L1183 2057.3L1192 2058.5L1200 2061.5L1207 2063.2L1220 2067L1230 2069.2L1240 2070.4L1249 2069.9L1257 2068.6L1267 2066.1L1278 2061.1L1282 2060.7L1285 2061.6L1288 2063.8L1291 2067.3L1294.6 2073.4L1294.6 2101L1292 2097L1289 2093.9L1287 2092.6L1285 2091.8L1281 2091.2L1275 2091.7L1268 2093.3L1260 2095.8L1245 2098.1L1223 2100.2L1208 2100.7L1200 2100L1192 2100.1L1183 2098L1175 2097.3L1168 2095.5L1159 2094L1143 2092.3L1125 2093.5L1105 2095.4L1088 2094L1080 2091.2L1073 2088.2L1067 2085L1061 2081.3L1055 2076.1L1045 2066L1039 2059.5L1035 2055.8L1029 2052.6L1025 2051.9L1022 2052.5L1018 2054.8L1015 2057.6L1012 2061.7L1008 2069.3L996 2097.3L992 2104.7L988 2110.3L986 2112.2L983 2113.5L981 2113.5L979 2112.8L974 2113.2L966 2104.7L963 2100.9L959 2094.2L956 2088.1L948 2067.7L923 1996.3L921 1991.5L914 1977.1L910 1970.7L905 1964.2L900 1960.3L897 1959.2L895 1959.1L892 1959.8L889 1961.8L885 1966L882 1970.5L876 1982.7L861 2020.2L855 2032.6L849 2043.7L842 2053.7L832 2067.2L829 2070.4L824 2083.1L821 2089.7L819 2095.4L816 2102L814 2105.1L808 2109.2L807 2109.5L803 2109.1L801 2108.4L798 2106.3L792 2100.2Z" fill="#5c76b2"/>
<path d="M792 2079.6L795 2082.2L798 2083.8L800 2084.2L802 2084L803 2083.5L805 2081.8L806 2080.5L809 2074.2L810 2071.3L812 2063.9L815 2048.7L826 1978.2L831 1958.1L838 1940.2L846 1916.8L856 1883.5L873 1821.4L881 1794.2L885 1783.4L888 1777.1L891 1773.3L893 1772.3L894 1772.3L895 1772.6L897 1774.1L899 1776.7L901 1780.4L904 1787.6L909 1803.4L918 1839.3L932 1904.1L950 1993L959 2031.9L964 2050.3L968 2062.2L969 2064.6L971 2067.8L977 2074.8L978 2075.5L979 2075.8L982 2074L985 2071L989 2065.5L993 2057.5L1005 2028.7L1009 2020.9L1012 2016.1L1016 2011.1L1019 2008.5L1022 2007.1L1025 2006.7L1028 2006.9L1031 2008L1037 2012.5L1045 2020.3L1050 2026.2L1053 2029.2L1065 2039.3L1073 2044.1L1078 2046.2L1082 2047.4L1098 2050.5L1105 2050.6L1112 2051.3L1133 2051.4L1142 2052.2L1150 2052.3L1175 2055L1183 2057.3L1192 2058.5L1200 2061.5L1207 2063.2L1220 2067L1230 2069.2L1240 2070.4L1249 2069.9L1257 2068.6L1267 2066.1L1278 2061.1L1282 2060.7L1285 2061.6L1288 2063.8L1291 2067.3L1294.6 2073.4L1294.6 2101L1292 2097L1289 2093.9L1287 2092.6L1285 2091.8L1281 2091.2L1275 2091.7L1268 2093.3L1260 2095.8L1245 2098.1L1223 2100.2L1208 2100.7L1200 2100L1192 2100.1L1183 2098L1175 2097.3L1168 2095.5L1159 2094L1143 2092.3L1125 2093.5L1105 2095.4L1088 2094L1080 2091.2L1073 2088.2L1067 2085L1061 2081.3L1055 2076.1L1045 2066L1039 2059.5L1035 2055.8L1029 2052.6L1025 2051.9L1022 2052.5L1018 2054.8L1015 2057.6L1012 2061.7L1008 2069.3L996 2097.3L992 2104.7L988 2110.3L986 2112.2L983 2113.5L981 2113.5L979 2112.8L974 2113.2L966 2104.7L963 2100.9L959 2094.2L956 2088.1L948 2067.7L923 1996.3L921 1991.5L914 1977.1L910 1970.7L905 1964.2L900 1960.3L897 1959.2L895 1959.1L892 1959.8L889 1961.8L885 1966L882 1970.5L876 1982.7L861 2020.2L855 2032.6L849 2043.7L842 2053.7L832 2067.2L829 2070.4L824 2083.1L821 2089.7L819 2095.4L816 2102L814 2105.1L808 2109.2L807 2109.5L803 2109.1L801 2108.4L798 2106.3L792 2100.2Z" fill="#aa6478" clip-path="url(#c10)"/>
<path d="M792 2078.9L795 2070.9L799 2062.2L802 2057.1L806 2051.6L809 2048.4L813 2045L825 2037.2L829 2034.2L833 2030.3L837 2025.3L841 2018.8L845 2011L864 1967.2L868 1958.9L872 1951.5L877 1944L881 1939.6L884 1937.2L886 1936.2L888 1935.6L890 1935.5L892 1935.8L894 1936.7L896 1937.9L899 1940.6L904 1947.1L909 1956.1L914 1967.3L919 1980.5L939 2041.1L943 2052.3L947 2062.3L952 2072.9L957 2081.2L962 2087.1L965 2089.4L967 2090.4L970 2091L973 2090.6L976 2089.1L979 2086.8L982 2083.7L986 2078.7L1002 2054.6L1006 2049.2L1010 2044.4L1014 2040.5L1018 2037.5L1022 2035.5L1026 2034.8L1028 2034.9L1031 2035.6L1034 2037L1037 2039L1043 2044.1L1056 2057.2L1063 2063.6L1070 2068.6L1073 2070.2L1077 2071.7L1136 2084.3L1148 2086.1L1175 2089.1L1188 2091.2L1199 2093.9L1225 2101.4L1237 2104L1246 2105.1L1254 2105L1262 2103.7L1269 2101.3L1276 2097.7L1282 2093.3L1288 2087.7L1294.6 2080" fill="none" stroke="#e42d18" stroke-width="1.5" stroke-linejoin="round"/>
<path d="M792 2089.9L795 2092.8L798 2095.1L801 2096.3L803 2096.3L805 2095.6L807 2094L809 2091.3L811 2087.5L814 2079.5L816 2072.4L825 2032.2L827 2024.5L829 2018.3L832 2011.2L838 1999.6L843 1989.1L852 1967.5L862 1939.9L876 1896.8L882 1881L885 1874.7L888 1869.9L891 1866.8L893 1865.9L894 1865.7L896 1866.1L898 1867.4L900 1869.4L902 1872.1L904 1875.5L907 1881.6L912 1894.3L918 1912.5L925 1936.6L948 2025.6L957 2057L962 2071.4L967 2082.6L971 2089L973 2091.2L976 2093.5L979 2094.3L982 2093.8L985 2091.9L988 2088.7L991 2084L994 2078.2L1006 2050.3L1011 2040.5L1014 2036.1L1018 2032L1021 2030.2L1023 2029.5L1025 2029.3L1027 2029.4L1030 2030.3L1033 2031.9L1036 2034.2L1041 2038.9L1055 2053.6L1060 2057.9L1065 2061.6L1070 2064.6L1076 2067.5L1082 2069.7L1088 2071.2L1096 2072.5L1104 2073L1113 2073L1137 2072.2L1152 2072.9L1169 2075.1L1210 2082.4L1222 2083.8L1232 2084.4L1243 2084.3L1254 2083L1264 2080.7L1277 2076.4L1280 2076L1282 2076L1284 2076.4L1286 2077.2L1289 2079.3L1292 2082.9L1294.6 2087.2" fill="none" stroke="#1753a6" stroke-width="1.5" stroke-linejoin="round"/>
<path d="M792 1763.7 L792 2115 L1294.6 2115" fill="none" stroke="#1a1a1a" stroke-width="1.3"/>
<line x1="792" y1="1763.7" x2="809" y2="1763.7" stroke="#2a2a2a" stroke-width="1.5" />
<line x1="792" y1="1822.2" x2="809" y2="1822.2" stroke="#2a2a2a" stroke-width="1.5" />
<line x1="792" y1="1880.8" x2="809" y2="1880.8" stroke="#2a2a2a" stroke-width="1.5" />
<line x1="792" y1="1939.3" x2="809" y2="1939.3" stroke="#2a2a2a" stroke-width="1.5" />
<line x1="792" y1="1997.9" x2="809" y2="1997.9" stroke="#2a2a2a" stroke-width="1.5" />
<line x1="792" y1="2056.4" x2="809" y2="2056.4" stroke="#2a2a2a" stroke-width="1.5" />
<line x1="892.5" y1="2115" x2="892.5" y2="2098" stroke="#2a2a2a" stroke-width="1.5" />
<line x1="993" y1="2115" x2="993" y2="2098" stroke="#2a2a2a" stroke-width="1.5" />
<line x1="1093.6" y1="2115" x2="1093.6" y2="2098" stroke="#2a2a2a" stroke-width="1.5" />
<line x1="1194.1" y1="2115" x2="1194.1" y2="2098" stroke="#2a2a2a" stroke-width="1.5" />
<line x1="1294.6" y1="2115" x2="1294.6" y2="2098" stroke="#2a2a2a" stroke-width="1.5" />
<path d="M130.8 42.6 L214 42.6 L214 52.6" fill="none" stroke="#1a1a1a" stroke-width="1.4" stroke-linejoin="round"/>
<path d="M175.8 25.1 L187.7 26.4 L187.7 21.9 L175.8 23.3ZM176.6 24.6 L183.7 15 L179.8 12.8 L175 23.8ZM176.6 23.8 L171.8 12.8 L167.9 15 L175 24.6ZM175.8 23.3 L163.9 21.9 L163.9 26.4 L175.8 25.1ZM175 23.8 L167.9 33.4 L171.8 35.6 L176.6 24.6ZM175 24.6 L179.8 35.6 L183.7 33.4 L176.6 23.8Z" fill="#0a0a0a"/>
<path d="M588.7 52.6 L588.7 42.6 L633.6 42.6 " fill="none" stroke="#1a1a1a" stroke-width="1.4" stroke-linejoin="round"/>
<path d="M918 52.6 L918 42.6 L960.8 42.6 L960.8 52.6" fill="none" stroke="#1a1a1a" stroke-width="1.4" stroke-linejoin="round"/>
<path d="M939.1 25.1 L951 26.4 L951 21.9 L939.1 23.3ZM939.9 24.6 L947 15 L943.1 12.8 L938.3 23.8ZM939.9 23.8 L935.1 12.8 L931.2 15 L938.3 24.6ZM939.1 23.3 L927.2 21.9 L927.2 26.4 L939.1 25.1ZM938.3 23.8 L931.2 33.4 L935.1 35.6 L939.9 24.6ZM938.3 24.6 L943.1 35.6 L947 33.4 L939.9 23.8Z" fill="#0a0a0a"/>
<path d="M1198.6 52.6 L1198.6 42.6 L1240.4 42.6 L1240.4 52.6" fill="none" stroke="#1a1a1a" stroke-width="1.4" stroke-linejoin="round"/>
<path d="M1219.8 25.1 L1231.7 26.4 L1231.7 21.9 L1219.8 23.3ZM1220.6 24.6 L1227.7 15 L1223.8 12.8 L1219 23.8ZM1220.6 23.8 L1215.8 12.8 L1211.9 15 L1219 24.6ZM1219.8 23.3 L1207.9 21.9 L1207.9 26.4 L1219.8 25.1ZM1219 23.8 L1211.9 33.4 L1215.8 35.6 L1220.6 24.6ZM1219 24.6 L1223.8 35.6 L1227.7 33.4 L1220.6 23.8Z" fill="#0a0a0a"/>
<path d="M130.8 472.9 L333 472.9 L333 482.9" fill="none" stroke="#1a1a1a" stroke-width="1.4" stroke-linejoin="round"/>
<path d="M231.6 453.1 L243.5 454.4 L243.5 449.9 L231.6 451.3ZM232.4 452.6 L239.5 443 L235.6 440.8 L230.8 451.8ZM232.4 451.8 L227.6 440.8 L223.7 443 L230.8 452.6ZM231.6 451.3 L219.7 449.9 L219.7 454.4 L231.6 453.1ZM230.8 451.8 L223.7 461.4 L227.6 463.6 L232.4 452.6ZM230.8 452.6 L235.6 463.6 L239.5 461.4 L232.4 451.8Z" fill="#0a0a0a"/>
<path d="M530.1 482.9 L530.1 472.9 L633.6 472.9 " fill="none" stroke="#1a1a1a" stroke-width="1.4" stroke-linejoin="round"/>
<path d="M792 472.9 L815.8 472.9 L815.8 482.9" fill="none" stroke="#1a1a1a" stroke-width="1.4" stroke-linejoin="round"/>
<path d="M942.5 482.9 L942.5 472.9 L983.3 472.9 L983.3 482.9" fill="none" stroke="#1a1a1a" stroke-width="1.4" stroke-linejoin="round"/>
<path d="M963.6 453.1 L975.5 454.4 L975.5 449.9 L963.6 451.3ZM964.4 452.6 L971.5 443 L967.6 440.8 L962.8 451.8ZM964.4 451.8 L959.6 440.8 L955.7 443 L962.8 452.6ZM963.6 451.3 L951.7 449.9 L951.7 454.4 L963.6 453.1ZM962.8 451.8 L955.7 461.4 L959.6 463.6 L964.4 452.6ZM962.8 452.6 L967.6 463.6 L971.5 461.4 L964.4 451.8Z" fill="#0a0a0a"/>
<path d="M1180 482.9 L1180 472.9 L1294.6 472.9 " fill="none" stroke="#1a1a1a" stroke-width="1.4" stroke-linejoin="round"/>
<path d="M1241.2 453.1 L1253.1 454.4 L1253.1 449.9 L1241.2 451.3ZM1242 452.6 L1249.1 443 L1245.2 440.8 L1240.4 451.8ZM1242 451.8 L1237.2 440.8 L1233.3 443 L1240.4 452.6ZM1241.2 451.3 L1229.3 449.9 L1229.3 454.4 L1241.2 453.1ZM1240.4 451.8 L1233.3 461.4 L1237.2 463.6 L1242 452.6ZM1240.4 452.6 L1245.2 463.6 L1249.1 461.4 L1242 451.8Z" fill="#0a0a0a"/>
<path d="M133.8 914.3 L133.8 904.3 L174.5 904.3 L174.5 914.3" fill="none" stroke="#1a1a1a" stroke-width="1.4" stroke-linejoin="round"/>
<path d="M154.5 887.2 L166.4 888.5 L166.4 884 L154.5 885.4ZM155.3 886.8 L162.4 877.1 L158.5 874.9 L153.7 885.8ZM155.3 885.8 L150.5 874.9 L146.6 877.1 L153.7 886.8ZM154.5 885.4 L142.6 884 L142.6 888.5 L154.5 887.2ZM153.7 885.8 L146.6 895.5 L150.5 897.7 L155.3 886.8ZM153.7 886.8 L158.5 897.7 L162.4 895.5 L155.3 885.8Z" fill="#0a0a0a"/>
<path d="M513.4 914.3 L513.4 904.3 L529.1 904.3 L529.1 914.3" fill="none" stroke="#1a1a1a" stroke-width="1.4" stroke-linejoin="round"/>
<path d="M521.1 887.2 L533 888.5 L533 884 L521.1 885.4ZM521.9 886.8 L529 877.1 L525.1 874.9 L520.3 885.8ZM521.9 885.8 L517.1 874.9 L513.2 877.1 L520.3 886.8ZM521.1 885.4 L509.2 884 L509.2 888.5 L521.1 887.2ZM520.3 885.8 L513.2 895.5 L517.1 897.7 L521.9 886.8ZM520.3 886.8 L525.1 897.7 L529 895.5 L521.9 885.8Z" fill="#0a0a0a"/>
<path d="M575.2 914.3 L575.2 904.3 L631.4 904.3 L631.4 914.3" fill="none" stroke="#1a1a1a" stroke-width="1.4" stroke-linejoin="round"/>
<path d="M603.2 887.2 L615.1 888.5 L615.1 884 L603.2 885.4ZM604 886.8 L611.1 877.1 L607.2 874.9 L602.4 885.8ZM604 885.8 L599.2 874.9 L595.3 877.1 L602.4 886.8ZM603.2 885.4 L591.3 884 L591.3 888.5 L603.2 887.2ZM602.4 885.8 L595.3 895.5 L599.2 897.7 L604 886.8ZM602.4 886.8 L607.2 897.7 L611.1 895.5 L604 885.8Z" fill="#0a0a0a"/>
<path d="M794 914.3 L794 904.3 L827.7 904.3 L827.7 914.3" fill="none" stroke="#1a1a1a" stroke-width="1.4" stroke-linejoin="round"/>
<path d="M811 887.2 L822.9 888.5 L822.9 884 L811 885.4ZM811.8 886.8 L818.9 877.1 L815 874.9 L810.2 885.8ZM811.8 885.8 L807 874.9 L803.1 877.1 L810.2 886.8ZM811 885.4 L799.1 884 L799.1 888.5 L811 887.2ZM810.2 885.8 L803.1 895.5 L807 897.7 L811.8 886.8ZM810.2 886.8 L815 897.7 L818.9 895.5 L811.8 885.8Z" fill="#0a0a0a"/>
<path d="M913.7 914.3 L913.7 904.3 L947.6 904.3 L947.6 914.3" fill="none" stroke="#1a1a1a" stroke-width="1.4" stroke-linejoin="round"/>
<path d="M930.2 887.2 L942.1 888.5 L942.1 884 L930.2 885.4ZM931 886.8 L938.1 877.1 L934.2 874.9 L929.4 885.8ZM931 885.8 L926.2 874.9 L922.3 877.1 L929.4 886.8ZM930.2 885.4 L918.3 884 L918.3 888.5 L930.2 887.2ZM929.4 885.8 L922.3 895.5 L926.2 897.7 L931 886.8ZM929.4 886.8 L934.2 897.7 L938.1 895.5 L931 885.8Z" fill="#0a0a0a"/>
<path d="M1223.4 914.3 L1223.4 904.3 L1288.5 904.3 L1288.5 914.3" fill="none" stroke="#1a1a1a" stroke-width="1.4" stroke-linejoin="round"/>
<path d="M1256.1 887.2 L1268 888.5 L1268 884 L1256.1 885.4ZM1256.9 886.8 L1264 877.1 L1260.1 874.9 L1255.3 885.8ZM1256.9 885.8 L1252.1 874.9 L1248.2 877.1 L1255.3 886.8ZM1256.1 885.4 L1244.2 884 L1244.2 888.5 L1256.1 887.2ZM1255.3 885.8 L1248.2 895.5 L1252.1 897.7 L1256.9 886.8ZM1255.3 886.8 L1260.1 897.7 L1264 895.5 L1256.9 885.8Z" fill="#0a0a0a"/>
<line x1="1132.5" y1="2095.5" x2="1148.8" y2="2095.5" stroke="#222" stroke-width="1.5" />
<rect x="1023" y="117.5" width="62" height="35.2" fill="#5c76b2"/>
<line x1="1023" y1="134.9" x2="1085" y2="134.9" stroke="#1753a6" stroke-width="2.6" />
<rect x="1023" y="167.5" width="62" height="35.5" fill="#f3a885"/>
<line x1="1023" y1="185.4" x2="1085" y2="185.4" stroke="#e42d18" stroke-width="2.6" />
<text x="221.3" y="24.7" font-size="33" textLength="320.9" lengthAdjust="spacingAndGlyphs">Medial Gastrocnemius</text>
<text x="995.4" y="24.9" font-size="33" textLength="96.3" lengthAdjust="spacingAndGlyphs">Soleus</text>
<text x="1094.8" y="145" font-size="33" textLength="243.6" lengthAdjust="spacingAndGlyphs">Rearfoot Striking</text>
<text x="1094.8" y="200.2" font-size="33" textLength="240.7" lengthAdjust="spacingAndGlyphs">Forefoot Striking</text>
<text x="106.6" y="30.1" font-size="33" textLength="12.3" lengthAdjust="spacingAndGlyphs">1</text>
<text x="767.8" y="30.1" font-size="33" textLength="11.8" lengthAdjust="spacingAndGlyphs">1</text>
<text x="104.4" y="379.8" font-size="33" textLength="19.5" lengthAdjust="spacingAndGlyphs">0</text>
<text x="766.1" y="379.8" font-size="33" textLength="18.4" lengthAdjust="spacingAndGlyphs">0</text>
<text x="80.6" y="463.5" font-size="33" textLength="42.6" lengthAdjust="spacingAndGlyphs">1.4</text>
<text x="742.1" y="463.5" font-size="33" textLength="42.6" lengthAdjust="spacingAndGlyphs">1.4</text>
<text x="79.3" y="817" font-size="33" textLength="43.4" lengthAdjust="spacingAndGlyphs">0.2</text>
<text x="740.8" y="817" font-size="33" textLength="43.4" lengthAdjust="spacingAndGlyphs">0.2</text>
<text x="106.2" y="902.5" font-size="33" textLength="13" lengthAdjust="spacingAndGlyphs">1</text>
<text x="767.9" y="902.5" font-size="33" textLength="12.6" lengthAdjust="spacingAndGlyphs">1</text>
<text x="93.8" y="1253.5" font-size="33" textLength="25.6" lengthAdjust="spacingAndGlyphs">-1</text>
<text x="755.4" y="1253.5" font-size="33" textLength="24.3" lengthAdjust="spacingAndGlyphs">-1</text>
<text x="80.6" y="1338.1" font-size="33" textLength="42.6" lengthAdjust="spacingAndGlyphs">1.4</text>
<text x="742.1" y="1338.1" font-size="33" textLength="42.6" lengthAdjust="spacingAndGlyphs">1.4</text>
<text x="68.1" y="1689.1" font-size="33" textLength="55" lengthAdjust="spacingAndGlyphs">-0.2</text>
<text x="729.6" y="1689.1" font-size="33" textLength="55" lengthAdjust="spacingAndGlyphs">-0.2</text>
<text x="85.8" y="1774" font-size="33" textLength="37.7" lengthAdjust="spacingAndGlyphs">60</text>
<text x="747.3" y="1774" font-size="33" textLength="36.6" lengthAdjust="spacingAndGlyphs">60</text>
<text x="104.4" y="2126" font-size="33" textLength="19.5" lengthAdjust="spacingAndGlyphs">0</text>
<text x="766.1" y="2126" font-size="33" textLength="18.4" lengthAdjust="spacingAndGlyphs">0</text>
<text x="121.8" y="2163.7" font-size="33" textLength="19" lengthAdjust="spacingAndGlyphs">0</text>
<text x="790.5" y="2163.7" font-size="33" textLength="20.1" lengthAdjust="spacingAndGlyphs">0</text>
<text x="212.7" y="2163.7" font-size="33" textLength="37.9" lengthAdjust="spacingAndGlyphs">20</text>
<text x="882.1" y="2163.7" font-size="33" textLength="37.8" lengthAdjust="spacingAndGlyphs">20</text>
<text x="314.8" y="2163.7" font-size="33" textLength="36.5" lengthAdjust="spacingAndGlyphs">40</text>
<text x="983.9" y="2163.7" font-size="33" textLength="36.5" lengthAdjust="spacingAndGlyphs">40</text>
<text x="414.1" y="2163.7" font-size="33" textLength="37.7" lengthAdjust="spacingAndGlyphs">60</text>
<text x="1082.8" y="2163.7" font-size="33" textLength="37.7" lengthAdjust="spacingAndGlyphs">60</text>
<text x="514.5" y="2163.7" font-size="33" textLength="37.7" lengthAdjust="spacingAndGlyphs">80</text>
<text x="1184" y="2163.7" font-size="33" textLength="37.7" lengthAdjust="spacingAndGlyphs">80</text>
<text x="607.1" y="2163.7" font-size="33" textLength="52.9" lengthAdjust="spacingAndGlyphs">100</text>
<text x="1276.2" y="2163.7" font-size="33" textLength="53" lengthAdjust="spacingAndGlyphs">100</text>
<text x="252.7" y="2202.9" font-size="33" textLength="258.4" lengthAdjust="spacingAndGlyphs">Percent Gait Cycle</text>
<text x="914.5" y="2202.9" font-size="33" textLength="259.5" lengthAdjust="spacingAndGlyphs">Percent Gait Cycle</text>
<text x="67.2" y="193.6" font-size="33" textLength="146.1" lengthAdjust="spacingAndGlyphs" text-anchor="middle" transform="rotate(-90 67.2 193.6)">Activation</text>
<text x="24.9" y="630.9" font-size="33" textLength="166.3" lengthAdjust="spacingAndGlyphs" text-anchor="middle" transform="rotate(-90 24.9 630.9)">Normalized</text>
<text x="66.5" y="630.9" font-size="33" textLength="181" lengthAdjust="spacingAndGlyphs" text-anchor="middle" transform="rotate(-90 66.5 630.9)">Fiber Length</text>
<text x="24.9" y="1066.5" font-size="33" textLength="168.3" lengthAdjust="spacingAndGlyphs" text-anchor="middle" transform="rotate(-90 24.9 1066.5)">Normalized</text>
<text x="66.5" y="1067.5" font-size="33" textLength="193.8" lengthAdjust="spacingAndGlyphs" text-anchor="middle" transform="rotate(-90 66.5 1067.5)">Fiber Velocity</text>
<text x="24.9" y="1503.2" font-size="33" textLength="248.4" lengthAdjust="spacingAndGlyphs" text-anchor="middle" transform="rotate(-90 24.9 1503.2)">Force Generation</text>
<text x="66.5" y="1503.2" font-size="33" textLength="92.3" lengthAdjust="spacingAndGlyphs" text-anchor="middle" transform="rotate(-90 66.5 1503.2)">Ability</text>
<text x="24.9" y="1922" font-size="33" textLength="264.2" lengthAdjust="spacingAndGlyphs" text-anchor="middle" transform="rotate(-90 24.9 1922)">Normalized Active</text>
<text x="66.5" y="1921.5" font-size="33" textLength="255" lengthAdjust="spacingAndGlyphs" text-anchor="middle" transform="rotate(-90 66.5 1921.5)">Fiber Force (N/kg)</text>
</svg></body></html>
